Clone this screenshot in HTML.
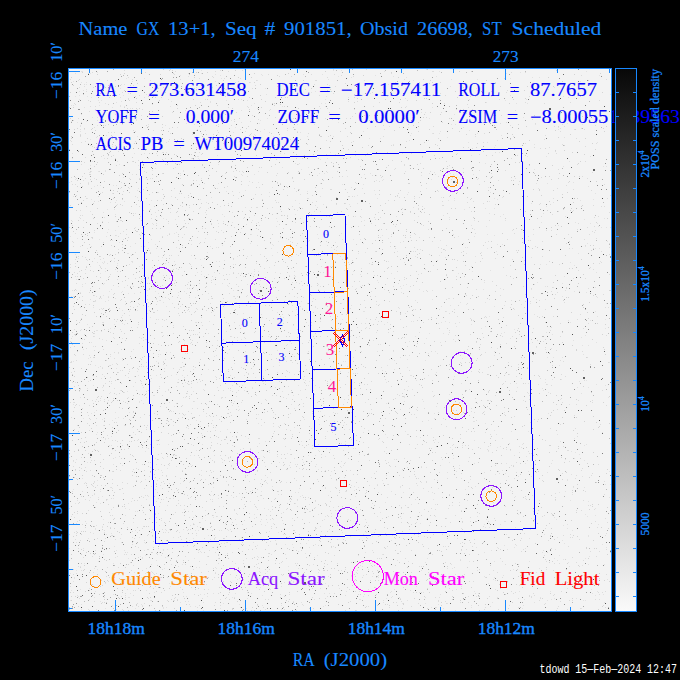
<!DOCTYPE html><html><head><meta charset="utf-8"><style>html,body{margin:0;padding:0;background:#000;}svg{display:block}text{white-space:pre}</style></head><body>
<svg width="680" height="680" viewBox="0 0 680 680" shape-rendering="crispEdges">
<rect x="0" y="0" width="680" height="680" fill="#000"/>
<rect x="69" y="69" width="542" height="542" fill="#f3f3f3"/>
<path fill="#d4d4d4" d="M163 69h1v1h-1M349 69h1v1h-1M427 69h1v1h-1M453 69h1v1h-1M169 70h1v1h-1M172 70h1v1h-1M235 70h1v1h-1M556 70h1v1h-1M325 71h1v1h-1M459 71h1v1h-1M471 71h1v1h-1M82 72h1v1h-1M196 72h1v1h-1M207 72h1v1h-1M391 72h1v1h-1M88 73h1v1h-1M124 73h1v1h-1M173 73h1v1h-1M254 73h1v1h-1M288 73h1v1h-1M506 73h1v1h-1M600 73h1v1h-1M97 74h1v1h-1M120 74h1v1h-1M160 74h1v1h-1M189 74h1v1h-1M311 74h1v1h-1M574 74h1v1h-1M277 75h1v1h-1M363 75h1v1h-1M71 77h1v1h-1M194 77h1v1h-1M238 77h1v1h-1M251 77h1v1h-1M398 77h1v1h-1M548 77h1v1h-1M79 79h1v1h-1M423 79h1v1h-1M223 80h1v1h-1M303 80h1v1h-1M430 80h1v1h-1M486 80h1v1h-1M588 80h1v1h-1M215 81h1v1h-1M562 81h1v1h-1M71 82h1v1h-1M254 82h1v1h-1M419 82h1v1h-1M432 82h1v1h-1M137 83h1v1h-1M295 83h1v1h-1M429 83h1v1h-1M111 84h1v1h-1M202 84h1v1h-1M230 84h1v1h-1M260 84h1v1h-1M299 84h1v1h-1M73 85h1v1h-1M100 85h1v1h-1M108 85h1v1h-1M120 85h1v1h-1M130 85h1v1h-1M216 85h1v1h-1M115 86h1v1h-1M210 86h1v1h-1M500 86h1v1h-1M527 86h1v1h-1M553 86h1v1h-1M105 87h1v1h-1M157 87h1v1h-1M330 87h1v1h-1M108 88h1v1h-1M224 88h1v1h-1M311 88h1v1h-1M405 88h1v1h-1M98 89h1v1h-1M196 89h1v1h-1M203 89h1v1h-1M305 89h1v1h-1M330 89h1v1h-1M469 89h1v1h-1M98 90h1v1h-1M124 90h1v1h-1M206 90h1v1h-1M327 90h1v1h-1M524 90h1v1h-1M533 90h1v1h-1M179 91h1v1h-1M188 91h1v1h-1M331 91h1v1h-1M455 91h1v1h-1M491 91h1v1h-1M70 92h1v1h-1M165 92h1v1h-1M602 92h1v1h-1M100 93h1v1h-1M130 93h1v1h-1M461 93h1v1h-1M83 94h1v1h-1M220 94h1v1h-1M309 94h1v1h-1M354 94h1v1h-1M377 94h1v1h-1M260 95h1v1h-1M148 96h1v1h-1M208 96h1v1h-1M470 96h1v1h-1M580 96h1v1h-1M155 97h1v1h-1M161 97h1v1h-1M275 97h1v1h-1M457 97h1v1h-1M136 98h1v1h-1M357 98h1v1h-1M424 98h1v1h-1M426 98h1v1h-1M525 98h1v1h-1M193 99h1v1h-1M207 99h1v1h-1M261 99h1v1h-1M385 99h1v1h-1M513 99h1v1h-1M129 100h1v1h-1M159 100h1v1h-1M416 100h1v1h-1M90 101h1v1h-1M265 101h1v1h-1M354 102h1v1h-1M485 102h1v1h-1M272 103h1v1h-1M274 103h1v1h-1M432 103h1v1h-1M509 103h1v1h-1M108 104h1v1h-1M152 104h1v1h-1M280 104h1v1h-1M195 105h1v1h-1M217 105h1v1h-1M274 105h1v1h-1M73 107h1v1h-1M124 107h1v1h-1M261 107h1v1h-1M401 107h1v1h-1M127 108h1v1h-1M136 108h1v1h-1M139 108h1v1h-1M177 108h1v1h-1M232 108h1v1h-1M298 108h1v1h-1M249 109h1v1h-1M354 109h1v1h-1M463 109h1v1h-1M590 110h1v1h-1M152 111h1v1h-1M291 111h1v1h-1M329 112h1v1h-1M430 112h1v1h-1M213 113h1v1h-1M285 113h1v1h-1M355 113h1v1h-1M103 114h1v1h-1M225 114h1v1h-1M424 114h1v1h-1M440 114h1v1h-1M369 115h1v1h-1M374 115h1v1h-1M474 115h1v1h-1M495 115h1v1h-1M534 115h1v1h-1M162 116h1v1h-1M582 116h1v1h-1M423 117h1v1h-1M70 118h1v1h-1M130 118h1v1h-1M193 118h1v1h-1M239 118h1v1h-1M350 118h1v1h-1M404 118h1v1h-1M449 118h1v1h-1M196 119h1v1h-1M234 119h1v1h-1M332 119h1v1h-1M231 120h1v1h-1M286 120h1v1h-1M373 120h1v1h-1M420 120h1v1h-1M489 120h1v1h-1M198 121h1v1h-1M154 122h1v1h-1M376 122h1v1h-1M418 122h1v1h-1M100 124h1v1h-1M108 124h1v1h-1M162 124h1v1h-1M518 124h1v1h-1M103 125h1v1h-1M146 125h1v1h-1M201 125h1v1h-1M216 125h1v1h-1M413 125h1v1h-1M494 125h1v1h-1M148 126h1v1h-1M218 126h1v1h-1M248 126h1v1h-1M328 126h1v1h-1M375 126h1v1h-1M526 126h1v1h-1M558 126h1v1h-1M606 126h1v1h-1M172 127h1v1h-1M293 127h1v1h-1M77 128h1v1h-1M84 128h1v1h-1M92 128h1v1h-1M229 128h1v1h-1M246 128h1v1h-1M287 128h1v1h-1M345 128h1v1h-1M452 128h1v1h-1M603 128h1v1h-1M74 129h1v1h-1M91 129h1v1h-1M295 129h1v1h-1M429 129h1v1h-1M496 129h1v1h-1M575 129h1v1h-1M95 130h1v1h-1M161 130h1v1h-1M394 130h1v1h-1M555 130h1v1h-1M69 131h1v1h-1M168 131h1v1h-1M340 131h1v1h-1M459 131h1v1h-1M604 131h1v1h-1M297 132h1v1h-1M350 132h1v1h-1M271 133h1v1h-1M206 134h1v1h-1M250 134h1v1h-1M319 134h1v1h-1M466 134h1v1h-1M475 134h1v1h-1M512 134h1v1h-1M570 134h1v1h-1M80 135h1v1h-1M111 135h1v1h-1M330 135h1v1h-1M71 136h1v1h-1M112 136h1v1h-1M320 136h1v1h-1M321 136h1v1h-1M296 137h1v1h-1M558 137h1v1h-1M71 138h1v1h-1M87 138h1v1h-1M112 138h1v1h-1M181 138h1v1h-1M215 138h1v1h-1M274 138h1v1h-1M585 138h1v1h-1M152 139h1v1h-1M160 139h1v1h-1M206 139h1v1h-1M300 139h1v1h-1M510 139h1v1h-1M125 140h1v1h-1M204 140h1v1h-1M428 140h1v1h-1M529 140h1v1h-1M330 141h1v1h-1M579 141h1v1h-1M123 142h1v1h-1M129 142h1v1h-1M176 142h1v1h-1M226 142h1v1h-1M424 142h1v1h-1M99 143h1v1h-1M134 143h1v1h-1M148 143h1v1h-1M208 143h1v1h-1M298 143h1v1h-1M298 143h1v1h-1M477 143h1v1h-1M592 143h1v1h-1M112 144h1v1h-1M119 144h1v1h-1M198 144h1v1h-1M277 144h1v1h-1M435 144h1v1h-1M90 145h1v1h-1M181 145h1v1h-1M267 145h1v1h-1M274 145h1v1h-1M342 145h1v1h-1M400 145h1v1h-1M564 145h1v1h-1M126 146h1v1h-1M282 146h1v1h-1M94 147h1v1h-1M277 147h1v1h-1M362 147h1v1h-1M405 147h1v1h-1M463 147h1v1h-1M476 147h1v1h-1M270 148h1v1h-1M545 148h1v1h-1M69 149h1v1h-1M595 149h1v1h-1M145 150h1v1h-1M555 150h1v1h-1M564 150h1v1h-1M355 151h1v1h-1M483 151h1v1h-1M109 152h1v1h-1M387 152h1v1h-1M572 152h1v1h-1M149 153h1v1h-1M202 153h1v1h-1M367 153h1v1h-1M548 153h1v1h-1M141 154h1v1h-1M163 154h1v1h-1M174 154h1v1h-1M191 154h1v1h-1M296 154h1v1h-1M313 154h1v1h-1M456 154h1v1h-1M584 154h1v1h-1M103 155h1v1h-1M108 155h1v1h-1M176 155h1v1h-1M256 155h1v1h-1M304 155h1v1h-1M486 155h1v1h-1M492 155h1v1h-1M525 155h1v1h-1M111 156h1v1h-1M195 156h1v1h-1M304 156h1v1h-1M308 156h1v1h-1M422 156h1v1h-1M132 157h1v1h-1M350 157h1v1h-1M107 158h1v1h-1M148 158h1v1h-1M148 158h1v1h-1M192 158h1v1h-1M270 158h1v1h-1M296 158h1v1h-1M162 159h1v1h-1M193 159h1v1h-1M408 159h1v1h-1M163 160h1v1h-1M133 161h1v1h-1M401 161h1v1h-1M580 161h1v1h-1M97 162h1v1h-1M108 162h1v1h-1M135 162h1v1h-1M218 162h1v1h-1M325 162h1v1h-1M331 162h1v1h-1M479 162h1v1h-1M515 162h1v1h-1M519 162h1v1h-1M175 163h1v1h-1M578 163h1v1h-1M96 164h1v1h-1M167 164h1v1h-1M179 164h1v1h-1M202 164h1v1h-1M275 164h1v1h-1M297 164h1v1h-1M338 164h1v1h-1M417 164h1v1h-1M491 164h1v1h-1M116 165h1v1h-1M123 165h1v1h-1M143 165h1v1h-1M202 165h1v1h-1M235 165h1v1h-1M388 165h1v1h-1M552 165h1v1h-1M94 166h1v1h-1M271 166h1v1h-1M447 166h1v1h-1M247 167h1v1h-1M259 167h1v1h-1M338 167h1v1h-1M386 167h1v1h-1M173 168h1v1h-1M317 168h1v1h-1M423 168h1v1h-1M447 168h1v1h-1M139 169h1v1h-1M105 170h1v1h-1M236 170h1v1h-1M346 170h1v1h-1M90 171h1v1h-1M216 171h1v1h-1M298 171h1v1h-1M337 171h1v1h-1M267 172h1v1h-1M288 172h1v1h-1M421 172h1v1h-1M463 172h1v1h-1M489 172h1v1h-1M84 173h1v1h-1M122 173h1v1h-1M163 173h1v1h-1M287 173h1v1h-1M298 173h1v1h-1M404 173h1v1h-1M534 173h1v1h-1M559 173h1v1h-1M89 174h1v1h-1M90 174h1v1h-1M103 174h1v1h-1M136 174h1v1h-1M152 174h1v1h-1M309 174h1v1h-1M119 175h1v1h-1M198 175h1v1h-1M209 175h1v1h-1M380 175h1v1h-1M460 175h1v1h-1M339 176h1v1h-1M382 176h1v1h-1M492 176h1v1h-1M549 176h1v1h-1M574 176h1v1h-1M579 176h1v1h-1M235 177h1v1h-1M292 177h1v1h-1M511 177h1v1h-1M558 178h1v1h-1M90 179h1v1h-1M96 179h1v1h-1M130 179h1v1h-1M139 179h1v1h-1M147 179h1v1h-1M304 179h1v1h-1M442 179h1v1h-1M448 179h1v1h-1M551 179h1v1h-1M77 180h1v1h-1M193 180h1v1h-1M323 180h1v1h-1M511 180h1v1h-1M513 180h1v1h-1M104 181h1v1h-1M241 181h1v1h-1M293 181h1v1h-1M374 181h1v1h-1M484 181h1v1h-1M569 181h1v1h-1M596 181h1v1h-1M221 182h1v1h-1M277 182h1v1h-1M80 183h1v1h-1M408 183h1v1h-1M409 183h1v1h-1M426 183h1v1h-1M182 184h1v1h-1M241 184h1v1h-1M262 184h1v1h-1M280 184h1v1h-1M124 185h1v1h-1M421 185h1v1h-1M597 185h1v1h-1M77 186h1v1h-1M82 186h1v1h-1M121 187h1v1h-1M128 187h1v1h-1M224 187h1v1h-1M256 187h1v1h-1M315 187h1v1h-1M91 188h1v1h-1M355 188h1v1h-1M143 189h1v1h-1M162 189h1v1h-1M283 189h1v1h-1M298 189h1v1h-1M345 189h1v1h-1M533 189h1v1h-1M539 189h1v1h-1M113 190h1v1h-1M171 190h1v1h-1M180 190h1v1h-1M379 190h1v1h-1M400 190h1v1h-1M437 190h1v1h-1M488 190h1v1h-1M539 190h1v1h-1M553 190h1v1h-1M77 191h1v1h-1M117 191h1v1h-1M420 191h1v1h-1M69 192h1v1h-1M69 192h1v1h-1M129 192h1v1h-1M140 192h1v1h-1M457 192h1v1h-1M567 192h1v1h-1M100 193h1v1h-1M113 193h1v1h-1M181 193h1v1h-1M307 193h1v1h-1M364 193h1v1h-1M509 193h1v1h-1M122 194h1v1h-1M163 194h1v1h-1M379 194h1v1h-1M390 194h1v1h-1M562 194h1v1h-1M188 195h1v1h-1M233 195h1v1h-1M287 195h1v1h-1M397 195h1v1h-1M541 195h1v1h-1M85 196h1v1h-1M395 196h1v1h-1M414 196h1v1h-1M503 196h1v1h-1M527 196h1v1h-1M175 197h1v1h-1M404 197h1v1h-1M443 197h1v1h-1M467 197h1v1h-1M146 198h1v1h-1M163 198h1v1h-1M253 198h1v1h-1M471 198h1v1h-1M577 198h1v1h-1M122 199h1v1h-1M470 199h1v1h-1M83 200h1v1h-1M138 200h1v1h-1M157 200h1v1h-1M394 200h1v1h-1M523 200h1v1h-1M140 201h1v1h-1M487 201h1v1h-1M549 201h1v1h-1M81 202h1v1h-1M212 202h1v1h-1M573 202h1v1h-1M93 203h1v1h-1M201 203h1v1h-1M208 203h1v1h-1M336 203h1v1h-1M344 203h1v1h-1M385 203h1v1h-1M120 204h1v1h-1M136 204h1v1h-1M171 204h1v1h-1M193 204h1v1h-1M217 204h1v1h-1M116 205h1v1h-1M186 205h1v1h-1M224 205h1v1h-1M380 205h1v1h-1M418 205h1v1h-1M582 205h1v1h-1M86 206h1v1h-1M131 206h1v1h-1M154 206h1v1h-1M231 206h1v1h-1M326 206h1v1h-1M581 206h1v1h-1M299 207h1v1h-1M97 208h1v1h-1M288 208h1v1h-1M346 208h1v1h-1M451 208h1v1h-1M455 208h1v1h-1M571 208h1v1h-1M294 209h1v1h-1M347 209h1v1h-1M404 209h1v1h-1M76 210h1v1h-1M149 210h1v1h-1M158 210h1v1h-1M185 210h1v1h-1M206 210h1v1h-1M547 210h1v1h-1M570 210h1v1h-1M177 211h1v1h-1M281 211h1v1h-1M410 211h1v1h-1M525 211h1v1h-1M572 211h1v1h-1M129 212h1v1h-1M176 212h1v1h-1M337 212h1v1h-1M421 212h1v1h-1M424 212h1v1h-1M447 213h1v1h-1M92 214h1v1h-1M151 214h1v1h-1M272 214h1v1h-1M330 214h1v1h-1M375 214h1v1h-1M429 214h1v1h-1M494 214h1v1h-1M133 215h1v1h-1M281 215h1v1h-1M284 215h1v1h-1M115 216h1v1h-1M178 216h1v1h-1M329 216h1v1h-1M353 216h1v1h-1M360 216h1v1h-1M244 217h1v1h-1M249 217h1v1h-1M265 217h1v1h-1M473 217h1v1h-1M93 218h1v1h-1M120 218h1v1h-1M139 218h1v1h-1M189 218h1v1h-1M505 218h1v1h-1M537 218h1v1h-1M607 218h1v1h-1M78 220h1v1h-1M141 220h1v1h-1M217 220h1v1h-1M261 220h1v1h-1M116 221h1v1h-1M122 221h1v1h-1M168 221h1v1h-1M428 221h1v1h-1M478 221h1v1h-1M303 222h1v1h-1M596 222h1v1h-1M185 223h1v1h-1M223 223h1v1h-1M383 223h1v1h-1M400 223h1v1h-1M176 224h1v1h-1M211 224h1v1h-1M393 224h1v1h-1M396 224h1v1h-1M421 224h1v1h-1M156 225h1v1h-1M375 225h1v1h-1M555 225h1v1h-1M100 226h1v1h-1M184 226h1v1h-1M345 226h1v1h-1M561 226h1v1h-1M83 227h1v1h-1M142 227h1v1h-1M186 227h1v1h-1M351 227h1v1h-1M551 227h1v1h-1M134 228h1v1h-1M152 228h1v1h-1M156 228h1v1h-1M160 228h1v1h-1M256 228h1v1h-1M446 228h1v1h-1M472 228h1v1h-1M516 228h1v1h-1M126 229h1v1h-1M258 229h1v1h-1M381 229h1v1h-1M406 229h1v1h-1M513 229h1v1h-1M135 230h1v1h-1M73 231h1v1h-1M136 231h1v1h-1M137 231h1v1h-1M406 231h1v1h-1M218 232h1v1h-1M87 233h1v1h-1M414 233h1v1h-1M502 233h1v1h-1M81 234h1v1h-1M169 234h1v1h-1M178 234h1v1h-1M207 234h1v1h-1M272 234h1v1h-1M359 234h1v1h-1M87 235h1v1h-1M300 235h1v1h-1M339 235h1v1h-1M378 235h1v1h-1M403 235h1v1h-1M405 235h1v1h-1M178 236h1v1h-1M92 237h1v1h-1M128 237h1v1h-1M162 237h1v1h-1M197 237h1v1h-1M378 237h1v1h-1M405 237h1v1h-1M410 237h1v1h-1M454 237h1v1h-1M571 237h1v1h-1M248 238h1v1h-1M270 238h1v1h-1M364 238h1v1h-1M288 239h1v1h-1M468 239h1v1h-1M110 240h1v1h-1M127 240h1v1h-1M178 240h1v1h-1M189 240h1v1h-1M191 240h1v1h-1M264 240h1v1h-1M375 240h1v1h-1M411 240h1v1h-1M416 240h1v1h-1M159 241h1v1h-1M224 241h1v1h-1M491 241h1v1h-1M569 241h1v1h-1M84 242h1v1h-1M103 242h1v1h-1M200 242h1v1h-1M204 242h1v1h-1M320 242h1v1h-1M382 242h1v1h-1M522 242h1v1h-1M372 243h1v1h-1M463 243h1v1h-1M566 243h1v1h-1M89 244h1v1h-1M356 244h1v1h-1M182 245h1v1h-1M320 245h1v1h-1M483 245h1v1h-1M590 245h1v1h-1M593 245h1v1h-1M101 246h1v1h-1M230 246h1v1h-1M337 246h1v1h-1M122 247h1v1h-1M405 247h1v1h-1M537 247h1v1h-1M212 248h1v1h-1M367 248h1v1h-1M532 248h1v1h-1M243 249h1v1h-1M382 249h1v1h-1M417 249h1v1h-1M443 249h1v1h-1M543 249h1v1h-1M96 250h1v1h-1M122 250h1v1h-1M312 250h1v1h-1M422 250h1v1h-1M518 250h1v1h-1M591 250h1v1h-1M358 251h1v1h-1M376 251h1v1h-1M463 251h1v1h-1M394 252h1v1h-1M517 252h1v1h-1M150 253h1v1h-1M230 253h1v1h-1M318 253h1v1h-1M343 253h1v1h-1M419 253h1v1h-1M480 253h1v1h-1M132 254h1v1h-1M324 254h1v1h-1M417 254h1v1h-1M239 255h1v1h-1M406 255h1v1h-1M481 255h1v1h-1M565 255h1v1h-1M99 256h1v1h-1M264 256h1v1h-1M397 256h1v1h-1M417 257h1v1h-1M522 257h1v1h-1M114 258h1v1h-1M166 258h1v1h-1M169 258h1v1h-1M195 258h1v1h-1M204 258h1v1h-1M233 258h1v1h-1M246 258h1v1h-1M356 258h1v1h-1M86 259h1v1h-1M342 259h1v1h-1M345 259h1v1h-1M452 259h1v1h-1M454 259h1v1h-1M581 259h1v1h-1M152 260h1v1h-1M384 260h1v1h-1M92 261h1v1h-1M335 261h1v1h-1M386 261h1v1h-1M463 261h1v1h-1M465 261h1v1h-1M480 261h1v1h-1M168 262h1v1h-1M275 262h1v1h-1M285 262h1v1h-1M353 262h1v1h-1M372 262h1v1h-1M189 263h1v1h-1M296 263h1v1h-1M593 263h1v1h-1M175 264h1v1h-1M349 264h1v1h-1M372 264h1v1h-1M424 264h1v1h-1M524 264h1v1h-1M534 264h1v1h-1M174 265h1v1h-1M411 265h1v1h-1M465 265h1v1h-1M75 266h1v1h-1M260 266h1v1h-1M287 266h1v1h-1M305 266h1v1h-1M391 266h1v1h-1M86 267h1v1h-1M245 267h1v1h-1M388 267h1v1h-1M456 267h1v1h-1M101 268h1v1h-1M142 268h1v1h-1M223 268h1v1h-1M387 268h1v1h-1M569 268h1v1h-1M572 268h1v1h-1M589 268h1v1h-1M173 269h1v1h-1M173 269h1v1h-1M437 269h1v1h-1M469 269h1v1h-1M81 270h1v1h-1M90 270h1v1h-1M170 270h1v1h-1M453 270h1v1h-1M120 271h1v1h-1M184 271h1v1h-1M217 271h1v1h-1M254 271h1v1h-1M373 271h1v1h-1M384 271h1v1h-1M416 271h1v1h-1M267 272h1v1h-1M287 272h1v1h-1M233 273h1v1h-1M367 273h1v1h-1M133 274h1v1h-1M226 274h1v1h-1M245 274h1v1h-1M306 274h1v1h-1M583 274h1v1h-1M166 275h1v1h-1M182 275h1v1h-1M195 275h1v1h-1M377 275h1v1h-1M410 275h1v1h-1M446 275h1v1h-1M555 275h1v1h-1M96 276h1v1h-1M109 276h1v1h-1M204 276h1v1h-1M253 276h1v1h-1M289 276h1v1h-1M361 276h1v1h-1M464 276h1v1h-1M510 276h1v1h-1M100 277h1v1h-1M139 277h1v1h-1M148 277h1v1h-1M207 277h1v1h-1M265 277h1v1h-1M294 277h1v1h-1M83 278h1v1h-1M387 278h1v1h-1M406 278h1v1h-1M163 279h1v1h-1M224 279h1v1h-1M227 279h1v1h-1M456 279h1v1h-1M472 279h1v1h-1M125 280h1v1h-1M241 280h1v1h-1M278 281h1v1h-1M354 281h1v1h-1M416 281h1v1h-1M440 281h1v1h-1M422 282h1v1h-1M553 282h1v1h-1M140 283h1v1h-1M147 283h1v1h-1M149 283h1v1h-1M229 283h1v1h-1M317 283h1v1h-1M578 283h1v1h-1M132 284h1v1h-1M172 284h1v1h-1M187 284h1v1h-1M190 284h1v1h-1M385 284h1v1h-1M185 285h1v1h-1M307 285h1v1h-1M317 285h1v1h-1M413 285h1v1h-1M496 285h1v1h-1M130 286h1v1h-1M160 286h1v1h-1M206 286h1v1h-1M205 287h1v1h-1M452 287h1v1h-1M467 287h1v1h-1M99 288h1v1h-1M569 288h1v1h-1M75 289h1v1h-1M292 289h1v1h-1M355 289h1v1h-1M74 290h1v1h-1M237 290h1v1h-1M259 290h1v1h-1M609 290h1v1h-1M610 290h1v1h-1M268 291h1v1h-1M324 291h1v1h-1M495 291h1v1h-1M140 292h1v1h-1M80 293h1v1h-1M114 293h1v1h-1M289 293h1v1h-1M403 293h1v1h-1M77 294h1v1h-1M310 294h1v1h-1M525 294h1v1h-1M93 295h1v1h-1M189 295h1v1h-1M472 295h1v1h-1M593 295h1v1h-1M100 296h1v1h-1M172 296h1v1h-1M211 296h1v1h-1M347 296h1v1h-1M370 296h1v1h-1M478 296h1v1h-1M72 297h1v1h-1M79 297h1v1h-1M100 297h1v1h-1M177 297h1v1h-1M332 297h1v1h-1M533 297h1v1h-1M566 297h1v1h-1M568 297h1v1h-1M99 298h1v1h-1M156 298h1v1h-1M212 298h1v1h-1M453 298h1v1h-1M470 298h1v1h-1M487 298h1v1h-1M554 298h1v1h-1M121 299h1v1h-1M82 300h1v1h-1M334 300h1v1h-1M519 300h1v1h-1M563 300h1v1h-1M93 301h1v1h-1M505 301h1v1h-1M525 301h1v1h-1M326 302h1v1h-1M589 302h1v1h-1M193 303h1v1h-1M193 303h1v1h-1M222 303h1v1h-1M307 303h1v1h-1M340 303h1v1h-1M607 303h1v1h-1M182 304h1v1h-1M360 304h1v1h-1M511 304h1v1h-1M583 304h1v1h-1M93 305h1v1h-1M143 305h1v1h-1M191 305h1v1h-1M246 305h1v1h-1M269 305h1v1h-1M378 305h1v1h-1M458 305h1v1h-1M223 306h1v1h-1M539 306h1v1h-1M174 307h1v1h-1M188 307h1v1h-1M365 307h1v1h-1M409 307h1v1h-1M524 307h1v1h-1M583 307h1v1h-1M103 308h1v1h-1M109 308h1v1h-1M513 308h1v1h-1M74 309h1v1h-1M130 309h1v1h-1M188 309h1v1h-1M235 309h1v1h-1M302 309h1v1h-1M468 309h1v1h-1M110 310h1v1h-1M169 311h1v1h-1M195 311h1v1h-1M334 311h1v1h-1M407 311h1v1h-1M452 311h1v1h-1M94 312h1v1h-1M105 312h1v1h-1M153 312h1v1h-1M154 312h1v1h-1M185 312h1v1h-1M259 312h1v1h-1M454 312h1v1h-1M571 312h1v1h-1M587 312h1v1h-1M101 313h1v1h-1M101 313h1v1h-1M124 313h1v1h-1M230 313h1v1h-1M298 313h1v1h-1M400 313h1v1h-1M82 314h1v1h-1M191 314h1v1h-1M342 314h1v1h-1M400 314h1v1h-1M85 315h1v1h-1M214 315h1v1h-1M295 315h1v1h-1M518 315h1v1h-1M96 316h1v1h-1M106 316h1v1h-1M337 316h1v1h-1M100 317h1v1h-1M121 317h1v1h-1M224 317h1v1h-1M376 317h1v1h-1M431 317h1v1h-1M539 317h1v1h-1M273 318h1v1h-1M336 318h1v1h-1M436 318h1v1h-1M588 318h1v1h-1M114 319h1v1h-1M117 319h1v1h-1M162 319h1v1h-1M370 319h1v1h-1M370 319h1v1h-1M498 319h1v1h-1M76 320h1v1h-1M80 320h1v1h-1M191 320h1v1h-1M269 320h1v1h-1M417 320h1v1h-1M471 320h1v1h-1M473 320h1v1h-1M381 321h1v1h-1M79 322h1v1h-1M138 322h1v1h-1M287 322h1v1h-1M127 323h1v1h-1M155 323h1v1h-1M271 323h1v1h-1M340 323h1v1h-1M520 323h1v1h-1M597 323h1v1h-1M102 324h1v1h-1M213 324h1v1h-1M293 324h1v1h-1M373 324h1v1h-1M377 324h1v1h-1M605 324h1v1h-1M173 325h1v1h-1M247 325h1v1h-1M527 325h1v1h-1M92 326h1v1h-1M146 326h1v1h-1M529 326h1v1h-1M89 327h1v1h-1M173 327h1v1h-1M403 327h1v1h-1M608 327h1v1h-1M240 328h1v1h-1M390 328h1v1h-1M439 328h1v1h-1M447 328h1v1h-1M518 328h1v1h-1M104 329h1v1h-1M101 330h1v1h-1M189 330h1v1h-1M193 330h1v1h-1M284 330h1v1h-1M300 330h1v1h-1M311 330h1v1h-1M361 330h1v1h-1M377 330h1v1h-1M517 330h1v1h-1M94 331h1v1h-1M490 331h1v1h-1M92 332h1v1h-1M161 332h1v1h-1M288 332h1v1h-1M515 332h1v1h-1M532 332h1v1h-1M562 332h1v1h-1M76 333h1v1h-1M93 333h1v1h-1M113 333h1v1h-1M124 333h1v1h-1M290 333h1v1h-1M298 333h1v1h-1M315 333h1v1h-1M69 334h1v1h-1M75 334h1v1h-1M193 334h1v1h-1M602 334h1v1h-1M75 335h1v1h-1M310 335h1v1h-1M500 335h1v1h-1M162 336h1v1h-1M199 336h1v1h-1M271 336h1v1h-1M286 336h1v1h-1M289 336h1v1h-1M313 336h1v1h-1M327 336h1v1h-1M143 337h1v1h-1M234 337h1v1h-1M270 337h1v1h-1M404 337h1v1h-1M99 338h1v1h-1M154 338h1v1h-1M398 338h1v1h-1M401 338h1v1h-1M84 339h1v1h-1M190 339h1v1h-1M337 339h1v1h-1M458 339h1v1h-1M531 339h1v1h-1M545 339h1v1h-1M592 339h1v1h-1M179 341h1v1h-1M290 341h1v1h-1M434 341h1v1h-1M445 341h1v1h-1M476 341h1v1h-1M89 342h1v1h-1M197 342h1v1h-1M308 342h1v1h-1M385 342h1v1h-1M405 342h1v1h-1M562 342h1v1h-1M78 343h1v1h-1M153 343h1v1h-1M417 343h1v1h-1M72 344h1v1h-1M192 344h1v1h-1M168 345h1v1h-1M212 345h1v1h-1M245 345h1v1h-1M389 345h1v1h-1M441 345h1v1h-1M572 345h1v1h-1M74 346h1v1h-1M142 346h1v1h-1M324 346h1v1h-1M331 346h1v1h-1M416 346h1v1h-1M468 346h1v1h-1M70 347h1v1h-1M360 347h1v1h-1M491 347h1v1h-1M603 347h1v1h-1M216 348h1v1h-1M259 348h1v1h-1M260 348h1v1h-1M328 348h1v1h-1M479 349h1v1h-1M576 349h1v1h-1M604 349h1v1h-1M150 350h1v1h-1M238 350h1v1h-1M355 350h1v1h-1M576 350h1v1h-1M77 351h1v1h-1M334 351h1v1h-1M339 351h1v1h-1M377 351h1v1h-1M166 352h1v1h-1M192 352h1v1h-1M263 352h1v1h-1M153 353h1v1h-1M307 353h1v1h-1M311 353h1v1h-1M419 353h1v1h-1M499 353h1v1h-1M74 354h1v1h-1M481 354h1v1h-1M605 354h1v1h-1M345 355h1v1h-1M460 355h1v1h-1M480 355h1v1h-1M130 356h1v1h-1M144 356h1v1h-1M149 356h1v1h-1M246 356h1v1h-1M285 356h1v1h-1M452 356h1v1h-1M94 357h1v1h-1M521 357h1v1h-1M524 357h1v1h-1M586 357h1v1h-1M189 358h1v1h-1M276 358h1v1h-1M329 358h1v1h-1M141 359h1v1h-1M200 359h1v1h-1M209 359h1v1h-1M271 359h1v1h-1M443 359h1v1h-1M290 360h1v1h-1M291 360h1v1h-1M336 360h1v1h-1M376 360h1v1h-1M91 361h1v1h-1M315 361h1v1h-1M353 361h1v1h-1M532 361h1v1h-1M199 362h1v1h-1M465 362h1v1h-1M469 362h1v1h-1M158 363h1v1h-1M247 363h1v1h-1M297 363h1v1h-1M396 363h1v1h-1M88 364h1v1h-1M90 364h1v1h-1M117 364h1v1h-1M141 364h1v1h-1M148 364h1v1h-1M163 364h1v1h-1M204 364h1v1h-1M324 364h1v1h-1M341 364h1v1h-1M361 364h1v1h-1M449 364h1v1h-1M305 365h1v1h-1M440 365h1v1h-1M139 366h1v1h-1M148 366h1v1h-1M183 366h1v1h-1M193 366h1v1h-1M490 366h1v1h-1M511 366h1v1h-1M69 367h1v1h-1M181 367h1v1h-1M231 367h1v1h-1M365 367h1v1h-1M365 367h1v1h-1M488 367h1v1h-1M518 367h1v1h-1M81 368h1v1h-1M132 368h1v1h-1M147 368h1v1h-1M243 368h1v1h-1M251 368h1v1h-1M334 368h1v1h-1M521 368h1v1h-1M527 368h1v1h-1M208 369h1v1h-1M449 369h1v1h-1M479 369h1v1h-1M153 370h1v1h-1M183 370h1v1h-1M314 370h1v1h-1M583 370h1v1h-1M74 371h1v1h-1M190 371h1v1h-1M228 371h1v1h-1M299 371h1v1h-1M117 372h1v1h-1M246 372h1v1h-1M479 372h1v1h-1M128 373h1v1h-1M253 373h1v1h-1M368 373h1v1h-1M378 373h1v1h-1M400 373h1v1h-1M72 374h1v1h-1M160 374h1v1h-1M201 374h1v1h-1M294 374h1v1h-1M435 374h1v1h-1M487 374h1v1h-1M508 374h1v1h-1M92 375h1v1h-1M125 375h1v1h-1M150 375h1v1h-1M504 375h1v1h-1M534 375h1v1h-1M74 376h1v1h-1M96 376h1v1h-1M167 376h1v1h-1M347 376h1v1h-1M413 376h1v1h-1M539 376h1v1h-1M87 377h1v1h-1M165 377h1v1h-1M467 377h1v1h-1M498 377h1v1h-1M364 378h1v1h-1M424 378h1v1h-1M521 378h1v1h-1M584 378h1v1h-1M199 379h1v1h-1M303 379h1v1h-1M453 379h1v1h-1M560 379h1v1h-1M561 379h1v1h-1M90 380h1v1h-1M115 380h1v1h-1M140 380h1v1h-1M202 380h1v1h-1M325 380h1v1h-1M339 380h1v1h-1M478 380h1v1h-1M109 381h1v1h-1M191 381h1v1h-1M262 381h1v1h-1M388 381h1v1h-1M406 381h1v1h-1M164 382h1v1h-1M178 382h1v1h-1M234 382h1v1h-1M244 382h1v1h-1M255 382h1v1h-1M304 382h1v1h-1M182 383h1v1h-1M523 383h1v1h-1M237 384h1v1h-1M265 384h1v1h-1M312 384h1v1h-1M345 384h1v1h-1M78 385h1v1h-1M103 385h1v1h-1M421 385h1v1h-1M183 386h1v1h-1M239 386h1v1h-1M583 386h1v1h-1M340 387h1v1h-1M422 387h1v1h-1M230 388h1v1h-1M360 388h1v1h-1M305 389h1v1h-1M366 389h1v1h-1M370 389h1v1h-1M103 390h1v1h-1M121 390h1v1h-1M218 390h1v1h-1M266 390h1v1h-1M291 390h1v1h-1M407 390h1v1h-1M466 390h1v1h-1M489 390h1v1h-1M509 390h1v1h-1M127 391h1v1h-1M146 391h1v1h-1M187 391h1v1h-1M123 392h1v1h-1M291 392h1v1h-1M591 392h1v1h-1M114 393h1v1h-1M119 393h1v1h-1M186 393h1v1h-1M402 393h1v1h-1M539 393h1v1h-1M191 394h1v1h-1M288 394h1v1h-1M462 394h1v1h-1M133 395h1v1h-1M144 395h1v1h-1M214 395h1v1h-1M414 395h1v1h-1M556 395h1v1h-1M98 396h1v1h-1M186 396h1v1h-1M251 396h1v1h-1M402 396h1v1h-1M403 396h1v1h-1M433 396h1v1h-1M609 396h1v1h-1M97 397h1v1h-1M306 397h1v1h-1M512 397h1v1h-1M127 398h1v1h-1M189 398h1v1h-1M197 398h1v1h-1M292 399h1v1h-1M348 399h1v1h-1M368 399h1v1h-1M393 399h1v1h-1M576 399h1v1h-1M117 400h1v1h-1M242 400h1v1h-1M481 400h1v1h-1M487 400h1v1h-1M95 401h1v1h-1M98 401h1v1h-1M104 401h1v1h-1M209 401h1v1h-1M234 401h1v1h-1M319 401h1v1h-1M525 401h1v1h-1M590 401h1v1h-1M111 402h1v1h-1M231 402h1v1h-1M347 402h1v1h-1M553 402h1v1h-1M603 402h1v1h-1M93 403h1v1h-1M201 403h1v1h-1M437 403h1v1h-1M76 404h1v1h-1M206 404h1v1h-1M370 404h1v1h-1M556 404h1v1h-1M483 405h1v1h-1M496 405h1v1h-1M586 405h1v1h-1M181 406h1v1h-1M484 406h1v1h-1M487 406h1v1h-1M74 407h1v1h-1M119 407h1v1h-1M166 407h1v1h-1M329 407h1v1h-1M417 407h1v1h-1M444 407h1v1h-1M504 407h1v1h-1M122 408h1v1h-1M320 408h1v1h-1M333 408h1v1h-1M489 408h1v1h-1M228 409h1v1h-1M236 409h1v1h-1M103 410h1v1h-1M170 410h1v1h-1M272 410h1v1h-1M347 410h1v1h-1M352 410h1v1h-1M456 410h1v1h-1M553 410h1v1h-1M564 410h1v1h-1M73 411h1v1h-1M133 411h1v1h-1M267 411h1v1h-1M312 411h1v1h-1M318 411h1v1h-1M363 411h1v1h-1M395 411h1v1h-1M87 412h1v1h-1M115 412h1v1h-1M135 412h1v1h-1M273 412h1v1h-1M381 412h1v1h-1M396 412h1v1h-1M463 412h1v1h-1M483 412h1v1h-1M551 412h1v1h-1M179 413h1v1h-1M228 413h1v1h-1M335 413h1v1h-1M371 413h1v1h-1M397 413h1v1h-1M457 413h1v1h-1M144 414h1v1h-1M157 414h1v1h-1M183 414h1v1h-1M288 414h1v1h-1M484 414h1v1h-1M209 415h1v1h-1M216 415h1v1h-1M505 415h1v1h-1M550 415h1v1h-1M213 416h1v1h-1M221 416h1v1h-1M229 416h1v1h-1M367 416h1v1h-1M593 416h1v1h-1M182 417h1v1h-1M193 417h1v1h-1M273 417h1v1h-1M288 417h1v1h-1M303 417h1v1h-1M511 417h1v1h-1M562 417h1v1h-1M576 417h1v1h-1M89 418h1v1h-1M104 418h1v1h-1M123 418h1v1h-1M256 418h1v1h-1M405 418h1v1h-1M455 418h1v1h-1M129 419h1v1h-1M171 419h1v1h-1M188 419h1v1h-1M445 419h1v1h-1M534 419h1v1h-1M152 420h1v1h-1M167 420h1v1h-1M300 420h1v1h-1M326 420h1v1h-1M353 420h1v1h-1M168 421h1v1h-1M173 421h1v1h-1M221 421h1v1h-1M337 421h1v1h-1M359 421h1v1h-1M584 421h1v1h-1M114 422h1v1h-1M230 422h1v1h-1M264 422h1v1h-1M596 422h1v1h-1M166 423h1v1h-1M211 423h1v1h-1M609 423h1v1h-1M130 424h1v1h-1M169 424h1v1h-1M491 424h1v1h-1M89 425h1v1h-1M104 425h1v1h-1M125 425h1v1h-1M144 425h1v1h-1M208 425h1v1h-1M329 425h1v1h-1M524 425h1v1h-1M309 426h1v1h-1M361 426h1v1h-1M522 426h1v1h-1M599 426h1v1h-1M79 427h1v1h-1M112 427h1v1h-1M213 427h1v1h-1M279 427h1v1h-1M455 427h1v1h-1M462 427h1v1h-1M598 427h1v1h-1M91 428h1v1h-1M487 428h1v1h-1M137 429h1v1h-1M593 429h1v1h-1M118 430h1v1h-1M416 430h1v1h-1M556 430h1v1h-1M573 430h1v1h-1M78 431h1v1h-1M210 431h1v1h-1M274 431h1v1h-1M471 431h1v1h-1M81 432h1v1h-1M141 432h1v1h-1M161 432h1v1h-1M230 432h1v1h-1M237 432h1v1h-1M299 432h1v1h-1M168 433h1v1h-1M309 433h1v1h-1M577 433h1v1h-1M335 434h1v1h-1M460 434h1v1h-1M130 435h1v1h-1M241 435h1v1h-1M393 435h1v1h-1M427 435h1v1h-1M443 435h1v1h-1M226 436h1v1h-1M292 436h1v1h-1M491 436h1v1h-1M85 437h1v1h-1M210 437h1v1h-1M218 437h1v1h-1M236 437h1v1h-1M81 438h1v1h-1M291 438h1v1h-1M379 438h1v1h-1M452 438h1v1h-1M490 438h1v1h-1M184 439h1v1h-1M224 439h1v1h-1M533 439h1v1h-1M542 439h1v1h-1M72 440h1v1h-1M122 440h1v1h-1M134 440h1v1h-1M157 440h1v1h-1M356 440h1v1h-1M433 440h1v1h-1M495 440h1v1h-1M86 441h1v1h-1M131 441h1v1h-1M172 441h1v1h-1M359 441h1v1h-1M424 441h1v1h-1M80 442h1v1h-1M84 442h1v1h-1M96 442h1v1h-1M104 442h1v1h-1M144 442h1v1h-1M233 442h1v1h-1M383 442h1v1h-1M426 442h1v1h-1M484 442h1v1h-1M120 443h1v1h-1M187 443h1v1h-1M227 443h1v1h-1M610 443h1v1h-1M150 444h1v1h-1M220 444h1v1h-1M299 444h1v1h-1M345 444h1v1h-1M422 444h1v1h-1M127 445h1v1h-1M211 445h1v1h-1M306 445h1v1h-1M549 445h1v1h-1M550 445h1v1h-1M82 446h1v1h-1M138 446h1v1h-1M558 446h1v1h-1M142 447h1v1h-1M146 447h1v1h-1M304 447h1v1h-1M368 447h1v1h-1M455 447h1v1h-1M478 447h1v1h-1M506 447h1v1h-1M526 447h1v1h-1M415 448h1v1h-1M429 448h1v1h-1M503 448h1v1h-1M537 448h1v1h-1M558 448h1v1h-1M78 449h1v1h-1M94 449h1v1h-1M250 449h1v1h-1M510 449h1v1h-1M85 450h1v1h-1M115 450h1v1h-1M391 450h1v1h-1M496 450h1v1h-1M74 451h1v1h-1M92 451h1v1h-1M98 451h1v1h-1M232 451h1v1h-1M556 451h1v1h-1M258 452h1v1h-1M310 452h1v1h-1M311 452h1v1h-1M432 452h1v1h-1M549 452h1v1h-1M593 452h1v1h-1M111 453h1v1h-1M237 453h1v1h-1M368 453h1v1h-1M429 453h1v1h-1M130 454h1v1h-1M167 454h1v1h-1M173 454h1v1h-1M174 454h1v1h-1M284 454h1v1h-1M291 454h1v1h-1M132 455h1v1h-1M173 455h1v1h-1M198 455h1v1h-1M225 455h1v1h-1M364 455h1v1h-1M501 455h1v1h-1M533 455h1v1h-1M167 456h1v1h-1M204 457h1v1h-1M230 457h1v1h-1M321 457h1v1h-1M419 457h1v1h-1M561 457h1v1h-1M121 458h1v1h-1M186 458h1v1h-1M258 458h1v1h-1M259 458h1v1h-1M285 458h1v1h-1M334 458h1v1h-1M580 458h1v1h-1M103 459h1v1h-1M157 459h1v1h-1M351 459h1v1h-1M224 460h1v1h-1M432 460h1v1h-1M180 461h1v1h-1M229 461h1v1h-1M311 461h1v1h-1M523 461h1v1h-1M100 462h1v1h-1M136 462h1v1h-1M283 462h1v1h-1M290 462h1v1h-1M406 462h1v1h-1M478 462h1v1h-1M564 462h1v1h-1M120 463h1v1h-1M169 463h1v1h-1M344 463h1v1h-1M379 463h1v1h-1M386 463h1v1h-1M496 463h1v1h-1M501 463h1v1h-1M520 463h1v1h-1M587 463h1v1h-1M168 464h1v1h-1M183 464h1v1h-1M254 464h1v1h-1M284 464h1v1h-1M304 464h1v1h-1M164 465h1v1h-1M283 465h1v1h-1M389 465h1v1h-1M495 465h1v1h-1M100 466h1v1h-1M148 466h1v1h-1M188 466h1v1h-1M191 466h1v1h-1M296 466h1v1h-1M395 466h1v1h-1M491 466h1v1h-1M513 466h1v1h-1M549 466h1v1h-1M79 467h1v1h-1M290 467h1v1h-1M334 467h1v1h-1M509 467h1v1h-1M303 468h1v1h-1M75 469h1v1h-1M116 469h1v1h-1M138 469h1v1h-1M233 469h1v1h-1M235 469h1v1h-1M286 469h1v1h-1M302 469h1v1h-1M306 469h1v1h-1M558 469h1v1h-1M607 469h1v1h-1M210 470h1v1h-1M257 470h1v1h-1M328 470h1v1h-1M334 470h1v1h-1M490 470h1v1h-1M533 470h1v1h-1M559 470h1v1h-1M113 471h1v1h-1M182 471h1v1h-1M206 471h1v1h-1M296 471h1v1h-1M321 471h1v1h-1M538 471h1v1h-1M150 472h1v1h-1M430 472h1v1h-1M566 472h1v1h-1M185 473h1v1h-1M606 473h1v1h-1M154 474h1v1h-1M199 474h1v1h-1M255 474h1v1h-1M357 474h1v1h-1M414 474h1v1h-1M520 474h1v1h-1M82 475h1v1h-1M92 475h1v1h-1M100 475h1v1h-1M101 475h1v1h-1M132 475h1v1h-1M209 475h1v1h-1M220 475h1v1h-1M542 475h1v1h-1M69 476h1v1h-1M136 476h1v1h-1M175 476h1v1h-1M303 476h1v1h-1M470 476h1v1h-1M103 477h1v1h-1M155 477h1v1h-1M403 477h1v1h-1M456 477h1v1h-1M589 477h1v1h-1M217 478h1v1h-1M294 478h1v1h-1M416 478h1v1h-1M484 478h1v1h-1M539 478h1v1h-1M77 479h1v1h-1M201 479h1v1h-1M254 479h1v1h-1M562 479h1v1h-1M200 480h1v1h-1M265 480h1v1h-1M350 480h1v1h-1M506 480h1v1h-1M141 481h1v1h-1M183 481h1v1h-1M264 481h1v1h-1M281 481h1v1h-1M367 481h1v1h-1M420 481h1v1h-1M543 481h1v1h-1M280 482h1v1h-1M356 482h1v1h-1M468 482h1v1h-1M596 482h1v1h-1M86 483h1v1h-1M93 483h1v1h-1M213 483h1v1h-1M500 483h1v1h-1M91 484h1v1h-1M156 484h1v1h-1M211 484h1v1h-1M228 484h1v1h-1M509 484h1v1h-1M577 484h1v1h-1M105 485h1v1h-1M117 485h1v1h-1M402 485h1v1h-1M133 486h1v1h-1M156 486h1v1h-1M322 486h1v1h-1M468 486h1v1h-1M95 487h1v1h-1M168 487h1v1h-1M335 487h1v1h-1M431 487h1v1h-1M471 487h1v1h-1M122 488h1v1h-1M176 488h1v1h-1M310 488h1v1h-1M336 488h1v1h-1M374 488h1v1h-1M119 489h1v1h-1M171 489h1v1h-1M245 489h1v1h-1M272 489h1v1h-1M356 489h1v1h-1M482 489h1v1h-1M112 490h1v1h-1M228 490h1v1h-1M339 490h1v1h-1M346 490h1v1h-1M366 490h1v1h-1M521 490h1v1h-1M572 490h1v1h-1M583 490h1v1h-1M168 491h1v1h-1M261 491h1v1h-1M277 491h1v1h-1M114 492h1v1h-1M246 492h1v1h-1M339 492h1v1h-1M251 493h1v1h-1M512 493h1v1h-1M184 494h1v1h-1M214 494h1v1h-1M381 494h1v1h-1M395 494h1v1h-1M261 495h1v1h-1M337 495h1v1h-1M449 495h1v1h-1M551 495h1v1h-1M166 497h1v1h-1M303 497h1v1h-1M305 497h1v1h-1M341 497h1v1h-1M442 497h1v1h-1M523 497h1v1h-1M188 498h1v1h-1M275 498h1v1h-1M98 499h1v1h-1M106 499h1v1h-1M161 499h1v1h-1M195 499h1v1h-1M241 499h1v1h-1M291 499h1v1h-1M350 499h1v1h-1M555 499h1v1h-1M134 500h1v1h-1M258 500h1v1h-1M206 501h1v1h-1M271 501h1v1h-1M290 501h1v1h-1M79 502h1v1h-1M452 502h1v1h-1M287 503h1v1h-1M294 503h1v1h-1M325 503h1v1h-1M418 503h1v1h-1M124 504h1v1h-1M149 504h1v1h-1M190 504h1v1h-1M318 504h1v1h-1M326 504h1v1h-1M437 504h1v1h-1M477 504h1v1h-1M592 504h1v1h-1M598 504h1v1h-1M176 505h1v1h-1M326 505h1v1h-1M374 505h1v1h-1M449 505h1v1h-1M459 505h1v1h-1M494 505h1v1h-1M122 506h1v1h-1M124 506h1v1h-1M255 506h1v1h-1M329 506h1v1h-1M338 506h1v1h-1M391 506h1v1h-1M592 506h1v1h-1M279 507h1v1h-1M302 507h1v1h-1M401 507h1v1h-1M408 507h1v1h-1M541 507h1v1h-1M607 507h1v1h-1M287 508h1v1h-1M314 508h1v1h-1M465 508h1v1h-1M111 509h1v1h-1M307 509h1v1h-1M312 509h1v1h-1M589 509h1v1h-1M165 510h1v1h-1M291 510h1v1h-1M330 510h1v1h-1M517 510h1v1h-1M77 511h1v1h-1M100 511h1v1h-1M428 511h1v1h-1M461 511h1v1h-1M74 512h1v1h-1M109 512h1v1h-1M143 512h1v1h-1M215 512h1v1h-1M304 512h1v1h-1M305 512h1v1h-1M477 512h1v1h-1M534 512h1v1h-1M576 512h1v1h-1M82 513h1v1h-1M355 513h1v1h-1M374 513h1v1h-1M72 514h1v1h-1M145 514h1v1h-1M155 514h1v1h-1M552 514h1v1h-1M184 515h1v1h-1M195 515h1v1h-1M212 515h1v1h-1M270 515h1v1h-1M421 515h1v1h-1M430 515h1v1h-1M434 515h1v1h-1M417 516h1v1h-1M523 516h1v1h-1M156 517h1v1h-1M249 517h1v1h-1M297 517h1v1h-1M410 517h1v1h-1M114 518h1v1h-1M133 518h1v1h-1M149 518h1v1h-1M272 518h1v1h-1M445 518h1v1h-1M113 519h1v1h-1M220 519h1v1h-1M231 519h1v1h-1M79 520h1v1h-1M294 520h1v1h-1M495 520h1v1h-1M571 520h1v1h-1M169 521h1v1h-1M462 521h1v1h-1M475 521h1v1h-1M476 521h1v1h-1M520 521h1v1h-1M533 521h1v1h-1M156 522h1v1h-1M164 522h1v1h-1M199 522h1v1h-1M430 522h1v1h-1M415 523h1v1h-1M489 523h1v1h-1M549 523h1v1h-1M591 523h1v1h-1M103 524h1v1h-1M193 524h1v1h-1M274 524h1v1h-1M292 525h1v1h-1M365 525h1v1h-1M429 525h1v1h-1M546 525h1v1h-1M94 526h1v1h-1M107 526h1v1h-1M144 526h1v1h-1M146 526h1v1h-1M148 526h1v1h-1M211 526h1v1h-1M364 526h1v1h-1M441 526h1v1h-1M445 526h1v1h-1M85 527h1v1h-1M137 527h1v1h-1M210 527h1v1h-1M276 527h1v1h-1M315 527h1v1h-1M351 527h1v1h-1M601 527h1v1h-1M110 528h1v1h-1M114 528h1v1h-1M284 528h1v1h-1M387 528h1v1h-1M551 528h1v1h-1M608 528h1v1h-1M102 529h1v1h-1M152 529h1v1h-1M162 529h1v1h-1M243 529h1v1h-1M375 529h1v1h-1M462 529h1v1h-1M139 530h1v1h-1M170 530h1v1h-1M177 530h1v1h-1M212 530h1v1h-1M293 530h1v1h-1M294 530h1v1h-1M341 530h1v1h-1M522 530h1v1h-1M81 531h1v1h-1M83 531h1v1h-1M85 531h1v1h-1M117 531h1v1h-1M176 531h1v1h-1M231 531h1v1h-1M308 531h1v1h-1M365 531h1v1h-1M402 531h1v1h-1M77 532h1v1h-1M119 532h1v1h-1M266 532h1v1h-1M418 532h1v1h-1M192 533h1v1h-1M551 533h1v1h-1M598 533h1v1h-1M69 534h1v1h-1M81 534h1v1h-1M299 534h1v1h-1M414 534h1v1h-1M433 534h1v1h-1M537 534h1v1h-1M76 535h1v1h-1M152 535h1v1h-1M214 535h1v1h-1M449 535h1v1h-1M550 535h1v1h-1M573 535h1v1h-1M73 536h1v1h-1M114 536h1v1h-1M180 536h1v1h-1M226 536h1v1h-1M550 536h1v1h-1M577 536h1v1h-1M366 537h1v1h-1M394 537h1v1h-1M399 537h1v1h-1M427 537h1v1h-1M430 537h1v1h-1M494 537h1v1h-1M509 537h1v1h-1M186 538h1v1h-1M223 538h1v1h-1M301 538h1v1h-1M403 538h1v1h-1M447 538h1v1h-1M404 539h1v1h-1M554 539h1v1h-1M166 540h1v1h-1M228 540h1v1h-1M264 540h1v1h-1M319 540h1v1h-1M362 540h1v1h-1M469 540h1v1h-1M512 540h1v1h-1M520 540h1v1h-1M593 540h1v1h-1M153 541h1v1h-1M168 541h1v1h-1M376 541h1v1h-1M132 542h1v1h-1M266 542h1v1h-1M418 542h1v1h-1M470 542h1v1h-1M483 542h1v1h-1M161 543h1v1h-1M464 543h1v1h-1M474 543h1v1h-1M535 543h1v1h-1M159 544h1v1h-1M241 544h1v1h-1M276 544h1v1h-1M194 545h1v1h-1M313 545h1v1h-1M364 545h1v1h-1M396 545h1v1h-1M406 545h1v1h-1M135 546h1v1h-1M255 546h1v1h-1M331 546h1v1h-1M364 546h1v1h-1M423 546h1v1h-1M448 546h1v1h-1M102 547h1v1h-1M213 547h1v1h-1M335 547h1v1h-1M384 547h1v1h-1M586 547h1v1h-1M287 548h1v1h-1M385 548h1v1h-1M551 548h1v1h-1M586 548h1v1h-1M594 548h1v1h-1M596 548h1v1h-1M81 549h1v1h-1M106 549h1v1h-1M197 549h1v1h-1M217 549h1v1h-1M252 549h1v1h-1M265 549h1v1h-1M289 549h1v1h-1M446 549h1v1h-1M461 549h1v1h-1M83 550h1v1h-1M296 550h1v1h-1M301 550h1v1h-1M395 550h1v1h-1M439 550h1v1h-1M114 551h1v1h-1M400 551h1v1h-1M441 551h1v1h-1M86 552h1v1h-1M151 552h1v1h-1M151 552h1v1h-1M204 552h1v1h-1M325 552h1v1h-1M547 552h1v1h-1M610 552h1v1h-1M156 553h1v1h-1M162 553h1v1h-1M269 553h1v1h-1M328 553h1v1h-1M397 553h1v1h-1M398 553h1v1h-1M464 553h1v1h-1M71 554h1v1h-1M81 554h1v1h-1M94 554h1v1h-1M147 554h1v1h-1M415 554h1v1h-1M478 554h1v1h-1M607 554h1v1h-1M218 555h1v1h-1M99 556h1v1h-1M168 556h1v1h-1M208 556h1v1h-1M268 556h1v1h-1M254 557h1v1h-1M261 557h1v1h-1M306 557h1v1h-1M219 558h1v1h-1M228 558h1v1h-1M252 558h1v1h-1M286 558h1v1h-1M381 558h1v1h-1M588 558h1v1h-1M104 559h1v1h-1M257 559h1v1h-1M565 559h1v1h-1M69 560h1v1h-1M106 560h1v1h-1M170 560h1v1h-1M176 560h1v1h-1M183 560h1v1h-1M268 560h1v1h-1M325 560h1v1h-1M397 560h1v1h-1M321 561h1v1h-1M331 561h1v1h-1M473 561h1v1h-1M552 561h1v1h-1M183 562h1v1h-1M351 562h1v1h-1M399 562h1v1h-1M549 562h1v1h-1M81 563h1v1h-1M120 563h1v1h-1M275 563h1v1h-1M324 563h1v1h-1M412 563h1v1h-1M450 563h1v1h-1M567 563h1v1h-1M128 564h1v1h-1M164 564h1v1h-1M206 564h1v1h-1M518 564h1v1h-1M84 565h1v1h-1M157 565h1v1h-1M223 565h1v1h-1M374 565h1v1h-1M395 565h1v1h-1M490 565h1v1h-1M578 565h1v1h-1M190 566h1v1h-1M254 566h1v1h-1M268 566h1v1h-1M324 566h1v1h-1M423 566h1v1h-1M447 566h1v1h-1M80 567h1v1h-1M125 567h1v1h-1M345 567h1v1h-1M407 567h1v1h-1M467 567h1v1h-1M546 567h1v1h-1M221 568h1v1h-1M259 568h1v1h-1M331 568h1v1h-1M334 568h1v1h-1M73 569h1v1h-1M84 569h1v1h-1M265 569h1v1h-1M306 569h1v1h-1M318 569h1v1h-1M517 569h1v1h-1M566 569h1v1h-1M83 570h1v1h-1M311 570h1v1h-1M323 570h1v1h-1M324 570h1v1h-1M327 570h1v1h-1M338 570h1v1h-1M377 570h1v1h-1M510 570h1v1h-1M105 571h1v1h-1M378 571h1v1h-1M89 572h1v1h-1M304 572h1v1h-1M397 572h1v1h-1M403 572h1v1h-1M437 572h1v1h-1M118 573h1v1h-1M119 573h1v1h-1M191 573h1v1h-1M303 573h1v1h-1M599 573h1v1h-1M97 574h1v1h-1M187 574h1v1h-1M218 574h1v1h-1M283 574h1v1h-1M330 574h1v1h-1M354 574h1v1h-1M441 574h1v1h-1M185 575h1v1h-1M236 575h1v1h-1M260 575h1v1h-1M430 575h1v1h-1M462 575h1v1h-1M520 575h1v1h-1M248 576h1v1h-1M355 576h1v1h-1M377 576h1v1h-1M397 576h1v1h-1M518 576h1v1h-1M114 577h1v1h-1M161 577h1v1h-1M192 577h1v1h-1M201 577h1v1h-1M208 577h1v1h-1M218 577h1v1h-1M486 577h1v1h-1M554 577h1v1h-1M119 578h1v1h-1M138 578h1v1h-1M174 578h1v1h-1M585 578h1v1h-1M243 579h1v1h-1M427 579h1v1h-1M101 580h1v1h-1M107 580h1v1h-1M356 580h1v1h-1M375 580h1v1h-1M426 580h1v1h-1M528 580h1v1h-1M604 580h1v1h-1M199 581h1v1h-1M223 581h1v1h-1M248 581h1v1h-1M441 581h1v1h-1M540 581h1v1h-1M609 581h1v1h-1M86 582h1v1h-1M105 582h1v1h-1M130 582h1v1h-1M204 582h1v1h-1M231 582h1v1h-1M259 582h1v1h-1M567 582h1v1h-1M90 583h1v1h-1M223 583h1v1h-1M281 583h1v1h-1M385 583h1v1h-1M92 584h1v1h-1M499 584h1v1h-1M516 584h1v1h-1M102 585h1v1h-1M263 585h1v1h-1M332 585h1v1h-1M338 585h1v1h-1M352 585h1v1h-1M100 586h1v1h-1M309 586h1v1h-1M357 586h1v1h-1M219 587h1v1h-1M221 587h1v1h-1M245 587h1v1h-1M256 587h1v1h-1M347 587h1v1h-1M374 587h1v1h-1M471 587h1v1h-1M522 587h1v1h-1M117 588h1v1h-1M138 588h1v1h-1M153 588h1v1h-1M169 588h1v1h-1M198 588h1v1h-1M229 588h1v1h-1M269 588h1v1h-1M500 588h1v1h-1M182 589h1v1h-1M195 589h1v1h-1M204 589h1v1h-1M242 589h1v1h-1M164 590h1v1h-1M229 590h1v1h-1M362 590h1v1h-1M497 590h1v1h-1M85 591h1v1h-1M156 591h1v1h-1M264 591h1v1h-1M297 591h1v1h-1M445 591h1v1h-1M70 592h1v1h-1M122 592h1v1h-1M220 592h1v1h-1M229 592h1v1h-1M289 592h1v1h-1M416 592h1v1h-1M421 592h1v1h-1M429 592h1v1h-1M503 592h1v1h-1M149 593h1v1h-1M207 593h1v1h-1M463 593h1v1h-1M550 593h1v1h-1M99 594h1v1h-1M360 594h1v1h-1M505 594h1v1h-1M172 595h1v1h-1M198 595h1v1h-1M71 596h1v1h-1M75 596h1v1h-1M424 596h1v1h-1M452 596h1v1h-1M479 596h1v1h-1M118 597h1v1h-1M147 597h1v1h-1M150 597h1v1h-1M280 597h1v1h-1M184 598h1v1h-1M225 598h1v1h-1M234 598h1v1h-1M319 598h1v1h-1M414 598h1v1h-1M487 598h1v1h-1M497 598h1v1h-1M542 598h1v1h-1M554 598h1v1h-1M572 598h1v1h-1M104 599h1v1h-1M171 599h1v1h-1M229 599h1v1h-1M289 599h1v1h-1M400 599h1v1h-1M452 599h1v1h-1M71 600h1v1h-1M177 600h1v1h-1M286 600h1v1h-1M460 600h1v1h-1M157 601h1v1h-1M168 601h1v1h-1M237 601h1v1h-1M438 601h1v1h-1M104 602h1v1h-1M106 602h1v1h-1M293 602h1v1h-1M348 602h1v1h-1M393 602h1v1h-1M441 602h1v1h-1M468 602h1v1h-1M512 602h1v1h-1M101 603h1v1h-1M281 603h1v1h-1M403 603h1v1h-1M136 604h1v1h-1M186 604h1v1h-1M257 604h1v1h-1M338 604h1v1h-1M385 604h1v1h-1M403 604h1v1h-1M485 604h1v1h-1M136 605h1v1h-1M377 605h1v1h-1M389 605h1v1h-1M397 605h1v1h-1M441 605h1v1h-1M478 605h1v1h-1M78 606h1v1h-1M162 606h1v1h-1M297 606h1v1h-1M602 606h1v1h-1M72 607h1v1h-1M252 607h1v1h-1M365 607h1v1h-1M435 607h1v1h-1M436 607h1v1h-1M545 607h1v1h-1M113 608h1v1h-1M174 608h1v1h-1M232 608h1v1h-1M309 608h1v1h-1M402 608h1v1h-1M508 608h1v1h-1M232 609h1v1h-1M435 609h1v1h-1M598 609h1v1h-1M123 610h1v1h-1M128 610h1v1h-1M155 610h1v1h-1M254 610h1v1h-1M355 610h1v1h-1M398 610h1v1h-1M479 610h1v1h-1M556 610h1v1h-1"/>
<path fill="#dcdcdc" d="M170 69h1v1h-1M333 69h1v1h-1M366 69h1v1h-1M124 70h1v1h-1M220 70h1v1h-1M242 70h1v1h-1M82 71h1v1h-1M175 71h1v1h-1M215 71h1v1h-1M228 71h1v1h-1M432 71h1v1h-1M433 71h1v1h-1M89 72h1v1h-1M92 72h1v1h-1M97 72h1v1h-1M145 72h1v1h-1M511 72h1v1h-1M525 72h1v1h-1M75 73h1v1h-1M90 73h1v1h-1M188 73h1v1h-1M380 73h1v1h-1M391 73h1v1h-1M174 74h1v1h-1M268 74h1v1h-1M311 74h1v1h-1M334 74h1v1h-1M180 75h1v1h-1M341 75h1v1h-1M581 75h1v1h-1M212 76h1v1h-1M279 76h1v1h-1M291 76h1v1h-1M353 76h1v1h-1M128 77h1v1h-1M213 77h1v1h-1M327 77h1v1h-1M199 78h1v1h-1M224 78h1v1h-1M240 78h1v1h-1M504 78h1v1h-1M70 79h1v1h-1M99 79h1v1h-1M132 79h1v1h-1M180 79h1v1h-1M404 79h1v1h-1M606 79h1v1h-1M78 80h1v1h-1M107 80h1v1h-1M115 80h1v1h-1M150 80h1v1h-1M256 80h1v1h-1M315 80h1v1h-1M316 80h1v1h-1M238 81h1v1h-1M154 82h1v1h-1M235 82h1v1h-1M249 82h1v1h-1M402 82h1v1h-1M440 82h1v1h-1M495 82h1v1h-1M218 83h1v1h-1M345 83h1v1h-1M542 83h1v1h-1M84 84h1v1h-1M100 84h1v1h-1M187 84h1v1h-1M314 84h1v1h-1M327 84h1v1h-1M425 84h1v1h-1M133 85h1v1h-1M255 85h1v1h-1M84 86h1v1h-1M98 86h1v1h-1M335 86h1v1h-1M567 86h1v1h-1M79 87h1v1h-1M93 87h1v1h-1M163 87h1v1h-1M463 87h1v1h-1M517 87h1v1h-1M157 88h1v1h-1M158 88h1v1h-1M194 88h1v1h-1M252 88h1v1h-1M284 89h1v1h-1M463 89h1v1h-1M548 89h1v1h-1M477 90h1v1h-1M507 90h1v1h-1M86 91h1v1h-1M224 91h1v1h-1M290 91h1v1h-1M357 91h1v1h-1M413 91h1v1h-1M122 92h1v1h-1M193 92h1v1h-1M372 92h1v1h-1M429 92h1v1h-1M506 92h1v1h-1M333 93h1v1h-1M411 93h1v1h-1M440 93h1v1h-1M119 94h1v1h-1M358 94h1v1h-1M433 94h1v1h-1M583 94h1v1h-1M139 95h1v1h-1M319 95h1v1h-1M367 95h1v1h-1M415 95h1v1h-1M445 95h1v1h-1M135 96h1v1h-1M153 96h1v1h-1M225 96h1v1h-1M387 96h1v1h-1M475 96h1v1h-1M529 96h1v1h-1M109 97h1v1h-1M120 97h1v1h-1M144 97h1v1h-1M249 97h1v1h-1M285 97h1v1h-1M287 97h1v1h-1M354 97h1v1h-1M568 97h1v1h-1M128 98h1v1h-1M128 99h1v1h-1M168 99h1v1h-1M205 99h1v1h-1M238 99h1v1h-1M428 99h1v1h-1M499 99h1v1h-1M88 100h1v1h-1M407 100h1v1h-1M599 100h1v1h-1M348 101h1v1h-1M357 101h1v1h-1M99 102h1v1h-1M136 102h1v1h-1M200 102h1v1h-1M379 102h1v1h-1M399 102h1v1h-1M525 102h1v1h-1M570 102h1v1h-1M74 103h1v1h-1M444 103h1v1h-1M544 103h1v1h-1M75 104h1v1h-1M467 104h1v1h-1M177 105h1v1h-1M90 106h1v1h-1M95 106h1v1h-1M247 106h1v1h-1M284 106h1v1h-1M319 106h1v1h-1M373 106h1v1h-1M69 107h1v1h-1M228 107h1v1h-1M248 107h1v1h-1M405 107h1v1h-1M468 107h1v1h-1M132 108h1v1h-1M327 108h1v1h-1M339 108h1v1h-1M95 109h1v1h-1M142 109h1v1h-1M270 109h1v1h-1M456 109h1v1h-1M472 109h1v1h-1M379 110h1v1h-1M483 110h1v1h-1M515 110h1v1h-1M89 111h1v1h-1M187 111h1v1h-1M205 111h1v1h-1M210 111h1v1h-1M445 111h1v1h-1M543 111h1v1h-1M172 112h1v1h-1M223 112h1v1h-1M236 112h1v1h-1M421 112h1v1h-1M441 112h1v1h-1M486 112h1v1h-1M223 113h1v1h-1M258 113h1v1h-1M402 113h1v1h-1M466 113h1v1h-1M493 113h1v1h-1M581 113h1v1h-1M115 114h1v1h-1M213 114h1v1h-1M570 114h1v1h-1M252 115h1v1h-1M364 115h1v1h-1M493 115h1v1h-1M501 115h1v1h-1M352 116h1v1h-1M136 117h1v1h-1M275 117h1v1h-1M426 117h1v1h-1M78 118h1v1h-1M124 118h1v1h-1M346 118h1v1h-1M258 119h1v1h-1M279 119h1v1h-1M302 119h1v1h-1M366 119h1v1h-1M532 119h1v1h-1M73 120h1v1h-1M97 120h1v1h-1M192 120h1v1h-1M296 120h1v1h-1M369 120h1v1h-1M376 120h1v1h-1M401 120h1v1h-1M234 121h1v1h-1M250 121h1v1h-1M306 121h1v1h-1M391 121h1v1h-1M402 121h1v1h-1M129 122h1v1h-1M442 122h1v1h-1M506 122h1v1h-1M500 123h1v1h-1M535 123h1v1h-1M603 123h1v1h-1M205 124h1v1h-1M408 124h1v1h-1M562 124h1v1h-1M231 125h1v1h-1M383 125h1v1h-1M510 125h1v1h-1M595 125h1v1h-1M433 126h1v1h-1M554 126h1v1h-1M564 126h1v1h-1M94 127h1v1h-1M162 127h1v1h-1M399 127h1v1h-1M169 128h1v1h-1M367 128h1v1h-1M560 128h1v1h-1M581 128h1v1h-1M80 129h1v1h-1M240 129h1v1h-1M384 129h1v1h-1M574 129h1v1h-1M584 129h1v1h-1M133 130h1v1h-1M153 130h1v1h-1M196 130h1v1h-1M205 130h1v1h-1M217 130h1v1h-1M135 131h1v1h-1M418 131h1v1h-1M478 131h1v1h-1M560 131h1v1h-1M108 132h1v1h-1M111 132h1v1h-1M114 132h1v1h-1M218 132h1v1h-1M269 132h1v1h-1M85 133h1v1h-1M170 133h1v1h-1M308 133h1v1h-1M433 133h1v1h-1M484 133h1v1h-1M80 134h1v1h-1M192 134h1v1h-1M213 134h1v1h-1M249 135h1v1h-1M545 135h1v1h-1M80 136h1v1h-1M97 136h1v1h-1M213 136h1v1h-1M226 136h1v1h-1M328 136h1v1h-1M347 136h1v1h-1M383 136h1v1h-1M475 136h1v1h-1M231 137h1v1h-1M438 138h1v1h-1M576 138h1v1h-1M90 139h1v1h-1M169 139h1v1h-1M290 139h1v1h-1M544 139h1v1h-1M70 140h1v1h-1M177 140h1v1h-1M326 140h1v1h-1M71 141h1v1h-1M85 141h1v1h-1M135 141h1v1h-1M250 141h1v1h-1M353 141h1v1h-1M406 141h1v1h-1M81 142h1v1h-1M127 142h1v1h-1M351 142h1v1h-1M483 142h1v1h-1M223 143h1v1h-1M231 143h1v1h-1M525 143h1v1h-1M596 143h1v1h-1M72 144h1v1h-1M193 144h1v1h-1M206 144h1v1h-1M255 144h1v1h-1M307 144h1v1h-1M393 144h1v1h-1M562 144h1v1h-1M115 145h1v1h-1M368 145h1v1h-1M391 145h1v1h-1M393 145h1v1h-1M437 145h1v1h-1M92 146h1v1h-1M106 146h1v1h-1M585 146h1v1h-1M96 147h1v1h-1M162 147h1v1h-1M180 147h1v1h-1M214 147h1v1h-1M468 147h1v1h-1M534 147h1v1h-1M549 147h1v1h-1M216 148h1v1h-1M472 148h1v1h-1M540 148h1v1h-1M127 149h1v1h-1M348 149h1v1h-1M104 150h1v1h-1M145 150h1v1h-1M340 150h1v1h-1M118 151h1v1h-1M281 151h1v1h-1M555 151h1v1h-1M163 152h1v1h-1M194 152h1v1h-1M199 152h1v1h-1M199 152h1v1h-1M495 152h1v1h-1M411 153h1v1h-1M556 153h1v1h-1M168 154h1v1h-1M201 154h1v1h-1M326 154h1v1h-1M356 154h1v1h-1M479 154h1v1h-1M113 155h1v1h-1M157 155h1v1h-1M240 155h1v1h-1M355 155h1v1h-1M365 155h1v1h-1M434 155h1v1h-1M517 155h1v1h-1M101 156h1v1h-1M85 157h1v1h-1M115 158h1v1h-1M302 158h1v1h-1M318 158h1v1h-1M439 158h1v1h-1M511 158h1v1h-1M276 159h1v1h-1M358 159h1v1h-1M361 159h1v1h-1M379 159h1v1h-1M138 160h1v1h-1M172 160h1v1h-1M392 160h1v1h-1M132 161h1v1h-1M446 161h1v1h-1M585 161h1v1h-1M84 162h1v1h-1M149 162h1v1h-1M333 163h1v1h-1M420 163h1v1h-1M81 164h1v1h-1M165 164h1v1h-1M404 164h1v1h-1M577 164h1v1h-1M404 165h1v1h-1M409 165h1v1h-1M449 165h1v1h-1M529 165h1v1h-1M261 167h1v1h-1M395 168h1v1h-1M463 168h1v1h-1M558 169h1v1h-1M208 170h1v1h-1M479 170h1v1h-1M505 170h1v1h-1M99 171h1v1h-1M233 171h1v1h-1M239 171h1v1h-1M242 171h1v1h-1M326 171h1v1h-1M430 171h1v1h-1M146 172h1v1h-1M243 172h1v1h-1M592 172h1v1h-1M162 173h1v1h-1M225 173h1v1h-1M277 173h1v1h-1M491 173h1v1h-1M222 175h1v1h-1M276 175h1v1h-1M372 175h1v1h-1M82 176h1v1h-1M234 176h1v1h-1M247 176h1v1h-1M342 176h1v1h-1M438 176h1v1h-1M582 176h1v1h-1M71 177h1v1h-1M361 177h1v1h-1M381 177h1v1h-1M452 177h1v1h-1M541 177h1v1h-1M76 178h1v1h-1M85 178h1v1h-1M139 178h1v1h-1M152 178h1v1h-1M180 178h1v1h-1M292 178h1v1h-1M478 178h1v1h-1M490 178h1v1h-1M587 178h1v1h-1M451 179h1v1h-1M83 180h1v1h-1M498 180h1v1h-1M71 181h1v1h-1M379 181h1v1h-1M519 181h1v1h-1M252 182h1v1h-1M355 182h1v1h-1M568 182h1v1h-1M88 183h1v1h-1M204 183h1v1h-1M280 183h1v1h-1M356 183h1v1h-1M72 184h1v1h-1M75 184h1v1h-1M479 184h1v1h-1M518 184h1v1h-1M604 184h1v1h-1M97 185h1v1h-1M566 185h1v1h-1M227 186h1v1h-1M286 186h1v1h-1M146 187h1v1h-1M259 187h1v1h-1M287 187h1v1h-1M174 188h1v1h-1M294 188h1v1h-1M322 188h1v1h-1M557 188h1v1h-1M299 189h1v1h-1M330 189h1v1h-1M331 189h1v1h-1M331 189h1v1h-1M573 189h1v1h-1M591 190h1v1h-1M123 191h1v1h-1M232 191h1v1h-1M296 191h1v1h-1M102 192h1v1h-1M152 192h1v1h-1M157 192h1v1h-1M347 192h1v1h-1M179 193h1v1h-1M190 193h1v1h-1M398 193h1v1h-1M149 194h1v1h-1M255 194h1v1h-1M261 194h1v1h-1M76 195h1v1h-1M312 195h1v1h-1M610 195h1v1h-1M98 196h1v1h-1M135 196h1v1h-1M348 196h1v1h-1M349 196h1v1h-1M352 196h1v1h-1M449 196h1v1h-1M188 197h1v1h-1M336 197h1v1h-1M399 197h1v1h-1M419 197h1v1h-1M86 198h1v1h-1M113 198h1v1h-1M307 198h1v1h-1M553 198h1v1h-1M607 198h1v1h-1M177 199h1v1h-1M262 199h1v1h-1M161 200h1v1h-1M275 200h1v1h-1M331 200h1v1h-1M388 200h1v1h-1M94 201h1v1h-1M316 201h1v1h-1M442 201h1v1h-1M473 201h1v1h-1M115 202h1v1h-1M276 202h1v1h-1M278 202h1v1h-1M312 202h1v1h-1M467 202h1v1h-1M345 203h1v1h-1M483 203h1v1h-1M540 203h1v1h-1M117 204h1v1h-1M149 204h1v1h-1M163 204h1v1h-1M186 204h1v1h-1M336 204h1v1h-1M495 204h1v1h-1M539 204h1v1h-1M550 204h1v1h-1M70 205h1v1h-1M122 205h1v1h-1M180 205h1v1h-1M189 205h1v1h-1M442 205h1v1h-1M443 205h1v1h-1M593 205h1v1h-1M139 206h1v1h-1M182 206h1v1h-1M292 206h1v1h-1M350 206h1v1h-1M422 206h1v1h-1M601 206h1v1h-1M604 206h1v1h-1M200 207h1v1h-1M251 207h1v1h-1M256 207h1v1h-1M257 207h1v1h-1M272 207h1v1h-1M317 207h1v1h-1M469 207h1v1h-1M199 208h1v1h-1M302 208h1v1h-1M418 208h1v1h-1M424 208h1v1h-1M150 209h1v1h-1M280 209h1v1h-1M289 209h1v1h-1M418 209h1v1h-1M563 209h1v1h-1M80 210h1v1h-1M143 210h1v1h-1M530 210h1v1h-1M193 211h1v1h-1M242 211h1v1h-1M341 211h1v1h-1M471 211h1v1h-1M558 211h1v1h-1M170 212h1v1h-1M378 212h1v1h-1M402 212h1v1h-1M410 212h1v1h-1M609 212h1v1h-1M133 213h1v1h-1M206 214h1v1h-1M552 214h1v1h-1M80 215h1v1h-1M82 215h1v1h-1M254 215h1v1h-1M287 215h1v1h-1M348 215h1v1h-1M156 216h1v1h-1M287 216h1v1h-1M541 216h1v1h-1M598 216h1v1h-1M374 217h1v1h-1M380 217h1v1h-1M594 217h1v1h-1M80 218h1v1h-1M151 218h1v1h-1M331 218h1v1h-1M375 219h1v1h-1M71 220h1v1h-1M120 220h1v1h-1M121 220h1v1h-1M184 220h1v1h-1M414 220h1v1h-1M489 220h1v1h-1M361 221h1v1h-1M228 222h1v1h-1M251 222h1v1h-1M258 222h1v1h-1M295 222h1v1h-1M97 223h1v1h-1M156 223h1v1h-1M188 223h1v1h-1M211 223h1v1h-1M371 223h1v1h-1M578 223h1v1h-1M279 224h1v1h-1M285 224h1v1h-1M72 225h1v1h-1M227 225h1v1h-1M259 225h1v1h-1M364 225h1v1h-1M423 225h1v1h-1M329 226h1v1h-1M358 226h1v1h-1M395 226h1v1h-1M594 226h1v1h-1M69 227h1v1h-1M234 227h1v1h-1M319 227h1v1h-1M587 227h1v1h-1M610 227h1v1h-1M202 228h1v1h-1M205 228h1v1h-1M283 228h1v1h-1M250 229h1v1h-1M379 229h1v1h-1M386 229h1v1h-1M428 229h1v1h-1M533 229h1v1h-1M577 229h1v1h-1M94 230h1v1h-1M251 230h1v1h-1M546 230h1v1h-1M551 230h1v1h-1M595 230h1v1h-1M123 231h1v1h-1M198 231h1v1h-1M216 231h1v1h-1M592 231h1v1h-1M141 232h1v1h-1M223 232h1v1h-1M240 232h1v1h-1M523 232h1v1h-1M594 232h1v1h-1M75 233h1v1h-1M120 233h1v1h-1M302 233h1v1h-1M341 233h1v1h-1M475 233h1v1h-1M514 233h1v1h-1M126 234h1v1h-1M184 234h1v1h-1M250 234h1v1h-1M327 234h1v1h-1M415 234h1v1h-1M556 234h1v1h-1M568 234h1v1h-1M589 234h1v1h-1M115 235h1v1h-1M150 235h1v1h-1M257 235h1v1h-1M410 235h1v1h-1M118 236h1v1h-1M162 236h1v1h-1M231 236h1v1h-1M280 236h1v1h-1M391 236h1v1h-1M91 237h1v1h-1M182 237h1v1h-1M263 237h1v1h-1M290 237h1v1h-1M419 237h1v1h-1M429 237h1v1h-1M92 238h1v1h-1M282 238h1v1h-1M286 238h1v1h-1M596 238h1v1h-1M88 239h1v1h-1M123 239h1v1h-1M215 239h1v1h-1M507 239h1v1h-1M584 239h1v1h-1M309 240h1v1h-1M528 240h1v1h-1M530 240h1v1h-1M72 241h1v1h-1M326 241h1v1h-1M403 241h1v1h-1M432 241h1v1h-1M488 241h1v1h-1M542 241h1v1h-1M73 242h1v1h-1M292 242h1v1h-1M390 242h1v1h-1M485 242h1v1h-1M135 243h1v1h-1M199 243h1v1h-1M221 243h1v1h-1M270 243h1v1h-1M297 243h1v1h-1M609 243h1v1h-1M122 244h1v1h-1M290 244h1v1h-1M345 244h1v1h-1M111 245h1v1h-1M296 245h1v1h-1M306 245h1v1h-1M327 245h1v1h-1M446 245h1v1h-1M585 245h1v1h-1M73 246h1v1h-1M144 246h1v1h-1M390 246h1v1h-1M526 246h1v1h-1M535 246h1v1h-1M182 247h1v1h-1M218 247h1v1h-1M300 247h1v1h-1M301 247h1v1h-1M414 247h1v1h-1M438 247h1v1h-1M609 247h1v1h-1M148 248h1v1h-1M179 248h1v1h-1M395 248h1v1h-1M441 248h1v1h-1M569 248h1v1h-1M593 248h1v1h-1M118 249h1v1h-1M334 249h1v1h-1M444 249h1v1h-1M149 250h1v1h-1M445 250h1v1h-1M516 250h1v1h-1M375 251h1v1h-1M415 251h1v1h-1M601 251h1v1h-1M135 252h1v1h-1M150 252h1v1h-1M346 252h1v1h-1M441 252h1v1h-1M461 252h1v1h-1M110 254h1v1h-1M115 254h1v1h-1M133 254h1v1h-1M164 254h1v1h-1M337 254h1v1h-1M429 254h1v1h-1M497 254h1v1h-1M609 254h1v1h-1M109 255h1v1h-1M131 255h1v1h-1M169 255h1v1h-1M171 255h1v1h-1M178 255h1v1h-1M298 255h1v1h-1M314 255h1v1h-1M76 256h1v1h-1M78 256h1v1h-1M82 256h1v1h-1M100 256h1v1h-1M291 256h1v1h-1M340 256h1v1h-1M475 256h1v1h-1M542 256h1v1h-1M85 257h1v1h-1M103 258h1v1h-1M266 258h1v1h-1M482 258h1v1h-1M495 258h1v1h-1M75 259h1v1h-1M100 259h1v1h-1M233 259h1v1h-1M400 259h1v1h-1M512 259h1v1h-1M158 260h1v1h-1M352 260h1v1h-1M437 260h1v1h-1M457 260h1v1h-1M524 260h1v1h-1M132 261h1v1h-1M266 261h1v1h-1M283 261h1v1h-1M549 261h1v1h-1M346 262h1v1h-1M348 262h1v1h-1M601 262h1v1h-1M369 263h1v1h-1M599 263h1v1h-1M70 264h1v1h-1M129 264h1v1h-1M190 264h1v1h-1M209 264h1v1h-1M235 264h1v1h-1M378 264h1v1h-1M559 264h1v1h-1M99 265h1v1h-1M274 265h1v1h-1M345 265h1v1h-1M433 265h1v1h-1M510 265h1v1h-1M86 266h1v1h-1M219 266h1v1h-1M332 266h1v1h-1M335 266h1v1h-1M70 267h1v1h-1M100 267h1v1h-1M152 267h1v1h-1M181 267h1v1h-1M328 267h1v1h-1M503 267h1v1h-1M590 267h1v1h-1M176 268h1v1h-1M264 268h1v1h-1M291 268h1v1h-1M347 268h1v1h-1M85 269h1v1h-1M115 269h1v1h-1M178 269h1v1h-1M593 269h1v1h-1M578 270h1v1h-1M79 271h1v1h-1M93 271h1v1h-1M117 271h1v1h-1M294 271h1v1h-1M397 271h1v1h-1M430 271h1v1h-1M74 272h1v1h-1M159 272h1v1h-1M233 272h1v1h-1M320 272h1v1h-1M323 272h1v1h-1M77 273h1v1h-1M85 273h1v1h-1M152 273h1v1h-1M219 273h1v1h-1M238 273h1v1h-1M241 273h1v1h-1M301 273h1v1h-1M421 273h1v1h-1M110 274h1v1h-1M187 274h1v1h-1M352 274h1v1h-1M446 274h1v1h-1M609 274h1v1h-1M143 275h1v1h-1M223 275h1v1h-1M240 275h1v1h-1M294 275h1v1h-1M506 275h1v1h-1M75 276h1v1h-1M77 276h1v1h-1M152 276h1v1h-1M153 276h1v1h-1M212 276h1v1h-1M243 276h1v1h-1M456 276h1v1h-1M108 277h1v1h-1M148 277h1v1h-1M215 277h1v1h-1M236 277h1v1h-1M316 277h1v1h-1M404 277h1v1h-1M128 278h1v1h-1M135 278h1v1h-1M148 278h1v1h-1M169 278h1v1h-1M205 278h1v1h-1M274 278h1v1h-1M394 278h1v1h-1M513 278h1v1h-1M541 278h1v1h-1M585 278h1v1h-1M117 279h1v1h-1M404 279h1v1h-1M445 279h1v1h-1M526 279h1v1h-1M106 280h1v1h-1M172 280h1v1h-1M211 280h1v1h-1M484 280h1v1h-1M122 281h1v1h-1M359 281h1v1h-1M492 281h1v1h-1M145 282h1v1h-1M206 282h1v1h-1M211 282h1v1h-1M296 282h1v1h-1M338 282h1v1h-1M76 283h1v1h-1M102 283h1v1h-1M174 283h1v1h-1M199 283h1v1h-1M299 283h1v1h-1M398 283h1v1h-1M215 284h1v1h-1M236 284h1v1h-1M259 284h1v1h-1M328 284h1v1h-1M113 285h1v1h-1M127 285h1v1h-1M162 285h1v1h-1M362 285h1v1h-1M238 286h1v1h-1M311 286h1v1h-1M323 286h1v1h-1M393 286h1v1h-1M410 286h1v1h-1M523 286h1v1h-1M547 286h1v1h-1M193 287h1v1h-1M361 287h1v1h-1M552 287h1v1h-1M566 287h1v1h-1M149 288h1v1h-1M189 288h1v1h-1M375 288h1v1h-1M531 288h1v1h-1M566 288h1v1h-1M588 288h1v1h-1M149 289h1v1h-1M347 289h1v1h-1M476 289h1v1h-1M503 289h1v1h-1M278 290h1v1h-1M331 290h1v1h-1M426 290h1v1h-1M565 290h1v1h-1M163 291h1v1h-1M170 291h1v1h-1M269 291h1v1h-1M427 291h1v1h-1M551 291h1v1h-1M579 291h1v1h-1M89 292h1v1h-1M389 292h1v1h-1M557 292h1v1h-1M229 293h1v1h-1M113 294h1v1h-1M168 294h1v1h-1M202 294h1v1h-1M465 294h1v1h-1M555 294h1v1h-1M603 294h1v1h-1M466 295h1v1h-1M500 295h1v1h-1M71 296h1v1h-1M74 296h1v1h-1M82 296h1v1h-1M234 296h1v1h-1M246 296h1v1h-1M294 296h1v1h-1M336 296h1v1h-1M375 296h1v1h-1M407 296h1v1h-1M596 296h1v1h-1M108 297h1v1h-1M162 297h1v1h-1M165 297h1v1h-1M276 297h1v1h-1M329 297h1v1h-1M180 298h1v1h-1M223 298h1v1h-1M235 298h1v1h-1M313 298h1v1h-1M453 298h1v1h-1M77 299h1v1h-1M90 299h1v1h-1M147 299h1v1h-1M169 299h1v1h-1M208 299h1v1h-1M251 299h1v1h-1M315 299h1v1h-1M446 299h1v1h-1M545 299h1v1h-1M95 300h1v1h-1M120 300h1v1h-1M160 300h1v1h-1M364 300h1v1h-1M384 300h1v1h-1M539 300h1v1h-1M94 301h1v1h-1M132 301h1v1h-1M157 301h1v1h-1M227 301h1v1h-1M227 301h1v1h-1M255 301h1v1h-1M312 301h1v1h-1M376 301h1v1h-1M389 301h1v1h-1M530 301h1v1h-1M130 302h1v1h-1M236 302h1v1h-1M417 302h1v1h-1M564 302h1v1h-1M178 303h1v1h-1M210 303h1v1h-1M299 303h1v1h-1M467 303h1v1h-1M85 304h1v1h-1M89 304h1v1h-1M125 304h1v1h-1M139 304h1v1h-1M150 304h1v1h-1M156 304h1v1h-1M265 305h1v1h-1M332 305h1v1h-1M73 306h1v1h-1M130 306h1v1h-1M137 306h1v1h-1M148 306h1v1h-1M250 306h1v1h-1M300 306h1v1h-1M80 307h1v1h-1M133 307h1v1h-1M186 307h1v1h-1M189 307h1v1h-1M239 307h1v1h-1M296 307h1v1h-1M309 307h1v1h-1M398 307h1v1h-1M510 307h1v1h-1M605 307h1v1h-1M608 307h1v1h-1M178 308h1v1h-1M196 308h1v1h-1M302 308h1v1h-1M350 308h1v1h-1M99 309h1v1h-1M413 309h1v1h-1M415 309h1v1h-1M454 309h1v1h-1M545 309h1v1h-1M149 310h1v1h-1M157 310h1v1h-1M206 310h1v1h-1M213 311h1v1h-1M292 311h1v1h-1M396 311h1v1h-1M445 311h1v1h-1M194 312h1v1h-1M211 312h1v1h-1M313 312h1v1h-1M178 313h1v1h-1M235 313h1v1h-1M259 313h1v1h-1M449 313h1v1h-1M282 314h1v1h-1M288 314h1v1h-1M346 314h1v1h-1M580 314h1v1h-1M179 315h1v1h-1M280 316h1v1h-1M330 316h1v1h-1M387 316h1v1h-1M457 316h1v1h-1M485 316h1v1h-1M537 316h1v1h-1M542 316h1v1h-1M553 316h1v1h-1M201 317h1v1h-1M320 317h1v1h-1M380 317h1v1h-1M419 317h1v1h-1M484 317h1v1h-1M486 317h1v1h-1M503 317h1v1h-1M81 318h1v1h-1M243 318h1v1h-1M247 318h1v1h-1M266 318h1v1h-1M470 318h1v1h-1M156 319h1v1h-1M166 319h1v1h-1M375 319h1v1h-1M400 319h1v1h-1M428 319h1v1h-1M471 319h1v1h-1M577 319h1v1h-1M125 320h1v1h-1M164 320h1v1h-1M331 320h1v1h-1M221 321h1v1h-1M320 321h1v1h-1M378 321h1v1h-1M103 322h1v1h-1M172 322h1v1h-1M201 322h1v1h-1M234 322h1v1h-1M251 322h1v1h-1M306 322h1v1h-1M311 322h1v1h-1M423 322h1v1h-1M545 322h1v1h-1M283 323h1v1h-1M341 323h1v1h-1M365 323h1v1h-1M455 323h1v1h-1M560 323h1v1h-1M588 323h1v1h-1M138 324h1v1h-1M390 324h1v1h-1M202 325h1v1h-1M308 325h1v1h-1M506 325h1v1h-1M183 326h1v1h-1M229 326h1v1h-1M243 326h1v1h-1M406 326h1v1h-1M131 327h1v1h-1M137 327h1v1h-1M357 327h1v1h-1M551 327h1v1h-1M260 328h1v1h-1M365 328h1v1h-1M369 328h1v1h-1M583 328h1v1h-1M74 329h1v1h-1M120 329h1v1h-1M206 329h1v1h-1M297 329h1v1h-1M336 329h1v1h-1M588 329h1v1h-1M80 330h1v1h-1M191 330h1v1h-1M449 330h1v1h-1M550 330h1v1h-1M121 331h1v1h-1M255 331h1v1h-1M393 331h1v1h-1M72 332h1v1h-1M110 332h1v1h-1M162 332h1v1h-1M199 332h1v1h-1M244 332h1v1h-1M254 332h1v1h-1M388 332h1v1h-1M449 332h1v1h-1M94 333h1v1h-1M173 333h1v1h-1M208 333h1v1h-1M244 333h1v1h-1M482 333h1v1h-1M74 334h1v1h-1M84 334h1v1h-1M195 334h1v1h-1M470 334h1v1h-1M519 334h1v1h-1M190 335h1v1h-1M455 335h1v1h-1M606 335h1v1h-1M93 336h1v1h-1M203 336h1v1h-1M230 336h1v1h-1M320 336h1v1h-1M502 336h1v1h-1M512 336h1v1h-1M560 336h1v1h-1M237 337h1v1h-1M237 337h1v1h-1M297 337h1v1h-1M356 337h1v1h-1M402 337h1v1h-1M483 337h1v1h-1M71 338h1v1h-1M245 338h1v1h-1M479 338h1v1h-1M223 339h1v1h-1M369 339h1v1h-1M125 340h1v1h-1M143 340h1v1h-1M184 340h1v1h-1M192 340h1v1h-1M222 340h1v1h-1M297 340h1v1h-1M459 340h1v1h-1M537 340h1v1h-1M70 341h1v1h-1M226 341h1v1h-1M266 341h1v1h-1M455 341h1v1h-1M178 342h1v1h-1M191 342h1v1h-1M206 342h1v1h-1M264 342h1v1h-1M476 342h1v1h-1M532 342h1v1h-1M82 343h1v1h-1M139 343h1v1h-1M257 343h1v1h-1M302 343h1v1h-1M316 343h1v1h-1M424 343h1v1h-1M506 343h1v1h-1M529 343h1v1h-1M117 344h1v1h-1M158 344h1v1h-1M184 344h1v1h-1M232 344h1v1h-1M378 344h1v1h-1M480 344h1v1h-1M500 344h1v1h-1M161 345h1v1h-1M217 345h1v1h-1M369 345h1v1h-1M82 346h1v1h-1M95 346h1v1h-1M313 346h1v1h-1M359 346h1v1h-1M407 346h1v1h-1M514 346h1v1h-1M536 346h1v1h-1M343 347h1v1h-1M545 347h1v1h-1M86 348h1v1h-1M124 348h1v1h-1M103 349h1v1h-1M121 349h1v1h-1M221 349h1v1h-1M467 349h1v1h-1M94 350h1v1h-1M159 350h1v1h-1M215 350h1v1h-1M328 350h1v1h-1M393 350h1v1h-1M556 350h1v1h-1M99 351h1v1h-1M131 351h1v1h-1M289 351h1v1h-1M308 351h1v1h-1M431 351h1v1h-1M460 351h1v1h-1M582 351h1v1h-1M114 352h1v1h-1M118 352h1v1h-1M204 352h1v1h-1M253 352h1v1h-1M485 352h1v1h-1M187 353h1v1h-1M264 353h1v1h-1M308 353h1v1h-1M83 354h1v1h-1M110 354h1v1h-1M292 354h1v1h-1M75 355h1v1h-1M89 355h1v1h-1M405 355h1v1h-1M409 355h1v1h-1M90 357h1v1h-1M93 357h1v1h-1M142 357h1v1h-1M171 357h1v1h-1M182 357h1v1h-1M587 357h1v1h-1M114 358h1v1h-1M122 358h1v1h-1M477 358h1v1h-1M165 359h1v1h-1M258 359h1v1h-1M284 359h1v1h-1M309 359h1v1h-1M76 360h1v1h-1M106 360h1v1h-1M254 360h1v1h-1M394 360h1v1h-1M476 360h1v1h-1M560 360h1v1h-1M71 361h1v1h-1M163 361h1v1h-1M563 361h1v1h-1M70 362h1v1h-1M71 362h1v1h-1M146 362h1v1h-1M163 362h1v1h-1M253 362h1v1h-1M333 362h1v1h-1M460 362h1v1h-1M508 362h1v1h-1M608 362h1v1h-1M116 363h1v1h-1M461 363h1v1h-1M127 364h1v1h-1M163 364h1v1h-1M518 364h1v1h-1M523 364h1v1h-1M590 364h1v1h-1M110 365h1v1h-1M552 365h1v1h-1M100 366h1v1h-1M146 366h1v1h-1M184 366h1v1h-1M253 366h1v1h-1M363 366h1v1h-1M180 367h1v1h-1M195 367h1v1h-1M195 367h1v1h-1M381 367h1v1h-1M102 368h1v1h-1M137 368h1v1h-1M173 368h1v1h-1M129 369h1v1h-1M138 369h1v1h-1M179 369h1v1h-1M228 369h1v1h-1M259 369h1v1h-1M431 369h1v1h-1M120 370h1v1h-1M122 370h1v1h-1M148 370h1v1h-1M286 370h1v1h-1M409 370h1v1h-1M516 370h1v1h-1M129 371h1v1h-1M164 371h1v1h-1M164 371h1v1h-1M287 371h1v1h-1M471 371h1v1h-1M478 371h1v1h-1M71 372h1v1h-1M118 372h1v1h-1M289 372h1v1h-1M459 372h1v1h-1M482 372h1v1h-1M248 373h1v1h-1M355 373h1v1h-1M505 373h1v1h-1M102 374h1v1h-1M248 374h1v1h-1M338 374h1v1h-1M488 374h1v1h-1M561 374h1v1h-1M187 375h1v1h-1M496 375h1v1h-1M538 375h1v1h-1M285 376h1v1h-1M516 376h1v1h-1M565 376h1v1h-1M161 377h1v1h-1M184 377h1v1h-1M216 377h1v1h-1M226 377h1v1h-1M234 377h1v1h-1M151 378h1v1h-1M219 378h1v1h-1M312 378h1v1h-1M540 378h1v1h-1M216 379h1v1h-1M247 379h1v1h-1M385 379h1v1h-1M182 380h1v1h-1M313 380h1v1h-1M432 380h1v1h-1M584 380h1v1h-1M111 381h1v1h-1M200 381h1v1h-1M279 381h1v1h-1M327 381h1v1h-1M371 381h1v1h-1M505 381h1v1h-1M135 382h1v1h-1M177 382h1v1h-1M354 382h1v1h-1M105 383h1v1h-1M121 383h1v1h-1M141 383h1v1h-1M145 383h1v1h-1M187 383h1v1h-1M191 383h1v1h-1M327 383h1v1h-1M359 383h1v1h-1M503 383h1v1h-1M525 383h1v1h-1M188 384h1v1h-1M236 384h1v1h-1M364 384h1v1h-1M367 384h1v1h-1M419 384h1v1h-1M502 384h1v1h-1M546 384h1v1h-1M220 385h1v1h-1M306 385h1v1h-1M551 385h1v1h-1M74 386h1v1h-1M159 386h1v1h-1M288 386h1v1h-1M391 386h1v1h-1M245 387h1v1h-1M270 387h1v1h-1M80 388h1v1h-1M114 388h1v1h-1M159 388h1v1h-1M228 388h1v1h-1M354 388h1v1h-1M70 389h1v1h-1M168 389h1v1h-1M336 389h1v1h-1M404 389h1v1h-1M136 390h1v1h-1M148 390h1v1h-1M204 390h1v1h-1M223 390h1v1h-1M238 390h1v1h-1M313 390h1v1h-1M602 390h1v1h-1M232 391h1v1h-1M246 391h1v1h-1M488 391h1v1h-1M516 391h1v1h-1M236 392h1v1h-1M488 392h1v1h-1M527 392h1v1h-1M248 393h1v1h-1M550 393h1v1h-1M139 394h1v1h-1M298 394h1v1h-1M314 394h1v1h-1M360 394h1v1h-1M397 394h1v1h-1M162 395h1v1h-1M272 395h1v1h-1M276 395h1v1h-1M329 395h1v1h-1M348 395h1v1h-1M399 395h1v1h-1M434 395h1v1h-1M495 395h1v1h-1M529 395h1v1h-1M101 396h1v1h-1M189 396h1v1h-1M222 397h1v1h-1M225 397h1v1h-1M283 397h1v1h-1M100 398h1v1h-1M113 398h1v1h-1M133 398h1v1h-1M323 398h1v1h-1M376 398h1v1h-1M395 398h1v1h-1M475 398h1v1h-1M561 398h1v1h-1M96 399h1v1h-1M265 399h1v1h-1M513 399h1v1h-1M529 399h1v1h-1M92 400h1v1h-1M266 400h1v1h-1M488 400h1v1h-1M578 400h1v1h-1M592 400h1v1h-1M95 401h1v1h-1M112 401h1v1h-1M129 401h1v1h-1M193 401h1v1h-1M318 401h1v1h-1M70 402h1v1h-1M74 402h1v1h-1M107 402h1v1h-1M125 402h1v1h-1M169 402h1v1h-1M317 402h1v1h-1M459 402h1v1h-1M562 402h1v1h-1M592 402h1v1h-1M176 403h1v1h-1M233 403h1v1h-1M261 403h1v1h-1M303 403h1v1h-1M217 404h1v1h-1M343 404h1v1h-1M576 404h1v1h-1M75 405h1v1h-1M89 405h1v1h-1M182 405h1v1h-1M298 405h1v1h-1M606 405h1v1h-1M160 406h1v1h-1M303 406h1v1h-1M389 407h1v1h-1M82 408h1v1h-1M192 408h1v1h-1M197 408h1v1h-1M424 408h1v1h-1M371 409h1v1h-1M400 409h1v1h-1M527 409h1v1h-1M557 409h1v1h-1M96 410h1v1h-1M238 410h1v1h-1M417 410h1v1h-1M453 410h1v1h-1M169 411h1v1h-1M188 411h1v1h-1M203 411h1v1h-1M471 411h1v1h-1M484 411h1v1h-1M133 412h1v1h-1M230 412h1v1h-1M264 412h1v1h-1M438 412h1v1h-1M474 412h1v1h-1M182 413h1v1h-1M191 413h1v1h-1M206 413h1v1h-1M227 413h1v1h-1M312 413h1v1h-1M369 413h1v1h-1M389 413h1v1h-1M482 413h1v1h-1M256 414h1v1h-1M411 414h1v1h-1M414 414h1v1h-1M88 415h1v1h-1M149 415h1v1h-1M199 415h1v1h-1M231 415h1v1h-1M324 415h1v1h-1M469 415h1v1h-1M574 415h1v1h-1M133 416h1v1h-1M302 416h1v1h-1M355 416h1v1h-1M514 416h1v1h-1M71 417h1v1h-1M140 417h1v1h-1M319 417h1v1h-1M416 417h1v1h-1M96 418h1v1h-1M160 418h1v1h-1M178 418h1v1h-1M385 418h1v1h-1M90 419h1v1h-1M219 419h1v1h-1M261 419h1v1h-1M538 419h1v1h-1M104 420h1v1h-1M166 420h1v1h-1M476 420h1v1h-1M200 421h1v1h-1M334 421h1v1h-1M422 421h1v1h-1M537 421h1v1h-1M116 422h1v1h-1M344 422h1v1h-1M530 422h1v1h-1M87 423h1v1h-1M273 423h1v1h-1M109 424h1v1h-1M190 424h1v1h-1M441 424h1v1h-1M560 424h1v1h-1M600 424h1v1h-1M77 425h1v1h-1M147 425h1v1h-1M343 425h1v1h-1M188 426h1v1h-1M200 426h1v1h-1M446 426h1v1h-1M146 427h1v1h-1M158 427h1v1h-1M186 427h1v1h-1M195 428h1v1h-1M364 428h1v1h-1M455 428h1v1h-1M550 428h1v1h-1M575 428h1v1h-1M74 429h1v1h-1M146 429h1v1h-1M202 429h1v1h-1M203 429h1v1h-1M286 429h1v1h-1M468 429h1v1h-1M89 430h1v1h-1M112 430h1v1h-1M177 430h1v1h-1M215 430h1v1h-1M290 430h1v1h-1M353 430h1v1h-1M103 431h1v1h-1M154 431h1v1h-1M466 431h1v1h-1M474 431h1v1h-1M133 432h1v1h-1M332 432h1v1h-1M485 432h1v1h-1M73 433h1v1h-1M201 433h1v1h-1M292 434h1v1h-1M407 434h1v1h-1M490 434h1v1h-1M107 435h1v1h-1M171 435h1v1h-1M202 435h1v1h-1M356 435h1v1h-1M216 436h1v1h-1M245 436h1v1h-1M325 436h1v1h-1M416 436h1v1h-1M577 436h1v1h-1M433 437h1v1h-1M108 438h1v1h-1M258 438h1v1h-1M259 438h1v1h-1M271 438h1v1h-1M283 438h1v1h-1M325 438h1v1h-1M460 438h1v1h-1M502 438h1v1h-1M138 439h1v1h-1M225 439h1v1h-1M284 439h1v1h-1M309 439h1v1h-1M112 440h1v1h-1M115 440h1v1h-1M156 440h1v1h-1M221 440h1v1h-1M545 440h1v1h-1M117 441h1v1h-1M129 441h1v1h-1M382 441h1v1h-1M199 442h1v1h-1M211 442h1v1h-1M363 442h1v1h-1M438 442h1v1h-1M187 443h1v1h-1M217 443h1v1h-1M462 443h1v1h-1M509 443h1v1h-1M523 443h1v1h-1M157 444h1v1h-1M308 444h1v1h-1M409 444h1v1h-1M417 444h1v1h-1M453 444h1v1h-1M94 445h1v1h-1M193 445h1v1h-1M302 445h1v1h-1M312 445h1v1h-1M465 445h1v1h-1M468 445h1v1h-1M490 445h1v1h-1M117 446h1v1h-1M128 446h1v1h-1M151 446h1v1h-1M257 446h1v1h-1M285 446h1v1h-1M488 446h1v1h-1M519 446h1v1h-1M563 446h1v1h-1M153 447h1v1h-1M210 447h1v1h-1M386 447h1v1h-1M462 447h1v1h-1M128 448h1v1h-1M243 448h1v1h-1M312 448h1v1h-1M431 448h1v1h-1M480 448h1v1h-1M94 449h1v1h-1M112 449h1v1h-1M124 449h1v1h-1M200 449h1v1h-1M240 449h1v1h-1M472 449h1v1h-1M487 449h1v1h-1M97 450h1v1h-1M262 450h1v1h-1M269 450h1v1h-1M343 450h1v1h-1M488 450h1v1h-1M567 450h1v1h-1M568 450h1v1h-1M213 451h1v1h-1M319 451h1v1h-1M384 451h1v1h-1M528 451h1v1h-1M435 452h1v1h-1M492 452h1v1h-1M519 452h1v1h-1M88 453h1v1h-1M161 453h1v1h-1M386 453h1v1h-1M529 453h1v1h-1M531 453h1v1h-1M100 454h1v1h-1M158 454h1v1h-1M277 454h1v1h-1M281 454h1v1h-1M290 454h1v1h-1M321 454h1v1h-1M214 455h1v1h-1M220 455h1v1h-1M333 455h1v1h-1M119 456h1v1h-1M133 456h1v1h-1M237 456h1v1h-1M277 456h1v1h-1M69 457h1v1h-1M81 457h1v1h-1M199 457h1v1h-1M228 457h1v1h-1M254 457h1v1h-1M264 457h1v1h-1M441 457h1v1h-1M469 457h1v1h-1M113 458h1v1h-1M221 458h1v1h-1M257 458h1v1h-1M281 458h1v1h-1M294 458h1v1h-1M348 458h1v1h-1M404 458h1v1h-1M302 459h1v1h-1M396 459h1v1h-1M73 460h1v1h-1M91 460h1v1h-1M94 460h1v1h-1M171 460h1v1h-1M212 460h1v1h-1M369 460h1v1h-1M385 460h1v1h-1M410 460h1v1h-1M527 460h1v1h-1M214 461h1v1h-1M468 461h1v1h-1M569 461h1v1h-1M75 462h1v1h-1M90 462h1v1h-1M148 462h1v1h-1M150 462h1v1h-1M214 462h1v1h-1M264 462h1v1h-1M388 462h1v1h-1M449 462h1v1h-1M516 462h1v1h-1M236 463h1v1h-1M271 463h1v1h-1M113 464h1v1h-1M142 464h1v1h-1M156 464h1v1h-1M161 464h1v1h-1M297 464h1v1h-1M598 464h1v1h-1M231 465h1v1h-1M440 465h1v1h-1M511 465h1v1h-1M513 465h1v1h-1M73 466h1v1h-1M315 466h1v1h-1M340 466h1v1h-1M390 466h1v1h-1M85 467h1v1h-1M290 467h1v1h-1M321 467h1v1h-1M421 467h1v1h-1M81 468h1v1h-1M103 468h1v1h-1M136 468h1v1h-1M454 468h1v1h-1M459 468h1v1h-1M582 468h1v1h-1M133 469h1v1h-1M235 469h1v1h-1M360 469h1v1h-1M402 469h1v1h-1M79 470h1v1h-1M90 470h1v1h-1M120 470h1v1h-1M144 470h1v1h-1M155 470h1v1h-1M346 470h1v1h-1M350 470h1v1h-1M581 470h1v1h-1M86 471h1v1h-1M109 471h1v1h-1M112 471h1v1h-1M132 471h1v1h-1M213 471h1v1h-1M376 471h1v1h-1M414 471h1v1h-1M498 471h1v1h-1M211 472h1v1h-1M270 472h1v1h-1M388 472h1v1h-1M439 472h1v1h-1M516 472h1v1h-1M536 472h1v1h-1M374 473h1v1h-1M461 473h1v1h-1M499 473h1v1h-1M562 473h1v1h-1M592 473h1v1h-1M353 474h1v1h-1M162 475h1v1h-1M166 475h1v1h-1M245 475h1v1h-1M247 475h1v1h-1M265 475h1v1h-1M399 475h1v1h-1M576 475h1v1h-1M591 475h1v1h-1M149 476h1v1h-1M415 476h1v1h-1M508 476h1v1h-1M531 476h1v1h-1M74 477h1v1h-1M245 477h1v1h-1M339 477h1v1h-1M159 478h1v1h-1M216 478h1v1h-1M331 478h1v1h-1M418 478h1v1h-1M447 478h1v1h-1M514 478h1v1h-1M575 478h1v1h-1M112 479h1v1h-1M261 479h1v1h-1M271 479h1v1h-1M317 479h1v1h-1M434 479h1v1h-1M69 480h1v1h-1M136 480h1v1h-1M271 480h1v1h-1M336 480h1v1h-1M437 480h1v1h-1M542 480h1v1h-1M94 481h1v1h-1M163 481h1v1h-1M249 481h1v1h-1M318 481h1v1h-1M426 481h1v1h-1M604 481h1v1h-1M122 482h1v1h-1M161 482h1v1h-1M426 482h1v1h-1M84 483h1v1h-1M112 483h1v1h-1M127 483h1v1h-1M164 483h1v1h-1M169 483h1v1h-1M260 483h1v1h-1M383 483h1v1h-1M416 483h1v1h-1M388 484h1v1h-1M610 484h1v1h-1M86 485h1v1h-1M92 485h1v1h-1M97 485h1v1h-1M101 485h1v1h-1M228 485h1v1h-1M369 485h1v1h-1M377 485h1v1h-1M417 485h1v1h-1M93 486h1v1h-1M151 486h1v1h-1M233 486h1v1h-1M344 486h1v1h-1M573 486h1v1h-1M111 487h1v1h-1M186 487h1v1h-1M492 487h1v1h-1M144 488h1v1h-1M162 488h1v1h-1M194 488h1v1h-1M325 488h1v1h-1M409 488h1v1h-1M423 488h1v1h-1M472 488h1v1h-1M482 488h1v1h-1M120 489h1v1h-1M155 489h1v1h-1M178 489h1v1h-1M257 489h1v1h-1M108 490h1v1h-1M177 490h1v1h-1M72 491h1v1h-1M82 491h1v1h-1M250 491h1v1h-1M278 491h1v1h-1M512 491h1v1h-1M585 491h1v1h-1M157 492h1v1h-1M366 492h1v1h-1M378 492h1v1h-1M413 492h1v1h-1M572 492h1v1h-1M123 493h1v1h-1M239 493h1v1h-1M434 493h1v1h-1M555 493h1v1h-1M94 494h1v1h-1M281 494h1v1h-1M449 494h1v1h-1M466 494h1v1h-1M544 494h1v1h-1M604 494h1v1h-1M92 495h1v1h-1M145 495h1v1h-1M147 495h1v1h-1M187 495h1v1h-1M213 495h1v1h-1M218 495h1v1h-1M227 495h1v1h-1M260 495h1v1h-1M532 495h1v1h-1M81 496h1v1h-1M141 496h1v1h-1M154 496h1v1h-1M173 496h1v1h-1M236 496h1v1h-1M257 496h1v1h-1M525 496h1v1h-1M143 497h1v1h-1M233 497h1v1h-1M387 497h1v1h-1M555 497h1v1h-1M111 498h1v1h-1M132 498h1v1h-1M158 498h1v1h-1M169 498h1v1h-1M170 498h1v1h-1M263 498h1v1h-1M85 499h1v1h-1M210 499h1v1h-1M274 499h1v1h-1M297 499h1v1h-1M305 499h1v1h-1M415 499h1v1h-1M526 499h1v1h-1M89 500h1v1h-1M137 500h1v1h-1M178 500h1v1h-1M315 500h1v1h-1M467 500h1v1h-1M583 500h1v1h-1M156 501h1v1h-1M212 501h1v1h-1M330 501h1v1h-1M160 502h1v1h-1M493 502h1v1h-1M78 503h1v1h-1M178 503h1v1h-1M426 503h1v1h-1M108 504h1v1h-1M244 504h1v1h-1M254 504h1v1h-1M141 505h1v1h-1M180 505h1v1h-1M184 505h1v1h-1M279 505h1v1h-1M399 505h1v1h-1M405 505h1v1h-1M588 505h1v1h-1M590 505h1v1h-1M219 506h1v1h-1M272 506h1v1h-1M297 506h1v1h-1M342 506h1v1h-1M95 507h1v1h-1M113 507h1v1h-1M202 507h1v1h-1M256 507h1v1h-1M356 507h1v1h-1M243 508h1v1h-1M431 508h1v1h-1M448 508h1v1h-1M111 509h1v1h-1M149 509h1v1h-1M184 509h1v1h-1M234 509h1v1h-1M257 509h1v1h-1M272 509h1v1h-1M286 509h1v1h-1M304 509h1v1h-1M347 509h1v1h-1M354 509h1v1h-1M360 509h1v1h-1M424 509h1v1h-1M435 509h1v1h-1M594 509h1v1h-1M88 510h1v1h-1M234 510h1v1h-1M538 510h1v1h-1M576 510h1v1h-1M581 510h1v1h-1M188 511h1v1h-1M309 511h1v1h-1M357 511h1v1h-1M175 512h1v1h-1M182 512h1v1h-1M283 512h1v1h-1M419 512h1v1h-1M77 513h1v1h-1M155 513h1v1h-1M236 513h1v1h-1M249 513h1v1h-1M337 513h1v1h-1M479 513h1v1h-1M520 513h1v1h-1M551 513h1v1h-1M173 514h1v1h-1M110 515h1v1h-1M112 515h1v1h-1M205 515h1v1h-1M260 515h1v1h-1M266 515h1v1h-1M266 515h1v1h-1M327 515h1v1h-1M455 515h1v1h-1M544 515h1v1h-1M216 516h1v1h-1M328 516h1v1h-1M400 516h1v1h-1M542 516h1v1h-1M74 517h1v1h-1M189 517h1v1h-1M256 517h1v1h-1M470 517h1v1h-1M161 518h1v1h-1M446 518h1v1h-1M494 518h1v1h-1M605 518h1v1h-1M235 519h1v1h-1M266 519h1v1h-1M270 519h1v1h-1M302 519h1v1h-1M348 519h1v1h-1M534 519h1v1h-1M244 520h1v1h-1M282 520h1v1h-1M322 520h1v1h-1M347 520h1v1h-1M350 520h1v1h-1M77 521h1v1h-1M85 521h1v1h-1M488 521h1v1h-1M595 521h1v1h-1M108 522h1v1h-1M210 522h1v1h-1M226 522h1v1h-1M232 522h1v1h-1M309 522h1v1h-1M366 522h1v1h-1M401 522h1v1h-1M450 522h1v1h-1M462 522h1v1h-1M607 522h1v1h-1M76 523h1v1h-1M123 523h1v1h-1M165 523h1v1h-1M408 523h1v1h-1M420 523h1v1h-1M82 524h1v1h-1M242 524h1v1h-1M411 524h1v1h-1M176 525h1v1h-1M341 525h1v1h-1M368 525h1v1h-1M143 526h1v1h-1M252 526h1v1h-1M271 526h1v1h-1M483 526h1v1h-1M110 527h1v1h-1M127 527h1v1h-1M384 527h1v1h-1M597 527h1v1h-1M142 528h1v1h-1M246 528h1v1h-1M271 528h1v1h-1M303 528h1v1h-1M316 528h1v1h-1M545 528h1v1h-1M162 529h1v1h-1M169 529h1v1h-1M188 529h1v1h-1M190 529h1v1h-1M104 530h1v1h-1M356 530h1v1h-1M76 531h1v1h-1M321 531h1v1h-1M327 531h1v1h-1M74 532h1v1h-1M90 532h1v1h-1M137 532h1v1h-1M151 532h1v1h-1M163 532h1v1h-1M168 532h1v1h-1M245 532h1v1h-1M295 532h1v1h-1M374 532h1v1h-1M464 532h1v1h-1M76 533h1v1h-1M196 533h1v1h-1M385 533h1v1h-1M524 533h1v1h-1M606 533h1v1h-1M148 534h1v1h-1M285 534h1v1h-1M382 534h1v1h-1M418 534h1v1h-1M442 534h1v1h-1M570 534h1v1h-1M112 535h1v1h-1M147 535h1v1h-1M320 535h1v1h-1M386 535h1v1h-1M563 535h1v1h-1M295 536h1v1h-1M327 536h1v1h-1M341 536h1v1h-1M378 536h1v1h-1M418 536h1v1h-1M132 537h1v1h-1M570 537h1v1h-1M572 537h1v1h-1M97 538h1v1h-1M105 538h1v1h-1M134 538h1v1h-1M204 538h1v1h-1M214 538h1v1h-1M224 538h1v1h-1M274 538h1v1h-1M367 538h1v1h-1M395 538h1v1h-1M521 538h1v1h-1M75 539h1v1h-1M115 539h1v1h-1M181 539h1v1h-1M239 539h1v1h-1M337 539h1v1h-1M343 539h1v1h-1M359 539h1v1h-1M474 539h1v1h-1M579 539h1v1h-1M80 540h1v1h-1M144 540h1v1h-1M275 540h1v1h-1M345 540h1v1h-1M548 540h1v1h-1M104 541h1v1h-1M187 541h1v1h-1M270 541h1v1h-1M320 541h1v1h-1M162 542h1v1h-1M227 542h1v1h-1M242 542h1v1h-1M330 542h1v1h-1M343 542h1v1h-1M462 542h1v1h-1M276 543h1v1h-1M300 543h1v1h-1M372 543h1v1h-1M394 543h1v1h-1M460 543h1v1h-1M132 544h1v1h-1M230 544h1v1h-1M422 544h1v1h-1M515 544h1v1h-1M187 545h1v1h-1M205 545h1v1h-1M249 545h1v1h-1M268 545h1v1h-1M318 545h1v1h-1M193 546h1v1h-1M387 546h1v1h-1M443 546h1v1h-1M472 546h1v1h-1M568 546h1v1h-1M138 547h1v1h-1M153 547h1v1h-1M202 547h1v1h-1M331 547h1v1h-1M78 548h1v1h-1M238 548h1v1h-1M256 548h1v1h-1M428 548h1v1h-1M498 548h1v1h-1M147 549h1v1h-1M148 549h1v1h-1M248 549h1v1h-1M466 549h1v1h-1M500 549h1v1h-1M523 549h1v1h-1M606 549h1v1h-1M101 550h1v1h-1M209 550h1v1h-1M293 550h1v1h-1M411 550h1v1h-1M461 550h1v1h-1M543 550h1v1h-1M242 551h1v1h-1M274 551h1v1h-1M298 551h1v1h-1M521 551h1v1h-1M590 551h1v1h-1M599 551h1v1h-1M125 552h1v1h-1M127 552h1v1h-1M152 552h1v1h-1M172 552h1v1h-1M198 552h1v1h-1M215 552h1v1h-1M373 552h1v1h-1M90 553h1v1h-1M227 553h1v1h-1M268 553h1v1h-1M310 553h1v1h-1M124 554h1v1h-1M126 554h1v1h-1M131 554h1v1h-1M157 554h1v1h-1M169 554h1v1h-1M218 554h1v1h-1M358 554h1v1h-1M383 554h1v1h-1M432 554h1v1h-1M469 554h1v1h-1M178 555h1v1h-1M225 555h1v1h-1M334 555h1v1h-1M544 555h1v1h-1M92 556h1v1h-1M167 556h1v1h-1M185 556h1v1h-1M596 556h1v1h-1M83 557h1v1h-1M138 557h1v1h-1M165 557h1v1h-1M572 557h1v1h-1M246 558h1v1h-1M377 558h1v1h-1M379 558h1v1h-1M405 558h1v1h-1M500 558h1v1h-1M314 559h1v1h-1M545 559h1v1h-1M188 560h1v1h-1M221 560h1v1h-1M275 560h1v1h-1M460 560h1v1h-1M583 560h1v1h-1M199 561h1v1h-1M232 561h1v1h-1M282 561h1v1h-1M502 561h1v1h-1M546 561h1v1h-1M130 562h1v1h-1M281 562h1v1h-1M445 562h1v1h-1M576 562h1v1h-1M218 563h1v1h-1M243 563h1v1h-1M258 563h1v1h-1M279 563h1v1h-1M295 563h1v1h-1M297 563h1v1h-1M337 563h1v1h-1M377 563h1v1h-1M515 563h1v1h-1M554 563h1v1h-1M559 563h1v1h-1M185 564h1v1h-1M256 564h1v1h-1M327 564h1v1h-1M505 564h1v1h-1M133 565h1v1h-1M296 565h1v1h-1M309 565h1v1h-1M371 565h1v1h-1M78 566h1v1h-1M372 566h1v1h-1M419 566h1v1h-1M421 566h1v1h-1M579 566h1v1h-1M107 567h1v1h-1M118 567h1v1h-1M238 567h1v1h-1M244 567h1v1h-1M244 567h1v1h-1M257 567h1v1h-1M454 567h1v1h-1M146 568h1v1h-1M213 568h1v1h-1M162 569h1v1h-1M193 569h1v1h-1M269 569h1v1h-1M479 569h1v1h-1M131 570h1v1h-1M142 570h1v1h-1M240 570h1v1h-1M319 570h1v1h-1M493 570h1v1h-1M553 570h1v1h-1M208 571h1v1h-1M372 571h1v1h-1M393 571h1v1h-1M152 572h1v1h-1M201 572h1v1h-1M411 572h1v1h-1M428 572h1v1h-1M497 572h1v1h-1M76 573h1v1h-1M156 573h1v1h-1M215 573h1v1h-1M265 573h1v1h-1M357 573h1v1h-1M373 573h1v1h-1M73 574h1v1h-1M154 574h1v1h-1M230 574h1v1h-1M249 574h1v1h-1M281 574h1v1h-1M366 574h1v1h-1M464 574h1v1h-1M489 574h1v1h-1M606 574h1v1h-1M194 575h1v1h-1M351 575h1v1h-1M378 575h1v1h-1M106 576h1v1h-1M136 576h1v1h-1M200 576h1v1h-1M298 576h1v1h-1M314 576h1v1h-1M352 576h1v1h-1M442 576h1v1h-1M109 577h1v1h-1M189 577h1v1h-1M214 577h1v1h-1M362 577h1v1h-1M376 577h1v1h-1M388 577h1v1h-1M485 577h1v1h-1M502 577h1v1h-1M270 578h1v1h-1M396 578h1v1h-1M588 578h1v1h-1M599 578h1v1h-1M212 579h1v1h-1M347 579h1v1h-1M355 579h1v1h-1M291 580h1v1h-1M354 580h1v1h-1M370 580h1v1h-1M378 580h1v1h-1M108 581h1v1h-1M179 581h1v1h-1M230 581h1v1h-1M313 581h1v1h-1M419 581h1v1h-1M435 581h1v1h-1M469 581h1v1h-1M473 581h1v1h-1M558 581h1v1h-1M145 582h1v1h-1M200 582h1v1h-1M317 582h1v1h-1M592 582h1v1h-1M90 583h1v1h-1M196 583h1v1h-1M541 583h1v1h-1M562 583h1v1h-1M91 584h1v1h-1M200 584h1v1h-1M244 584h1v1h-1M312 584h1v1h-1M565 584h1v1h-1M596 584h1v1h-1M328 585h1v1h-1M448 585h1v1h-1M70 586h1v1h-1M94 586h1v1h-1M155 586h1v1h-1M328 586h1v1h-1M124 587h1v1h-1M160 587h1v1h-1M180 587h1v1h-1M191 587h1v1h-1M403 587h1v1h-1M445 587h1v1h-1M312 588h1v1h-1M427 588h1v1h-1M449 588h1v1h-1M461 588h1v1h-1M461 588h1v1h-1M259 589h1v1h-1M349 589h1v1h-1M394 589h1v1h-1M89 590h1v1h-1M133 590h1v1h-1M135 590h1v1h-1M410 590h1v1h-1M452 590h1v1h-1M355 591h1v1h-1M511 591h1v1h-1M561 591h1v1h-1M605 591h1v1h-1M73 592h1v1h-1M161 592h1v1h-1M413 592h1v1h-1M515 592h1v1h-1M598 592h1v1h-1M602 592h1v1h-1M102 593h1v1h-1M125 593h1v1h-1M218 593h1v1h-1M334 593h1v1h-1M475 593h1v1h-1M513 593h1v1h-1M533 593h1v1h-1M194 594h1v1h-1M228 594h1v1h-1M280 594h1v1h-1M289 594h1v1h-1M358 594h1v1h-1M376 594h1v1h-1M554 594h1v1h-1M599 594h1v1h-1M125 595h1v1h-1M133 595h1v1h-1M345 595h1v1h-1M368 595h1v1h-1M529 595h1v1h-1M534 595h1v1h-1M553 595h1v1h-1M553 595h1v1h-1M595 595h1v1h-1M121 596h1v1h-1M183 596h1v1h-1M284 596h1v1h-1M327 596h1v1h-1M468 596h1v1h-1M478 596h1v1h-1M489 596h1v1h-1M529 596h1v1h-1M531 596h1v1h-1M125 597h1v1h-1M175 597h1v1h-1M226 597h1v1h-1M312 597h1v1h-1M399 597h1v1h-1M435 597h1v1h-1M439 597h1v1h-1M531 597h1v1h-1M79 598h1v1h-1M148 598h1v1h-1M174 598h1v1h-1M202 598h1v1h-1M325 598h1v1h-1M518 598h1v1h-1M540 598h1v1h-1M89 599h1v1h-1M125 599h1v1h-1M177 599h1v1h-1M220 599h1v1h-1M265 599h1v1h-1M268 599h1v1h-1M465 599h1v1h-1M595 599h1v1h-1M599 599h1v1h-1M151 600h1v1h-1M167 600h1v1h-1M383 600h1v1h-1M438 600h1v1h-1M539 600h1v1h-1M569 600h1v1h-1M572 600h1v1h-1M94 601h1v1h-1M185 601h1v1h-1M288 601h1v1h-1M350 601h1v1h-1M375 601h1v1h-1M401 601h1v1h-1M438 601h1v1h-1M445 601h1v1h-1M560 601h1v1h-1M102 602h1v1h-1M215 602h1v1h-1M396 602h1v1h-1M460 602h1v1h-1M137 603h1v1h-1M144 603h1v1h-1M418 603h1v1h-1M446 603h1v1h-1M545 603h1v1h-1M189 604h1v1h-1M302 604h1v1h-1M387 604h1v1h-1M544 604h1v1h-1M199 605h1v1h-1M214 605h1v1h-1M220 605h1v1h-1M509 605h1v1h-1M603 605h1v1h-1M138 606h1v1h-1M142 606h1v1h-1M258 606h1v1h-1M366 606h1v1h-1M368 606h1v1h-1M411 606h1v1h-1M490 606h1v1h-1M558 606h1v1h-1M197 607h1v1h-1M240 607h1v1h-1M263 607h1v1h-1M389 607h1v1h-1M485 607h1v1h-1M518 607h1v1h-1M605 607h1v1h-1M313 608h1v1h-1M427 608h1v1h-1M557 608h1v1h-1M580 608h1v1h-1M81 609h1v1h-1M88 609h1v1h-1M116 609h1v1h-1M122 609h1v1h-1M284 609h1v1h-1M484 609h1v1h-1M498 609h1v1h-1M567 609h1v1h-1M89 610h1v1h-1M247 610h1v1h-1M251 610h1v1h-1M345 610h1v1h-1M356 610h1v1h-1"/>
<path fill="#e2e2e2" d="M244 69h1v1h-1M299 69h1v1h-1M426 69h1v1h-1M201 70h1v1h-1M333 70h1v1h-1M341 70h1v1h-1M81 71h1v1h-1M82 71h1v1h-1M384 71h1v1h-1M439 71h1v1h-1M586 71h1v1h-1M97 72h1v1h-1M520 72h1v1h-1M90 73h1v1h-1M201 73h1v1h-1M506 73h1v1h-1M215 74h1v1h-1M261 74h1v1h-1M303 74h1v1h-1M322 74h1v1h-1M180 75h1v1h-1M220 75h1v1h-1M262 75h1v1h-1M375 75h1v1h-1M599 75h1v1h-1M188 76h1v1h-1M338 76h1v1h-1M393 76h1v1h-1M436 76h1v1h-1M351 77h1v1h-1M406 77h1v1h-1M532 77h1v1h-1M539 77h1v1h-1M126 78h1v1h-1M144 78h1v1h-1M221 78h1v1h-1M510 78h1v1h-1M328 79h1v1h-1M451 79h1v1h-1M477 79h1v1h-1M257 80h1v1h-1M364 80h1v1h-1M413 80h1v1h-1M73 81h1v1h-1M132 81h1v1h-1M215 81h1v1h-1M580 81h1v1h-1M81 82h1v1h-1M86 82h1v1h-1M218 82h1v1h-1M250 82h1v1h-1M359 82h1v1h-1M395 82h1v1h-1M86 84h1v1h-1M121 84h1v1h-1M124 84h1v1h-1M200 84h1v1h-1M388 84h1v1h-1M159 85h1v1h-1M329 85h1v1h-1M277 86h1v1h-1M398 86h1v1h-1M450 86h1v1h-1M569 86h1v1h-1M103 87h1v1h-1M196 87h1v1h-1M212 87h1v1h-1M287 87h1v1h-1M554 87h1v1h-1M120 88h1v1h-1M265 88h1v1h-1M420 88h1v1h-1M476 88h1v1h-1M86 89h1v1h-1M225 89h1v1h-1M226 89h1v1h-1M83 90h1v1h-1M98 90h1v1h-1M196 90h1v1h-1M79 91h1v1h-1M108 91h1v1h-1M115 91h1v1h-1M315 91h1v1h-1M391 91h1v1h-1M464 91h1v1h-1M311 92h1v1h-1M128 93h1v1h-1M149 93h1v1h-1M282 93h1v1h-1M370 93h1v1h-1M420 93h1v1h-1M146 94h1v1h-1M266 94h1v1h-1M279 94h1v1h-1M290 94h1v1h-1M360 94h1v1h-1M610 94h1v1h-1M79 95h1v1h-1M123 95h1v1h-1M496 95h1v1h-1M510 95h1v1h-1M577 95h1v1h-1M75 96h1v1h-1M87 96h1v1h-1M326 96h1v1h-1M491 96h1v1h-1M563 96h1v1h-1M91 97h1v1h-1M348 97h1v1h-1M405 98h1v1h-1M79 99h1v1h-1M241 99h1v1h-1M325 99h1v1h-1M469 99h1v1h-1M526 99h1v1h-1M98 100h1v1h-1M101 100h1v1h-1M226 100h1v1h-1M247 100h1v1h-1M505 100h1v1h-1M121 101h1v1h-1M158 101h1v1h-1M171 101h1v1h-1M210 101h1v1h-1M116 102h1v1h-1M210 102h1v1h-1M486 102h1v1h-1M105 103h1v1h-1M254 103h1v1h-1M321 103h1v1h-1M325 103h1v1h-1M516 103h1v1h-1M527 103h1v1h-1M152 104h1v1h-1M71 105h1v1h-1M73 105h1v1h-1M99 105h1v1h-1M120 105h1v1h-1M251 105h1v1h-1M120 106h1v1h-1M124 106h1v1h-1M170 106h1v1h-1M208 106h1v1h-1M282 106h1v1h-1M325 106h1v1h-1M406 106h1v1h-1M84 107h1v1h-1M112 107h1v1h-1M432 107h1v1h-1M130 108h1v1h-1M257 108h1v1h-1M320 108h1v1h-1M137 109h1v1h-1M354 109h1v1h-1M460 109h1v1h-1M158 110h1v1h-1M185 110h1v1h-1M241 110h1v1h-1M269 110h1v1h-1M293 110h1v1h-1M409 110h1v1h-1M469 110h1v1h-1M479 110h1v1h-1M130 111h1v1h-1M308 112h1v1h-1M421 112h1v1h-1M425 112h1v1h-1M104 113h1v1h-1M543 113h1v1h-1M81 114h1v1h-1M290 114h1v1h-1M454 114h1v1h-1M141 115h1v1h-1M300 115h1v1h-1M70 116h1v1h-1M92 117h1v1h-1M97 117h1v1h-1M412 117h1v1h-1M523 117h1v1h-1M201 118h1v1h-1M267 118h1v1h-1M293 118h1v1h-1M325 118h1v1h-1M429 118h1v1h-1M100 119h1v1h-1M103 119h1v1h-1M136 119h1v1h-1M151 119h1v1h-1M196 119h1v1h-1M296 119h1v1h-1M377 119h1v1h-1M136 120h1v1h-1M231 120h1v1h-1M260 120h1v1h-1M479 120h1v1h-1M565 120h1v1h-1M570 120h1v1h-1M71 121h1v1h-1M86 121h1v1h-1M112 121h1v1h-1M116 121h1v1h-1M209 121h1v1h-1M496 121h1v1h-1M77 122h1v1h-1M81 122h1v1h-1M241 122h1v1h-1M338 122h1v1h-1M186 123h1v1h-1M259 123h1v1h-1M567 123h1v1h-1M122 124h1v1h-1M148 124h1v1h-1M194 124h1v1h-1M218 124h1v1h-1M297 124h1v1h-1M314 124h1v1h-1M451 124h1v1h-1M455 124h1v1h-1M535 124h1v1h-1M582 124h1v1h-1M80 125h1v1h-1M97 125h1v1h-1M105 125h1v1h-1M165 125h1v1h-1M80 126h1v1h-1M389 126h1v1h-1M177 127h1v1h-1M235 127h1v1h-1M408 127h1v1h-1M463 127h1v1h-1M558 127h1v1h-1M84 129h1v1h-1M197 129h1v1h-1M264 129h1v1h-1M558 129h1v1h-1M256 130h1v1h-1M287 130h1v1h-1M469 130h1v1h-1M69 131h1v1h-1M80 131h1v1h-1M245 131h1v1h-1M260 131h1v1h-1M297 131h1v1h-1M363 131h1v1h-1M440 131h1v1h-1M133 132h1v1h-1M192 132h1v1h-1M233 132h1v1h-1M300 132h1v1h-1M201 133h1v1h-1M251 133h1v1h-1M411 133h1v1h-1M432 133h1v1h-1M439 133h1v1h-1M477 133h1v1h-1M217 134h1v1h-1M254 134h1v1h-1M106 135h1v1h-1M255 135h1v1h-1M410 135h1v1h-1M501 135h1v1h-1M137 136h1v1h-1M147 136h1v1h-1M245 136h1v1h-1M273 136h1v1h-1M307 136h1v1h-1M333 136h1v1h-1M513 136h1v1h-1M96 137h1v1h-1M279 137h1v1h-1M447 137h1v1h-1M564 137h1v1h-1M215 138h1v1h-1M369 138h1v1h-1M380 138h1v1h-1M90 139h1v1h-1M117 139h1v1h-1M126 139h1v1h-1M268 139h1v1h-1M250 140h1v1h-1M409 140h1v1h-1M497 140h1v1h-1M168 141h1v1h-1M212 141h1v1h-1M218 141h1v1h-1M239 141h1v1h-1M287 141h1v1h-1M136 142h1v1h-1M166 142h1v1h-1M468 142h1v1h-1M487 142h1v1h-1M597 142h1v1h-1M88 143h1v1h-1M195 143h1v1h-1M292 143h1v1h-1M393 144h1v1h-1M534 144h1v1h-1M105 145h1v1h-1M279 145h1v1h-1M495 145h1v1h-1M98 146h1v1h-1M112 146h1v1h-1M120 146h1v1h-1M130 146h1v1h-1M159 147h1v1h-1M196 147h1v1h-1M225 147h1v1h-1M273 147h1v1h-1M494 147h1v1h-1M198 148h1v1h-1M221 148h1v1h-1M214 149h1v1h-1M127 150h1v1h-1M317 150h1v1h-1M453 150h1v1h-1M162 152h1v1h-1M166 152h1v1h-1M330 152h1v1h-1M499 152h1v1h-1M72 153h1v1h-1M134 153h1v1h-1M144 153h1v1h-1M156 153h1v1h-1M280 153h1v1h-1M284 153h1v1h-1M402 153h1v1h-1M457 153h1v1h-1M335 154h1v1h-1M217 155h1v1h-1M343 155h1v1h-1M471 155h1v1h-1M197 156h1v1h-1M198 156h1v1h-1M527 156h1v1h-1M546 156h1v1h-1M590 156h1v1h-1M422 157h1v1h-1M72 158h1v1h-1M104 158h1v1h-1M165 158h1v1h-1M191 158h1v1h-1M198 158h1v1h-1M327 158h1v1h-1M199 159h1v1h-1M320 159h1v1h-1M92 161h1v1h-1M117 161h1v1h-1M152 161h1v1h-1M569 161h1v1h-1M295 163h1v1h-1M299 163h1v1h-1M485 163h1v1h-1M119 164h1v1h-1M156 164h1v1h-1M176 164h1v1h-1M218 164h1v1h-1M298 164h1v1h-1M90 165h1v1h-1M138 165h1v1h-1M333 165h1v1h-1M409 165h1v1h-1M360 166h1v1h-1M563 166h1v1h-1M603 166h1v1h-1M606 166h1v1h-1M144 167h1v1h-1M175 167h1v1h-1M194 167h1v1h-1M282 167h1v1h-1M308 167h1v1h-1M155 168h1v1h-1M446 168h1v1h-1M88 169h1v1h-1M90 169h1v1h-1M301 169h1v1h-1M394 169h1v1h-1M442 169h1v1h-1M534 169h1v1h-1M105 170h1v1h-1M152 170h1v1h-1M183 170h1v1h-1M91 171h1v1h-1M98 171h1v1h-1M105 171h1v1h-1M144 171h1v1h-1M183 171h1v1h-1M258 171h1v1h-1M405 171h1v1h-1M89 172h1v1h-1M90 172h1v1h-1M327 172h1v1h-1M434 172h1v1h-1M180 173h1v1h-1M319 173h1v1h-1M324 173h1v1h-1M370 173h1v1h-1M429 173h1v1h-1M450 173h1v1h-1M132 174h1v1h-1M241 174h1v1h-1M254 174h1v1h-1M364 174h1v1h-1M435 174h1v1h-1M453 174h1v1h-1M473 174h1v1h-1M180 175h1v1h-1M242 175h1v1h-1M317 175h1v1h-1M376 175h1v1h-1M421 175h1v1h-1M347 176h1v1h-1M75 177h1v1h-1M123 177h1v1h-1M332 177h1v1h-1M455 177h1v1h-1M94 178h1v1h-1M129 178h1v1h-1M150 178h1v1h-1M201 178h1v1h-1M515 178h1v1h-1M75 179h1v1h-1M383 179h1v1h-1M431 179h1v1h-1M477 179h1v1h-1M196 180h1v1h-1M376 180h1v1h-1M382 180h1v1h-1M156 181h1v1h-1M249 181h1v1h-1M275 181h1v1h-1M69 182h1v1h-1M88 182h1v1h-1M121 182h1v1h-1M258 182h1v1h-1M573 182h1v1h-1M218 183h1v1h-1M277 183h1v1h-1M320 183h1v1h-1M356 183h1v1h-1M536 183h1v1h-1M547 183h1v1h-1M88 184h1v1h-1M193 184h1v1h-1M199 184h1v1h-1M342 184h1v1h-1M363 184h1v1h-1M100 185h1v1h-1M113 185h1v1h-1M116 185h1v1h-1M190 185h1v1h-1M248 185h1v1h-1M94 186h1v1h-1M447 186h1v1h-1M588 186h1v1h-1M214 187h1v1h-1M272 187h1v1h-1M351 187h1v1h-1M488 187h1v1h-1M120 188h1v1h-1M129 188h1v1h-1M138 188h1v1h-1M217 188h1v1h-1M362 188h1v1h-1M426 188h1v1h-1M538 188h1v1h-1M110 189h1v1h-1M141 189h1v1h-1M137 190h1v1h-1M245 190h1v1h-1M374 190h1v1h-1M522 190h1v1h-1M226 191h1v1h-1M307 191h1v1h-1M438 191h1v1h-1M158 192h1v1h-1M239 192h1v1h-1M269 192h1v1h-1M316 192h1v1h-1M408 192h1v1h-1M490 192h1v1h-1M112 193h1v1h-1M493 193h1v1h-1M595 193h1v1h-1M300 194h1v1h-1M375 194h1v1h-1M407 194h1v1h-1M357 195h1v1h-1M73 196h1v1h-1M171 196h1v1h-1M269 196h1v1h-1M320 196h1v1h-1M354 196h1v1h-1M397 196h1v1h-1M137 197h1v1h-1M184 197h1v1h-1M211 197h1v1h-1M441 197h1v1h-1M502 197h1v1h-1M87 198h1v1h-1M238 198h1v1h-1M308 198h1v1h-1M377 198h1v1h-1M414 198h1v1h-1M454 198h1v1h-1M494 198h1v1h-1M91 199h1v1h-1M200 199h1v1h-1M497 199h1v1h-1M593 199h1v1h-1M116 200h1v1h-1M151 200h1v1h-1M295 200h1v1h-1M448 200h1v1h-1M454 200h1v1h-1M580 200h1v1h-1M98 201h1v1h-1M124 201h1v1h-1M489 201h1v1h-1M110 202h1v1h-1M206 202h1v1h-1M553 202h1v1h-1M182 203h1v1h-1M228 203h1v1h-1M299 203h1v1h-1M357 203h1v1h-1M369 203h1v1h-1M531 203h1v1h-1M117 204h1v1h-1M323 204h1v1h-1M349 204h1v1h-1M315 205h1v1h-1M220 206h1v1h-1M546 206h1v1h-1M189 207h1v1h-1M245 207h1v1h-1M280 207h1v1h-1M413 207h1v1h-1M170 208h1v1h-1M208 208h1v1h-1M267 208h1v1h-1M402 208h1v1h-1M485 208h1v1h-1M494 208h1v1h-1M564 208h1v1h-1M107 209h1v1h-1M114 209h1v1h-1M361 209h1v1h-1M464 209h1v1h-1M249 210h1v1h-1M297 210h1v1h-1M573 210h1v1h-1M90 211h1v1h-1M237 211h1v1h-1M314 211h1v1h-1M320 211h1v1h-1M103 212h1v1h-1M155 212h1v1h-1M205 212h1v1h-1M232 212h1v1h-1M135 213h1v1h-1M276 213h1v1h-1M489 213h1v1h-1M543 213h1v1h-1M115 214h1v1h-1M222 214h1v1h-1M295 214h1v1h-1M309 214h1v1h-1M311 214h1v1h-1M503 214h1v1h-1M282 215h1v1h-1M443 215h1v1h-1M140 216h1v1h-1M161 216h1v1h-1M224 216h1v1h-1M326 216h1v1h-1M355 216h1v1h-1M396 216h1v1h-1M418 216h1v1h-1M500 216h1v1h-1M565 216h1v1h-1M79 217h1v1h-1M104 217h1v1h-1M361 217h1v1h-1M449 217h1v1h-1M163 218h1v1h-1M188 218h1v1h-1M243 218h1v1h-1M276 218h1v1h-1M300 218h1v1h-1M569 218h1v1h-1M604 218h1v1h-1M166 219h1v1h-1M175 219h1v1h-1M211 219h1v1h-1M449 219h1v1h-1M584 219h1v1h-1M83 220h1v1h-1M157 220h1v1h-1M190 220h1v1h-1M252 220h1v1h-1M313 220h1v1h-1M364 220h1v1h-1M474 220h1v1h-1M505 220h1v1h-1M72 221h1v1h-1M102 221h1v1h-1M223 221h1v1h-1M277 221h1v1h-1M108 222h1v1h-1M232 222h1v1h-1M541 222h1v1h-1M575 222h1v1h-1M152 223h1v1h-1M168 223h1v1h-1M218 223h1v1h-1M256 223h1v1h-1M590 223h1v1h-1M597 223h1v1h-1M153 224h1v1h-1M246 224h1v1h-1M346 224h1v1h-1M471 225h1v1h-1M558 225h1v1h-1M118 226h1v1h-1M144 226h1v1h-1M218 226h1v1h-1M276 226h1v1h-1M310 226h1v1h-1M486 226h1v1h-1M598 226h1v1h-1M135 227h1v1h-1M182 227h1v1h-1M183 227h1v1h-1M601 227h1v1h-1M606 227h1v1h-1M71 228h1v1h-1M196 228h1v1h-1M241 228h1v1h-1M108 229h1v1h-1M474 229h1v1h-1M522 229h1v1h-1M115 230h1v1h-1M221 230h1v1h-1M512 230h1v1h-1M292 231h1v1h-1M327 231h1v1h-1M94 232h1v1h-1M107 232h1v1h-1M176 232h1v1h-1M169 233h1v1h-1M174 233h1v1h-1M341 233h1v1h-1M139 234h1v1h-1M244 234h1v1h-1M251 234h1v1h-1M317 234h1v1h-1M324 234h1v1h-1M326 234h1v1h-1M391 234h1v1h-1M453 234h1v1h-1M487 234h1v1h-1M533 234h1v1h-1M116 235h1v1h-1M140 235h1v1h-1M167 235h1v1h-1M382 235h1v1h-1M494 235h1v1h-1M70 236h1v1h-1M106 236h1v1h-1M458 236h1v1h-1M474 236h1v1h-1M528 236h1v1h-1M280 237h1v1h-1M380 237h1v1h-1M77 238h1v1h-1M205 238h1v1h-1M318 238h1v1h-1M388 238h1v1h-1M88 239h1v1h-1M99 239h1v1h-1M151 239h1v1h-1M342 239h1v1h-1M353 239h1v1h-1M360 239h1v1h-1M112 240h1v1h-1M440 240h1v1h-1M606 240h1v1h-1M278 241h1v1h-1M290 241h1v1h-1M308 241h1v1h-1M607 241h1v1h-1M119 242h1v1h-1M148 242h1v1h-1M335 242h1v1h-1M400 242h1v1h-1M250 243h1v1h-1M363 243h1v1h-1M587 243h1v1h-1M155 244h1v1h-1M191 244h1v1h-1M272 244h1v1h-1M497 244h1v1h-1M502 244h1v1h-1M222 245h1v1h-1M257 245h1v1h-1M273 245h1v1h-1M80 246h1v1h-1M91 246h1v1h-1M130 246h1v1h-1M141 246h1v1h-1M143 246h1v1h-1M210 246h1v1h-1M395 246h1v1h-1M585 246h1v1h-1M176 247h1v1h-1M216 247h1v1h-1M331 247h1v1h-1M336 247h1v1h-1M465 247h1v1h-1M467 247h1v1h-1M529 247h1v1h-1M87 248h1v1h-1M156 248h1v1h-1M266 248h1v1h-1M271 248h1v1h-1M487 248h1v1h-1M572 248h1v1h-1M595 248h1v1h-1M599 248h1v1h-1M168 249h1v1h-1M420 249h1v1h-1M336 250h1v1h-1M301 251h1v1h-1M397 251h1v1h-1M411 251h1v1h-1M413 251h1v1h-1M496 251h1v1h-1M97 252h1v1h-1M207 252h1v1h-1M277 252h1v1h-1M365 252h1v1h-1M481 252h1v1h-1M118 253h1v1h-1M127 253h1v1h-1M128 253h1v1h-1M145 253h1v1h-1M146 253h1v1h-1M358 253h1v1h-1M466 253h1v1h-1M578 253h1v1h-1M75 254h1v1h-1M260 254h1v1h-1M296 254h1v1h-1M191 255h1v1h-1M251 255h1v1h-1M272 255h1v1h-1M318 255h1v1h-1M439 255h1v1h-1M158 256h1v1h-1M237 256h1v1h-1M247 256h1v1h-1M320 256h1v1h-1M415 256h1v1h-1M475 256h1v1h-1M162 257h1v1h-1M289 257h1v1h-1M445 257h1v1h-1M502 257h1v1h-1M531 257h1v1h-1M78 258h1v1h-1M94 258h1v1h-1M94 258h1v1h-1M420 258h1v1h-1M200 259h1v1h-1M322 259h1v1h-1M346 259h1v1h-1M87 260h1v1h-1M111 260h1v1h-1M224 260h1v1h-1M104 261h1v1h-1M114 261h1v1h-1M131 261h1v1h-1M174 261h1v1h-1M216 261h1v1h-1M219 261h1v1h-1M388 261h1v1h-1M600 261h1v1h-1M610 261h1v1h-1M97 262h1v1h-1M97 262h1v1h-1M102 262h1v1h-1M104 262h1v1h-1M132 262h1v1h-1M404 262h1v1h-1M475 262h1v1h-1M570 262h1v1h-1M75 263h1v1h-1M103 263h1v1h-1M107 263h1v1h-1M117 263h1v1h-1M165 263h1v1h-1M256 263h1v1h-1M233 264h1v1h-1M317 264h1v1h-1M371 264h1v1h-1M540 264h1v1h-1M546 264h1v1h-1M117 265h1v1h-1M201 265h1v1h-1M410 265h1v1h-1M574 265h1v1h-1M90 266h1v1h-1M100 266h1v1h-1M139 266h1v1h-1M191 266h1v1h-1M321 266h1v1h-1M330 266h1v1h-1M471 266h1v1h-1M166 267h1v1h-1M269 267h1v1h-1M105 268h1v1h-1M230 268h1v1h-1M361 268h1v1h-1M254 269h1v1h-1M425 269h1v1h-1M99 270h1v1h-1M168 270h1v1h-1M344 270h1v1h-1M490 270h1v1h-1M105 271h1v1h-1M201 271h1v1h-1M254 271h1v1h-1M258 271h1v1h-1M353 271h1v1h-1M472 271h1v1h-1M197 272h1v1h-1M214 272h1v1h-1M275 272h1v1h-1M308 272h1v1h-1M313 272h1v1h-1M347 272h1v1h-1M596 272h1v1h-1M100 273h1v1h-1M248 273h1v1h-1M251 273h1v1h-1M280 273h1v1h-1M391 273h1v1h-1M458 273h1v1h-1M201 274h1v1h-1M208 274h1v1h-1M229 274h1v1h-1M254 274h1v1h-1M360 274h1v1h-1M418 274h1v1h-1M163 275h1v1h-1M289 275h1v1h-1M307 275h1v1h-1M374 275h1v1h-1M295 276h1v1h-1M564 276h1v1h-1M332 277h1v1h-1M373 277h1v1h-1M284 278h1v1h-1M540 278h1v1h-1M573 278h1v1h-1M76 279h1v1h-1M141 279h1v1h-1M213 279h1v1h-1M98 280h1v1h-1M175 280h1v1h-1M260 280h1v1h-1M377 280h1v1h-1M268 281h1v1h-1M301 281h1v1h-1M188 282h1v1h-1M292 282h1v1h-1M378 282h1v1h-1M484 282h1v1h-1M537 282h1v1h-1M85 283h1v1h-1M92 283h1v1h-1M104 283h1v1h-1M222 283h1v1h-1M368 283h1v1h-1M467 283h1v1h-1M562 283h1v1h-1M82 284h1v1h-1M103 284h1v1h-1M247 284h1v1h-1M318 284h1v1h-1M406 284h1v1h-1M534 284h1v1h-1M155 285h1v1h-1M175 285h1v1h-1M194 285h1v1h-1M227 285h1v1h-1M270 285h1v1h-1M302 285h1v1h-1M403 285h1v1h-1M82 286h1v1h-1M118 286h1v1h-1M133 286h1v1h-1M153 286h1v1h-1M228 286h1v1h-1M260 286h1v1h-1M320 286h1v1h-1M352 286h1v1h-1M360 286h1v1h-1M400 286h1v1h-1M545 286h1v1h-1M124 287h1v1h-1M139 287h1v1h-1M273 287h1v1h-1M553 287h1v1h-1M595 287h1v1h-1M90 288h1v1h-1M187 288h1v1h-1M356 288h1v1h-1M401 288h1v1h-1M500 288h1v1h-1M111 289h1v1h-1M255 289h1v1h-1M300 289h1v1h-1M318 289h1v1h-1M384 289h1v1h-1M419 289h1v1h-1M483 289h1v1h-1M531 289h1v1h-1M72 290h1v1h-1M76 290h1v1h-1M147 290h1v1h-1M197 290h1v1h-1M233 290h1v1h-1M432 290h1v1h-1M109 291h1v1h-1M122 291h1v1h-1M155 291h1v1h-1M184 291h1v1h-1M371 291h1v1h-1M423 291h1v1h-1M574 291h1v1h-1M590 291h1v1h-1M80 292h1v1h-1M121 292h1v1h-1M178 292h1v1h-1M401 292h1v1h-1M586 292h1v1h-1M128 293h1v1h-1M134 293h1v1h-1M158 293h1v1h-1M186 293h1v1h-1M208 293h1v1h-1M241 293h1v1h-1M94 295h1v1h-1M103 295h1v1h-1M147 295h1v1h-1M178 295h1v1h-1M247 295h1v1h-1M311 295h1v1h-1M73 296h1v1h-1M96 296h1v1h-1M108 296h1v1h-1M159 296h1v1h-1M233 296h1v1h-1M237 296h1v1h-1M259 296h1v1h-1M562 296h1v1h-1M189 297h1v1h-1M195 297h1v1h-1M297 297h1v1h-1M303 297h1v1h-1M324 297h1v1h-1M597 297h1v1h-1M73 298h1v1h-1M101 298h1v1h-1M115 298h1v1h-1M168 298h1v1h-1M211 298h1v1h-1M448 298h1v1h-1M449 298h1v1h-1M156 299h1v1h-1M208 299h1v1h-1M432 299h1v1h-1M489 299h1v1h-1M536 299h1v1h-1M108 300h1v1h-1M159 300h1v1h-1M415 300h1v1h-1M511 300h1v1h-1M95 301h1v1h-1M105 301h1v1h-1M125 301h1v1h-1M292 301h1v1h-1M294 301h1v1h-1M301 301h1v1h-1M148 302h1v1h-1M163 302h1v1h-1M235 302h1v1h-1M460 302h1v1h-1M485 302h1v1h-1M138 303h1v1h-1M151 303h1v1h-1M172 303h1v1h-1M243 303h1v1h-1M271 303h1v1h-1M341 303h1v1h-1M530 303h1v1h-1M606 303h1v1h-1M376 304h1v1h-1M379 304h1v1h-1M466 304h1v1h-1M521 304h1v1h-1M224 305h1v1h-1M239 305h1v1h-1M292 305h1v1h-1M351 305h1v1h-1M450 305h1v1h-1M504 305h1v1h-1M166 306h1v1h-1M180 306h1v1h-1M315 306h1v1h-1M327 306h1v1h-1M441 306h1v1h-1M494 306h1v1h-1M93 307h1v1h-1M217 307h1v1h-1M315 307h1v1h-1M101 308h1v1h-1M119 308h1v1h-1M202 308h1v1h-1M317 308h1v1h-1M399 308h1v1h-1M102 309h1v1h-1M197 309h1v1h-1M214 309h1v1h-1M296 309h1v1h-1M439 309h1v1h-1M514 309h1v1h-1M122 310h1v1h-1M137 310h1v1h-1M187 310h1v1h-1M272 310h1v1h-1M129 311h1v1h-1M189 311h1v1h-1M330 311h1v1h-1M363 311h1v1h-1M364 311h1v1h-1M446 311h1v1h-1M595 311h1v1h-1M277 312h1v1h-1M307 312h1v1h-1M147 313h1v1h-1M243 313h1v1h-1M382 313h1v1h-1M405 313h1v1h-1M237 314h1v1h-1M261 314h1v1h-1M298 314h1v1h-1M329 314h1v1h-1M341 314h1v1h-1M412 314h1v1h-1M534 314h1v1h-1M122 315h1v1h-1M129 315h1v1h-1M489 316h1v1h-1M597 316h1v1h-1M150 317h1v1h-1M262 317h1v1h-1M283 317h1v1h-1M142 318h1v1h-1M356 318h1v1h-1M366 318h1v1h-1M122 319h1v1h-1M130 319h1v1h-1M158 319h1v1h-1M320 319h1v1h-1M342 319h1v1h-1M605 319h1v1h-1M568 320h1v1h-1M590 320h1v1h-1M116 321h1v1h-1M209 321h1v1h-1M411 321h1v1h-1M413 321h1v1h-1M445 321h1v1h-1M102 322h1v1h-1M195 322h1v1h-1M196 322h1v1h-1M226 322h1v1h-1M387 322h1v1h-1M441 322h1v1h-1M449 322h1v1h-1M459 322h1v1h-1M570 322h1v1h-1M77 323h1v1h-1M122 323h1v1h-1M170 323h1v1h-1M228 323h1v1h-1M361 323h1v1h-1M438 323h1v1h-1M87 324h1v1h-1M114 324h1v1h-1M124 324h1v1h-1M241 324h1v1h-1M384 324h1v1h-1M471 324h1v1h-1M173 325h1v1h-1M239 325h1v1h-1M293 325h1v1h-1M311 325h1v1h-1M162 326h1v1h-1M456 326h1v1h-1M485 326h1v1h-1M366 327h1v1h-1M110 328h1v1h-1M114 328h1v1h-1M338 328h1v1h-1M481 328h1v1h-1M533 328h1v1h-1M605 328h1v1h-1M81 329h1v1h-1M108 329h1v1h-1M280 329h1v1h-1M317 329h1v1h-1M514 329h1v1h-1M96 330h1v1h-1M97 330h1v1h-1M101 331h1v1h-1M226 331h1v1h-1M344 332h1v1h-1M376 332h1v1h-1M419 332h1v1h-1M473 332h1v1h-1M504 332h1v1h-1M546 332h1v1h-1M429 333h1v1h-1M443 333h1v1h-1M501 333h1v1h-1M197 334h1v1h-1M269 334h1v1h-1M448 334h1v1h-1M552 334h1v1h-1M163 335h1v1h-1M167 335h1v1h-1M528 335h1v1h-1M585 335h1v1h-1M72 336h1v1h-1M86 336h1v1h-1M94 336h1v1h-1M231 336h1v1h-1M268 336h1v1h-1M350 336h1v1h-1M359 336h1v1h-1M415 336h1v1h-1M113 337h1v1h-1M139 337h1v1h-1M244 337h1v1h-1M581 337h1v1h-1M114 338h1v1h-1M122 338h1v1h-1M141 338h1v1h-1M314 338h1v1h-1M426 338h1v1h-1M510 338h1v1h-1M82 339h1v1h-1M102 339h1v1h-1M145 339h1v1h-1M146 339h1v1h-1M241 339h1v1h-1M453 339h1v1h-1M106 340h1v1h-1M217 340h1v1h-1M237 340h1v1h-1M270 340h1v1h-1M309 340h1v1h-1M345 340h1v1h-1M373 340h1v1h-1M573 340h1v1h-1M229 341h1v1h-1M289 341h1v1h-1M298 341h1v1h-1M409 341h1v1h-1M543 341h1v1h-1M91 342h1v1h-1M231 342h1v1h-1M440 342h1v1h-1M596 342h1v1h-1M190 343h1v1h-1M291 343h1v1h-1M368 343h1v1h-1M158 344h1v1h-1M287 344h1v1h-1M380 344h1v1h-1M286 345h1v1h-1M582 345h1v1h-1M588 345h1v1h-1M93 346h1v1h-1M536 347h1v1h-1M257 348h1v1h-1M346 348h1v1h-1M497 348h1v1h-1M551 348h1v1h-1M83 349h1v1h-1M133 349h1v1h-1M180 349h1v1h-1M188 349h1v1h-1M229 349h1v1h-1M545 349h1v1h-1M277 350h1v1h-1M245 351h1v1h-1M361 351h1v1h-1M377 351h1v1h-1M393 351h1v1h-1M435 351h1v1h-1M494 351h1v1h-1M170 352h1v1h-1M530 352h1v1h-1M118 353h1v1h-1M185 353h1v1h-1M227 353h1v1h-1M428 353h1v1h-1M437 353h1v1h-1M158 354h1v1h-1M160 354h1v1h-1M269 354h1v1h-1M271 354h1v1h-1M470 354h1v1h-1M583 354h1v1h-1M216 355h1v1h-1M494 355h1v1h-1M110 356h1v1h-1M158 356h1v1h-1M214 356h1v1h-1M294 356h1v1h-1M429 356h1v1h-1M233 357h1v1h-1M353 357h1v1h-1M365 357h1v1h-1M400 357h1v1h-1M547 357h1v1h-1M553 357h1v1h-1M562 357h1v1h-1M88 358h1v1h-1M140 358h1v1h-1M185 358h1v1h-1M224 358h1v1h-1M462 358h1v1h-1M282 359h1v1h-1M321 359h1v1h-1M389 359h1v1h-1M392 359h1v1h-1M407 359h1v1h-1M122 360h1v1h-1M279 360h1v1h-1M425 360h1v1h-1M73 361h1v1h-1M156 361h1v1h-1M286 361h1v1h-1M343 361h1v1h-1M345 361h1v1h-1M158 362h1v1h-1M182 362h1v1h-1M279 362h1v1h-1M292 362h1v1h-1M609 362h1v1h-1M185 363h1v1h-1M234 363h1v1h-1M112 364h1v1h-1M95 365h1v1h-1M109 365h1v1h-1M158 365h1v1h-1M166 365h1v1h-1M254 365h1v1h-1M279 365h1v1h-1M387 365h1v1h-1M559 365h1v1h-1M141 366h1v1h-1M143 366h1v1h-1M273 366h1v1h-1M347 366h1v1h-1M98 367h1v1h-1M102 367h1v1h-1M222 367h1v1h-1M241 367h1v1h-1M358 367h1v1h-1M407 367h1v1h-1M451 367h1v1h-1M527 367h1v1h-1M116 368h1v1h-1M164 368h1v1h-1M193 369h1v1h-1M208 369h1v1h-1M306 369h1v1h-1M394 369h1v1h-1M265 370h1v1h-1M382 370h1v1h-1M137 371h1v1h-1M178 371h1v1h-1M221 371h1v1h-1M303 371h1v1h-1M340 371h1v1h-1M385 371h1v1h-1M177 372h1v1h-1M259 372h1v1h-1M277 372h1v1h-1M348 372h1v1h-1M436 372h1v1h-1M353 373h1v1h-1M357 373h1v1h-1M384 373h1v1h-1M176 374h1v1h-1M294 374h1v1h-1M509 374h1v1h-1M138 375h1v1h-1M156 375h1v1h-1M171 375h1v1h-1M182 375h1v1h-1M230 375h1v1h-1M244 375h1v1h-1M410 375h1v1h-1M411 375h1v1h-1M428 375h1v1h-1M104 376h1v1h-1M134 376h1v1h-1M215 376h1v1h-1M263 376h1v1h-1M304 376h1v1h-1M454 376h1v1h-1M110 377h1v1h-1M128 377h1v1h-1M255 377h1v1h-1M101 378h1v1h-1M223 378h1v1h-1M415 378h1v1h-1M178 379h1v1h-1M264 379h1v1h-1M330 379h1v1h-1M545 379h1v1h-1M552 379h1v1h-1M561 379h1v1h-1M269 380h1v1h-1M305 380h1v1h-1M313 380h1v1h-1M337 380h1v1h-1M416 380h1v1h-1M586 380h1v1h-1M88 381h1v1h-1M141 381h1v1h-1M150 381h1v1h-1M263 381h1v1h-1M265 381h1v1h-1M309 381h1v1h-1M579 381h1v1h-1M72 382h1v1h-1M75 382h1v1h-1M185 382h1v1h-1M197 382h1v1h-1M386 382h1v1h-1M545 382h1v1h-1M111 383h1v1h-1M146 383h1v1h-1M225 383h1v1h-1M263 383h1v1h-1M305 383h1v1h-1M361 383h1v1h-1M361 383h1v1h-1M398 383h1v1h-1M461 383h1v1h-1M510 383h1v1h-1M516 383h1v1h-1M528 383h1v1h-1M189 384h1v1h-1M538 384h1v1h-1M547 384h1v1h-1M596 384h1v1h-1M93 385h1v1h-1M142 385h1v1h-1M205 385h1v1h-1M232 385h1v1h-1M242 385h1v1h-1M298 385h1v1h-1M308 385h1v1h-1M315 385h1v1h-1M453 385h1v1h-1M605 385h1v1h-1M103 386h1v1h-1M133 386h1v1h-1M176 386h1v1h-1M408 386h1v1h-1M102 387h1v1h-1M143 387h1v1h-1M191 387h1v1h-1M217 387h1v1h-1M252 387h1v1h-1M275 387h1v1h-1M319 387h1v1h-1M517 387h1v1h-1M577 387h1v1h-1M588 387h1v1h-1M87 388h1v1h-1M252 388h1v1h-1M355 388h1v1h-1M542 388h1v1h-1M80 389h1v1h-1M96 389h1v1h-1M203 389h1v1h-1M277 389h1v1h-1M412 389h1v1h-1M469 389h1v1h-1M120 390h1v1h-1M168 390h1v1h-1M230 390h1v1h-1M244 390h1v1h-1M300 390h1v1h-1M484 390h1v1h-1M543 390h1v1h-1M79 391h1v1h-1M127 391h1v1h-1M165 391h1v1h-1M193 391h1v1h-1M282 391h1v1h-1M331 391h1v1h-1M432 391h1v1h-1M110 392h1v1h-1M124 392h1v1h-1M548 392h1v1h-1M109 393h1v1h-1M146 393h1v1h-1M187 393h1v1h-1M528 393h1v1h-1M581 393h1v1h-1M116 394h1v1h-1M449 394h1v1h-1M153 395h1v1h-1M154 395h1v1h-1M256 395h1v1h-1M293 395h1v1h-1M236 396h1v1h-1M404 396h1v1h-1M80 397h1v1h-1M128 397h1v1h-1M146 397h1v1h-1M183 397h1v1h-1M185 397h1v1h-1M221 397h1v1h-1M221 397h1v1h-1M404 397h1v1h-1M608 397h1v1h-1M116 398h1v1h-1M221 398h1v1h-1M286 398h1v1h-1M462 398h1v1h-1M104 399h1v1h-1M301 399h1v1h-1M344 399h1v1h-1M422 399h1v1h-1M448 399h1v1h-1M560 399h1v1h-1M100 400h1v1h-1M108 400h1v1h-1M141 400h1v1h-1M490 400h1v1h-1M523 400h1v1h-1M123 401h1v1h-1M139 401h1v1h-1M194 401h1v1h-1M234 401h1v1h-1M404 401h1v1h-1M423 401h1v1h-1M73 402h1v1h-1M139 402h1v1h-1M241 402h1v1h-1M365 402h1v1h-1M388 402h1v1h-1M475 402h1v1h-1M127 403h1v1h-1M143 403h1v1h-1M323 403h1v1h-1M386 403h1v1h-1M459 403h1v1h-1M477 403h1v1h-1M73 404h1v1h-1M291 404h1v1h-1M569 404h1v1h-1M79 405h1v1h-1M232 405h1v1h-1M174 406h1v1h-1M238 406h1v1h-1M436 406h1v1h-1M137 407h1v1h-1M226 407h1v1h-1M294 408h1v1h-1M409 408h1v1h-1M471 408h1v1h-1M239 409h1v1h-1M254 409h1v1h-1M416 409h1v1h-1M171 411h1v1h-1M173 411h1v1h-1M320 411h1v1h-1M484 411h1v1h-1M94 412h1v1h-1M115 412h1v1h-1M129 412h1v1h-1M333 412h1v1h-1M351 412h1v1h-1M504 412h1v1h-1M91 413h1v1h-1M154 413h1v1h-1M290 413h1v1h-1M337 413h1v1h-1M434 413h1v1h-1M446 413h1v1h-1M548 413h1v1h-1M185 414h1v1h-1M258 414h1v1h-1M275 414h1v1h-1M461 414h1v1h-1M504 414h1v1h-1M184 415h1v1h-1M206 416h1v1h-1M210 416h1v1h-1M237 416h1v1h-1M329 416h1v1h-1M118 417h1v1h-1M132 417h1v1h-1M192 417h1v1h-1M348 417h1v1h-1M83 418h1v1h-1M115 418h1v1h-1M123 418h1v1h-1M434 418h1v1h-1M443 418h1v1h-1M102 419h1v1h-1M170 419h1v1h-1M246 419h1v1h-1M304 419h1v1h-1M318 419h1v1h-1M454 419h1v1h-1M112 420h1v1h-1M196 420h1v1h-1M212 420h1v1h-1M428 420h1v1h-1M473 421h1v1h-1M474 421h1v1h-1M258 423h1v1h-1M284 423h1v1h-1M485 423h1v1h-1M319 424h1v1h-1M346 424h1v1h-1M96 425h1v1h-1M103 425h1v1h-1M124 425h1v1h-1M140 425h1v1h-1M173 425h1v1h-1M213 425h1v1h-1M261 425h1v1h-1M288 425h1v1h-1M208 426h1v1h-1M273 426h1v1h-1M278 426h1v1h-1M132 427h1v1h-1M215 427h1v1h-1M294 427h1v1h-1M188 428h1v1h-1M311 428h1v1h-1M431 428h1v1h-1M227 429h1v1h-1M331 429h1v1h-1M344 429h1v1h-1M349 429h1v1h-1M178 430h1v1h-1M368 430h1v1h-1M494 430h1v1h-1M138 431h1v1h-1M150 431h1v1h-1M207 431h1v1h-1M220 431h1v1h-1M327 431h1v1h-1M405 431h1v1h-1M511 431h1v1h-1M528 431h1v1h-1M97 432h1v1h-1M179 432h1v1h-1M363 432h1v1h-1M602 432h1v1h-1M273 433h1v1h-1M96 434h1v1h-1M135 434h1v1h-1M385 434h1v1h-1M385 434h1v1h-1M408 434h1v1h-1M496 434h1v1h-1M557 434h1v1h-1M378 435h1v1h-1M532 435h1v1h-1M111 436h1v1h-1M205 436h1v1h-1M232 436h1v1h-1M101 437h1v1h-1M149 437h1v1h-1M197 437h1v1h-1M311 437h1v1h-1M387 437h1v1h-1M420 437h1v1h-1M105 438h1v1h-1M248 438h1v1h-1M574 438h1v1h-1M105 439h1v1h-1M147 439h1v1h-1M159 439h1v1h-1M351 439h1v1h-1M378 439h1v1h-1M435 439h1v1h-1M137 440h1v1h-1M158 440h1v1h-1M474 440h1v1h-1M532 440h1v1h-1M265 441h1v1h-1M301 441h1v1h-1M345 441h1v1h-1M560 441h1v1h-1M434 442h1v1h-1M259 443h1v1h-1M341 443h1v1h-1M159 444h1v1h-1M168 444h1v1h-1M191 444h1v1h-1M202 444h1v1h-1M318 444h1v1h-1M522 444h1v1h-1M586 444h1v1h-1M109 445h1v1h-1M111 445h1v1h-1M122 445h1v1h-1M232 445h1v1h-1M452 445h1v1h-1M462 445h1v1h-1M584 445h1v1h-1M315 446h1v1h-1M500 446h1v1h-1M84 447h1v1h-1M450 447h1v1h-1M497 447h1v1h-1M521 447h1v1h-1M148 448h1v1h-1M173 448h1v1h-1M175 448h1v1h-1M210 448h1v1h-1M250 448h1v1h-1M326 448h1v1h-1M353 448h1v1h-1M355 448h1v1h-1M185 449h1v1h-1M290 449h1v1h-1M330 449h1v1h-1M452 449h1v1h-1M506 449h1v1h-1M196 450h1v1h-1M261 450h1v1h-1M318 450h1v1h-1M510 450h1v1h-1M145 451h1v1h-1M488 451h1v1h-1M571 451h1v1h-1M269 452h1v1h-1M519 452h1v1h-1M575 452h1v1h-1M90 453h1v1h-1M287 453h1v1h-1M446 453h1v1h-1M69 454h1v1h-1M90 454h1v1h-1M359 454h1v1h-1M579 454h1v1h-1M175 455h1v1h-1M176 455h1v1h-1M190 455h1v1h-1M194 455h1v1h-1M308 455h1v1h-1M315 455h1v1h-1M344 455h1v1h-1M453 455h1v1h-1M514 455h1v1h-1M537 455h1v1h-1M230 456h1v1h-1M263 456h1v1h-1M325 456h1v1h-1M526 456h1v1h-1M115 457h1v1h-1M162 457h1v1h-1M124 458h1v1h-1M155 458h1v1h-1M163 458h1v1h-1M210 458h1v1h-1M228 458h1v1h-1M257 458h1v1h-1M453 458h1v1h-1M574 458h1v1h-1M76 459h1v1h-1M158 459h1v1h-1M222 459h1v1h-1M254 459h1v1h-1M394 459h1v1h-1M442 459h1v1h-1M565 459h1v1h-1M243 460h1v1h-1M552 460h1v1h-1M584 460h1v1h-1M73 461h1v1h-1M307 461h1v1h-1M341 461h1v1h-1M358 461h1v1h-1M491 461h1v1h-1M87 462h1v1h-1M222 462h1v1h-1M279 462h1v1h-1M303 462h1v1h-1M345 462h1v1h-1M449 462h1v1h-1M474 463h1v1h-1M506 463h1v1h-1M525 463h1v1h-1M551 463h1v1h-1M95 464h1v1h-1M113 464h1v1h-1M156 464h1v1h-1M190 464h1v1h-1M295 464h1v1h-1M316 464h1v1h-1M122 465h1v1h-1M169 465h1v1h-1M192 465h1v1h-1M289 465h1v1h-1M343 465h1v1h-1M459 465h1v1h-1M176 466h1v1h-1M231 466h1v1h-1M265 466h1v1h-1M421 466h1v1h-1M150 467h1v1h-1M341 467h1v1h-1M407 467h1v1h-1M426 467h1v1h-1M167 468h1v1h-1M299 468h1v1h-1M158 469h1v1h-1M287 469h1v1h-1M318 469h1v1h-1M75 470h1v1h-1M161 470h1v1h-1M182 470h1v1h-1M201 470h1v1h-1M325 470h1v1h-1M502 470h1v1h-1M96 471h1v1h-1M257 471h1v1h-1M324 471h1v1h-1M331 471h1v1h-1M456 471h1v1h-1M528 471h1v1h-1M609 471h1v1h-1M162 472h1v1h-1M447 472h1v1h-1M484 472h1v1h-1M547 472h1v1h-1M505 473h1v1h-1M495 474h1v1h-1M571 474h1v1h-1M201 475h1v1h-1M330 475h1v1h-1M386 475h1v1h-1M166 476h1v1h-1M245 476h1v1h-1M409 476h1v1h-1M518 476h1v1h-1M582 476h1v1h-1M267 477h1v1h-1M344 477h1v1h-1M371 477h1v1h-1M76 478h1v1h-1M82 478h1v1h-1M180 478h1v1h-1M184 478h1v1h-1M213 478h1v1h-1M461 478h1v1h-1M145 479h1v1h-1M205 479h1v1h-1M470 479h1v1h-1M567 479h1v1h-1M567 479h1v1h-1M97 480h1v1h-1M157 480h1v1h-1M296 480h1v1h-1M382 480h1v1h-1M567 480h1v1h-1M226 481h1v1h-1M85 482h1v1h-1M94 482h1v1h-1M140 482h1v1h-1M189 482h1v1h-1M266 482h1v1h-1M286 482h1v1h-1M421 482h1v1h-1M156 483h1v1h-1M180 483h1v1h-1M267 483h1v1h-1M208 484h1v1h-1M313 484h1v1h-1M377 484h1v1h-1M387 484h1v1h-1M605 484h1v1h-1M160 485h1v1h-1M351 485h1v1h-1M417 485h1v1h-1M261 486h1v1h-1M272 486h1v1h-1M354 486h1v1h-1M400 486h1v1h-1M475 486h1v1h-1M488 486h1v1h-1M110 487h1v1h-1M110 487h1v1h-1M213 487h1v1h-1M325 487h1v1h-1M358 487h1v1h-1M400 487h1v1h-1M573 487h1v1h-1M584 487h1v1h-1M112 488h1v1h-1M299 488h1v1h-1M438 488h1v1h-1M73 489h1v1h-1M100 489h1v1h-1M189 489h1v1h-1M465 489h1v1h-1M226 490h1v1h-1M252 490h1v1h-1M354 490h1v1h-1M510 490h1v1h-1M100 491h1v1h-1M211 491h1v1h-1M261 491h1v1h-1M330 491h1v1h-1M345 491h1v1h-1M346 491h1v1h-1M391 491h1v1h-1M428 491h1v1h-1M565 491h1v1h-1M295 492h1v1h-1M298 492h1v1h-1M403 492h1v1h-1M432 492h1v1h-1M500 492h1v1h-1M559 492h1v1h-1M94 493h1v1h-1M365 493h1v1h-1M278 494h1v1h-1M572 494h1v1h-1M210 495h1v1h-1M226 495h1v1h-1M231 495h1v1h-1M302 495h1v1h-1M328 495h1v1h-1M365 495h1v1h-1M410 495h1v1h-1M102 496h1v1h-1M148 496h1v1h-1M191 496h1v1h-1M300 496h1v1h-1M355 496h1v1h-1M515 496h1v1h-1M90 497h1v1h-1M98 497h1v1h-1M190 497h1v1h-1M242 497h1v1h-1M308 497h1v1h-1M514 497h1v1h-1M609 497h1v1h-1M113 498h1v1h-1M173 498h1v1h-1M218 498h1v1h-1M525 498h1v1h-1M107 499h1v1h-1M146 499h1v1h-1M163 499h1v1h-1M212 499h1v1h-1M289 499h1v1h-1M433 499h1v1h-1M464 499h1v1h-1M77 500h1v1h-1M106 500h1v1h-1M297 500h1v1h-1M539 500h1v1h-1M555 500h1v1h-1M570 500h1v1h-1M131 501h1v1h-1M250 501h1v1h-1M315 501h1v1h-1M359 501h1v1h-1M588 501h1v1h-1M96 502h1v1h-1M385 502h1v1h-1M459 502h1v1h-1M75 503h1v1h-1M100 503h1v1h-1M128 503h1v1h-1M295 503h1v1h-1M372 503h1v1h-1M118 504h1v1h-1M309 504h1v1h-1M411 504h1v1h-1M435 504h1v1h-1M167 505h1v1h-1M452 505h1v1h-1M486 505h1v1h-1M159 506h1v1h-1M223 506h1v1h-1M505 506h1v1h-1M315 507h1v1h-1M333 507h1v1h-1M348 507h1v1h-1M379 507h1v1h-1M407 507h1v1h-1M69 508h1v1h-1M125 508h1v1h-1M264 508h1v1h-1M306 508h1v1h-1M341 508h1v1h-1M372 508h1v1h-1M401 508h1v1h-1M595 508h1v1h-1M129 509h1v1h-1M268 509h1v1h-1M142 510h1v1h-1M205 510h1v1h-1M335 510h1v1h-1M338 510h1v1h-1M354 510h1v1h-1M461 510h1v1h-1M135 511h1v1h-1M137 511h1v1h-1M150 511h1v1h-1M192 511h1v1h-1M270 511h1v1h-1M310 511h1v1h-1M533 511h1v1h-1M380 512h1v1h-1M158 513h1v1h-1M281 513h1v1h-1M331 513h1v1h-1M403 513h1v1h-1M207 514h1v1h-1M208 514h1v1h-1M237 514h1v1h-1M254 514h1v1h-1M318 514h1v1h-1M518 514h1v1h-1M585 514h1v1h-1M125 515h1v1h-1M213 515h1v1h-1M244 515h1v1h-1M266 515h1v1h-1M362 515h1v1h-1M552 515h1v1h-1M595 515h1v1h-1M71 516h1v1h-1M217 516h1v1h-1M325 516h1v1h-1M331 516h1v1h-1M377 516h1v1h-1M388 516h1v1h-1M435 516h1v1h-1M477 516h1v1h-1M587 516h1v1h-1M193 517h1v1h-1M213 517h1v1h-1M554 517h1v1h-1M202 518h1v1h-1M254 518h1v1h-1M292 518h1v1h-1M382 518h1v1h-1M401 518h1v1h-1M461 518h1v1h-1M531 518h1v1h-1M103 519h1v1h-1M261 519h1v1h-1M273 519h1v1h-1M324 519h1v1h-1M365 519h1v1h-1M426 519h1v1h-1M486 519h1v1h-1M556 519h1v1h-1M161 520h1v1h-1M205 520h1v1h-1M533 520h1v1h-1M260 521h1v1h-1M470 521h1v1h-1M504 521h1v1h-1M505 521h1v1h-1M133 522h1v1h-1M200 522h1v1h-1M267 522h1v1h-1M355 522h1v1h-1M416 522h1v1h-1M86 523h1v1h-1M193 523h1v1h-1M225 523h1v1h-1M273 523h1v1h-1M283 523h1v1h-1M420 523h1v1h-1M78 524h1v1h-1M194 524h1v1h-1M231 524h1v1h-1M236 524h1v1h-1M261 524h1v1h-1M484 524h1v1h-1M500 524h1v1h-1M567 524h1v1h-1M598 524h1v1h-1M96 525h1v1h-1M159 525h1v1h-1M190 525h1v1h-1M265 525h1v1h-1M337 525h1v1h-1M563 525h1v1h-1M102 526h1v1h-1M197 526h1v1h-1M320 526h1v1h-1M102 527h1v1h-1M347 527h1v1h-1M485 527h1v1h-1M489 527h1v1h-1M515 527h1v1h-1M95 528h1v1h-1M315 528h1v1h-1M461 528h1v1h-1M532 528h1v1h-1M567 528h1v1h-1M95 529h1v1h-1M165 529h1v1h-1M183 529h1v1h-1M227 529h1v1h-1M230 529h1v1h-1M315 529h1v1h-1M329 529h1v1h-1M358 529h1v1h-1M409 529h1v1h-1M530 529h1v1h-1M98 530h1v1h-1M135 530h1v1h-1M166 530h1v1h-1M187 530h1v1h-1M195 530h1v1h-1M198 530h1v1h-1M219 530h1v1h-1M221 530h1v1h-1M228 530h1v1h-1M395 530h1v1h-1M572 530h1v1h-1M132 531h1v1h-1M269 531h1v1h-1M104 532h1v1h-1M165 532h1v1h-1M179 532h1v1h-1M278 532h1v1h-1M342 532h1v1h-1M366 532h1v1h-1M439 532h1v1h-1M93 533h1v1h-1M104 533h1v1h-1M111 533h1v1h-1M106 534h1v1h-1M121 534h1v1h-1M140 534h1v1h-1M283 534h1v1h-1M363 534h1v1h-1M387 534h1v1h-1M388 534h1v1h-1M506 534h1v1h-1M544 534h1v1h-1M111 535h1v1h-1M196 535h1v1h-1M208 535h1v1h-1M252 535h1v1h-1M357 535h1v1h-1M364 535h1v1h-1M379 535h1v1h-1M392 535h1v1h-1M588 535h1v1h-1M605 535h1v1h-1M152 536h1v1h-1M289 536h1v1h-1M299 536h1v1h-1M350 536h1v1h-1M372 536h1v1h-1M424 536h1v1h-1M588 536h1v1h-1M139 537h1v1h-1M156 537h1v1h-1M173 537h1v1h-1M178 537h1v1h-1M215 537h1v1h-1M241 537h1v1h-1M287 537h1v1h-1M288 537h1v1h-1M557 537h1v1h-1M88 538h1v1h-1M120 538h1v1h-1M193 538h1v1h-1M290 538h1v1h-1M301 538h1v1h-1M457 538h1v1h-1M529 538h1v1h-1M210 539h1v1h-1M214 539h1v1h-1M189 540h1v1h-1M225 540h1v1h-1M308 540h1v1h-1M391 540h1v1h-1M562 540h1v1h-1M133 541h1v1h-1M76 542h1v1h-1M121 542h1v1h-1M144 542h1v1h-1M170 542h1v1h-1M226 542h1v1h-1M253 542h1v1h-1M145 543h1v1h-1M221 543h1v1h-1M224 543h1v1h-1M306 543h1v1h-1M564 543h1v1h-1M79 544h1v1h-1M243 544h1v1h-1M285 544h1v1h-1M292 544h1v1h-1M315 544h1v1h-1M602 544h1v1h-1M257 545h1v1h-1M504 545h1v1h-1M516 545h1v1h-1M114 546h1v1h-1M183 546h1v1h-1M217 546h1v1h-1M225 546h1v1h-1M333 546h1v1h-1M445 546h1v1h-1M212 547h1v1h-1M293 547h1v1h-1M300 547h1v1h-1M309 547h1v1h-1M476 547h1v1h-1M497 547h1v1h-1M514 547h1v1h-1M606 547h1v1h-1M69 548h1v1h-1M83 548h1v1h-1M158 548h1v1h-1M525 548h1v1h-1M163 549h1v1h-1M167 549h1v1h-1M507 549h1v1h-1M555 549h1v1h-1M95 550h1v1h-1M116 550h1v1h-1M124 550h1v1h-1M144 550h1v1h-1M163 550h1v1h-1M198 550h1v1h-1M372 550h1v1h-1M491 550h1v1h-1M200 551h1v1h-1M127 552h1v1h-1M159 552h1v1h-1M201 552h1v1h-1M232 552h1v1h-1M365 552h1v1h-1M484 552h1v1h-1M542 552h1v1h-1M305 553h1v1h-1M103 554h1v1h-1M271 554h1v1h-1M285 554h1v1h-1M382 554h1v1h-1M428 554h1v1h-1M145 555h1v1h-1M161 555h1v1h-1M317 555h1v1h-1M358 555h1v1h-1M559 555h1v1h-1M117 556h1v1h-1M140 556h1v1h-1M177 556h1v1h-1M207 556h1v1h-1M257 556h1v1h-1M309 556h1v1h-1M589 556h1v1h-1M115 557h1v1h-1M142 557h1v1h-1M258 557h1v1h-1M314 557h1v1h-1M128 558h1v1h-1M142 558h1v1h-1M194 558h1v1h-1M218 558h1v1h-1M427 558h1v1h-1M554 558h1v1h-1M585 558h1v1h-1M460 559h1v1h-1M563 559h1v1h-1M156 560h1v1h-1M243 560h1v1h-1M397 560h1v1h-1M557 560h1v1h-1M98 561h1v1h-1M99 561h1v1h-1M408 561h1v1h-1M469 561h1v1h-1M494 561h1v1h-1M529 561h1v1h-1M425 562h1v1h-1M568 562h1v1h-1M84 563h1v1h-1M113 563h1v1h-1M235 563h1v1h-1M362 563h1v1h-1M362 563h1v1h-1M370 563h1v1h-1M126 564h1v1h-1M151 564h1v1h-1M171 564h1v1h-1M182 564h1v1h-1M313 564h1v1h-1M451 564h1v1h-1M588 564h1v1h-1M604 564h1v1h-1M360 565h1v1h-1M582 565h1v1h-1M80 566h1v1h-1M96 566h1v1h-1M178 566h1v1h-1M288 566h1v1h-1M362 566h1v1h-1M569 566h1v1h-1M149 567h1v1h-1M196 567h1v1h-1M199 567h1v1h-1M215 567h1v1h-1M94 568h1v1h-1M164 568h1v1h-1M216 568h1v1h-1M298 568h1v1h-1M447 568h1v1h-1M452 568h1v1h-1M539 568h1v1h-1M97 569h1v1h-1M345 569h1v1h-1M368 569h1v1h-1M513 569h1v1h-1M546 569h1v1h-1M76 570h1v1h-1M81 570h1v1h-1M234 570h1v1h-1M288 570h1v1h-1M341 570h1v1h-1M357 570h1v1h-1M421 570h1v1h-1M477 570h1v1h-1M151 571h1v1h-1M259 571h1v1h-1M267 571h1v1h-1M93 572h1v1h-1M134 572h1v1h-1M215 572h1v1h-1M260 572h1v1h-1M318 572h1v1h-1M356 572h1v1h-1M536 572h1v1h-1M536 572h1v1h-1M70 573h1v1h-1M112 573h1v1h-1M145 573h1v1h-1M153 573h1v1h-1M528 573h1v1h-1M118 574h1v1h-1M455 574h1v1h-1M256 575h1v1h-1M282 575h1v1h-1M290 575h1v1h-1M363 575h1v1h-1M503 575h1v1h-1M577 575h1v1h-1M584 575h1v1h-1M127 576h1v1h-1M240 576h1v1h-1M328 576h1v1h-1M351 576h1v1h-1M372 576h1v1h-1M484 576h1v1h-1M74 577h1v1h-1M141 577h1v1h-1M160 577h1v1h-1M167 577h1v1h-1M207 577h1v1h-1M235 577h1v1h-1M235 577h1v1h-1M295 577h1v1h-1M378 577h1v1h-1M494 577h1v1h-1M573 577h1v1h-1M74 578h1v1h-1M189 578h1v1h-1M239 578h1v1h-1M309 578h1v1h-1M533 578h1v1h-1M130 579h1v1h-1M148 579h1v1h-1M157 579h1v1h-1M237 579h1v1h-1M272 579h1v1h-1M306 579h1v1h-1M311 579h1v1h-1M323 579h1v1h-1M384 579h1v1h-1M493 579h1v1h-1M607 579h1v1h-1M253 580h1v1h-1M318 580h1v1h-1M495 580h1v1h-1M588 580h1v1h-1M73 581h1v1h-1M158 581h1v1h-1M293 581h1v1h-1M452 581h1v1h-1M534 581h1v1h-1M284 582h1v1h-1M293 582h1v1h-1M402 582h1v1h-1M404 582h1v1h-1M507 582h1v1h-1M70 583h1v1h-1M105 583h1v1h-1M128 583h1v1h-1M156 583h1v1h-1M169 583h1v1h-1M244 583h1v1h-1M325 583h1v1h-1M381 583h1v1h-1M488 583h1v1h-1M593 583h1v1h-1M206 584h1v1h-1M206 584h1v1h-1M386 584h1v1h-1M390 584h1v1h-1M308 585h1v1h-1M519 585h1v1h-1M581 585h1v1h-1M170 586h1v1h-1M281 586h1v1h-1M416 586h1v1h-1M461 586h1v1h-1M149 587h1v1h-1M260 587h1v1h-1M375 587h1v1h-1M89 588h1v1h-1M320 588h1v1h-1M339 588h1v1h-1M567 588h1v1h-1M80 589h1v1h-1M127 589h1v1h-1M208 589h1v1h-1M270 589h1v1h-1M326 589h1v1h-1M358 589h1v1h-1M368 589h1v1h-1M456 589h1v1h-1M495 589h1v1h-1M591 589h1v1h-1M71 590h1v1h-1M146 590h1v1h-1M309 590h1v1h-1M95 591h1v1h-1M346 591h1v1h-1M359 591h1v1h-1M391 591h1v1h-1M474 591h1v1h-1M519 591h1v1h-1M550 591h1v1h-1M597 591h1v1h-1M154 592h1v1h-1M183 592h1v1h-1M247 592h1v1h-1M390 592h1v1h-1M419 592h1v1h-1M423 592h1v1h-1M130 593h1v1h-1M213 593h1v1h-1M235 593h1v1h-1M251 593h1v1h-1M324 593h1v1h-1M329 593h1v1h-1M478 593h1v1h-1M507 593h1v1h-1M592 593h1v1h-1M113 594h1v1h-1M200 594h1v1h-1M204 594h1v1h-1M364 594h1v1h-1M440 594h1v1h-1M603 594h1v1h-1M77 595h1v1h-1M116 595h1v1h-1M262 595h1v1h-1M595 595h1v1h-1M78 596h1v1h-1M186 596h1v1h-1M207 596h1v1h-1M363 596h1v1h-1M392 596h1v1h-1M476 596h1v1h-1M94 597h1v1h-1M104 597h1v1h-1M128 597h1v1h-1M129 597h1v1h-1M129 597h1v1h-1M232 597h1v1h-1M234 597h1v1h-1M391 597h1v1h-1M425 597h1v1h-1M497 597h1v1h-1M540 597h1v1h-1M247 598h1v1h-1M386 598h1v1h-1M400 598h1v1h-1M554 598h1v1h-1M576 598h1v1h-1M314 599h1v1h-1M359 599h1v1h-1M360 599h1v1h-1M463 599h1v1h-1M524 599h1v1h-1M551 599h1v1h-1M70 600h1v1h-1M150 600h1v1h-1M173 600h1v1h-1M174 600h1v1h-1M407 600h1v1h-1M547 600h1v1h-1M583 600h1v1h-1M585 600h1v1h-1M100 601h1v1h-1M188 601h1v1h-1M293 601h1v1h-1M180 602h1v1h-1M203 602h1v1h-1M301 602h1v1h-1M383 602h1v1h-1M492 602h1v1h-1M534 602h1v1h-1M604 602h1v1h-1M223 603h1v1h-1M402 603h1v1h-1M425 603h1v1h-1M447 603h1v1h-1M81 604h1v1h-1M141 604h1v1h-1M239 604h1v1h-1M438 604h1v1h-1M112 605h1v1h-1M142 605h1v1h-1M151 605h1v1h-1M257 605h1v1h-1M262 605h1v1h-1M281 605h1v1h-1M303 605h1v1h-1M325 605h1v1h-1M471 605h1v1h-1M523 605h1v1h-1M92 606h1v1h-1M132 606h1v1h-1M149 606h1v1h-1M190 606h1v1h-1M195 606h1v1h-1M323 606h1v1h-1M163 607h1v1h-1M166 607h1v1h-1M431 607h1v1h-1M436 607h1v1h-1M471 607h1v1h-1M105 608h1v1h-1M135 608h1v1h-1M135 608h1v1h-1M163 608h1v1h-1M220 608h1v1h-1M246 608h1v1h-1M443 608h1v1h-1M522 608h1v1h-1M581 608h1v1h-1M81 609h1v1h-1M96 609h1v1h-1M180 609h1v1h-1M265 609h1v1h-1M281 609h1v1h-1M160 610h1v1h-1M197 610h1v1h-1M203 610h1v1h-1M296 610h1v1h-1M455 610h1v1h-1"/>
<path fill="#909090" d="M578 69h1v1h-1M96 71h1v1h-1M172 72h1v1h-1M179 76h1v1h-1M381 76h1v1h-1M601 76h1v1h-1M176 77h1v1h-1M230 78h1v1h-1M559 78h1v1h-1M208 79h1v1h-1M192 80h1v1h-1M587 80h1v1h-1M408 82h1v1h-1M530 82h1v1h-1M131 83h1v1h-1M510 83h1v1h-1M90 84h1v1h-1M351 84h1v1h-1M294 85h1v1h-1M118 86h1v1h-1M181 88h1v1h-1M184 89h1v1h-1M103 90h1v1h-1M230 90h1v1h-1M392 90h1v1h-1M92 91h1v1h-1M125 91h1v1h-1M157 91h1v1h-1M334 91h1v1h-1M188 92h1v1h-1M390 92h1v1h-1M426 92h1v1h-1M482 92h1v1h-1M110 95h1v1h-1M234 99h1v1h-1M429 99h1v1h-1M80 100h1v1h-1M125 100h1v1h-1M78 101h1v1h-1M390 101h1v1h-1M142 103h1v1h-1M276 103h1v1h-1M228 104h1v1h-1M272 104h1v1h-1M474 105h1v1h-1M326 106h1v1h-1M437 106h1v1h-1M197 108h1v1h-1M443 108h1v1h-1M456 108h1v1h-1M78 109h1v1h-1M79 109h1v1h-1M258 109h1v1h-1M107 110h1v1h-1M205 110h1v1h-1M446 111h1v1h-1M471 111h1v1h-1M180 112h1v1h-1M561 112h1v1h-1M81 113h1v1h-1M149 113h1v1h-1M407 113h1v1h-1M524 113h1v1h-1M296 114h1v1h-1M306 114h1v1h-1M377 115h1v1h-1M147 116h1v1h-1M254 116h1v1h-1M360 116h1v1h-1M469 116h1v1h-1M543 118h1v1h-1M184 119h1v1h-1M327 119h1v1h-1M72 120h1v1h-1M105 120h1v1h-1M596 120h1v1h-1M105 121h1v1h-1M441 121h1v1h-1M290 122h1v1h-1M345 122h1v1h-1M81 123h1v1h-1M222 123h1v1h-1M92 124h1v1h-1M484 124h1v1h-1M350 126h1v1h-1M103 127h1v1h-1M403 127h1v1h-1M494 127h1v1h-1M495 127h1v1h-1M276 128h1v1h-1M148 129h1v1h-1M197 130h1v1h-1M257 130h1v1h-1M596 130h1v1h-1M229 131h1v1h-1M447 131h1v1h-1M92 132h1v1h-1M242 132h1v1h-1M278 132h1v1h-1M94 133h1v1h-1M172 133h1v1h-1M230 135h1v1h-1M72 137h1v1h-1M359 137h1v1h-1M162 138h1v1h-1M332 138h1v1h-1M158 139h1v1h-1M272 140h1v1h-1M440 140h1v1h-1M380 141h1v1h-1M136 143h1v1h-1M268 145h1v1h-1M315 146h1v1h-1M265 148h1v1h-1M320 148h1v1h-1M157 151h1v1h-1M314 151h1v1h-1M376 152h1v1h-1M577 152h1v1h-1M152 153h1v1h-1M338 153h1v1h-1M526 153h1v1h-1M165 154h1v1h-1M189 154h1v1h-1M91 155h1v1h-1M274 155h1v1h-1M177 156h1v1h-1M240 160h1v1h-1M269 160h1v1h-1M94 161h1v1h-1M219 161h1v1h-1M293 161h1v1h-1M522 161h1v1h-1M167 162h1v1h-1M605 163h1v1h-1M110 164h1v1h-1M365 164h1v1h-1M497 164h1v1h-1M509 164h1v1h-1M124 165h1v1h-1M326 165h1v1h-1M151 167h1v1h-1M473 167h1v1h-1M90 168h1v1h-1M152 168h1v1h-1M109 169h1v1h-1M377 169h1v1h-1M453 169h1v1h-1M605 170h1v1h-1M206 171h1v1h-1M114 172h1v1h-1M311 172h1v1h-1M101 173h1v1h-1M123 174h1v1h-1M359 174h1v1h-1M432 174h1v1h-1M312 175h1v1h-1M538 175h1v1h-1M221 176h1v1h-1M567 176h1v1h-1M476 177h1v1h-1M225 178h1v1h-1M538 178h1v1h-1M328 179h1v1h-1M408 179h1v1h-1M160 180h1v1h-1M235 180h1v1h-1M119 181h1v1h-1M275 181h1v1h-1M590 181h1v1h-1M221 182h1v1h-1M490 182h1v1h-1M193 183h1v1h-1M109 184h1v1h-1M159 184h1v1h-1M513 184h1v1h-1M213 185h1v1h-1M316 185h1v1h-1M597 185h1v1h-1M602 185h1v1h-1M354 189h1v1h-1M495 189h1v1h-1M606 189h1v1h-1M110 190h1v1h-1M127 190h1v1h-1M147 190h1v1h-1M69 191h1v1h-1M315 191h1v1h-1M156 192h1v1h-1M463 193h1v1h-1M274 194h1v1h-1M421 194h1v1h-1M241 196h1v1h-1M522 196h1v1h-1M80 197h1v1h-1M111 199h1v1h-1M251 199h1v1h-1M100 200h1v1h-1M365 201h1v1h-1M414 201h1v1h-1M134 202h1v1h-1M232 202h1v1h-1M263 203h1v1h-1M416 203h1v1h-1M92 204h1v1h-1M186 204h1v1h-1M196 204h1v1h-1M310 204h1v1h-1M546 204h1v1h-1M370 206h1v1h-1M210 207h1v1h-1M474 207h1v1h-1M289 209h1v1h-1M532 210h1v1h-1M149 211h1v1h-1M238 211h1v1h-1M250 211h1v1h-1M398 211h1v1h-1M139 214h1v1h-1M390 214h1v1h-1M160 215h1v1h-1M187 215h1v1h-1M237 215h1v1h-1M314 218h1v1h-1M295 219h1v1h-1M441 219h1v1h-1M456 219h1v1h-1M156 220h1v1h-1M117 221h1v1h-1M307 221h1v1h-1M314 221h1v1h-1M205 222h1v1h-1M71 223h1v1h-1M147 223h1v1h-1M557 223h1v1h-1M256 225h1v1h-1M163 226h1v1h-1M177 226h1v1h-1M331 227h1v1h-1M97 228h1v1h-1M196 228h1v1h-1M466 228h1v1h-1M546 228h1v1h-1M431 229h1v1h-1M303 230h1v1h-1M378 230h1v1h-1M260 231h1v1h-1M89 232h1v1h-1M282 232h1v1h-1M294 232h1v1h-1M449 232h1v1h-1M280 233h1v1h-1M393 233h1v1h-1M144 234h1v1h-1M452 235h1v1h-1M82 236h1v1h-1M111 239h1v1h-1M345 240h1v1h-1M122 241h1v1h-1M408 241h1v1h-1M469 242h1v1h-1M222 243h1v1h-1M232 244h1v1h-1M569 244h1v1h-1M333 245h1v1h-1M197 246h1v1h-1M581 246h1v1h-1M124 248h1v1h-1M379 248h1v1h-1M451 248h1v1h-1M313 249h1v1h-1M239 250h1v1h-1M507 251h1v1h-1M146 252h1v1h-1M337 253h1v1h-1M107 254h1v1h-1M112 255h1v1h-1M448 255h1v1h-1M591 255h1v1h-1M207 256h1v1h-1M610 256h1v1h-1M129 257h1v1h-1M230 257h1v1h-1M610 257h1v1h-1M371 258h1v1h-1M403 258h1v1h-1M410 258h1v1h-1M420 258h1v1h-1M146 259h1v1h-1M446 259h1v1h-1M166 260h1v1h-1M465 261h1v1h-1M521 261h1v1h-1M352 262h1v1h-1M378 262h1v1h-1M183 263h1v1h-1M89 264h1v1h-1M224 264h1v1h-1M245 264h1v1h-1M154 265h1v1h-1M123 266h1v1h-1M116 267h1v1h-1M288 268h1v1h-1M424 268h1v1h-1M122 270h1v1h-1M310 271h1v1h-1M607 272h1v1h-1M246 274h1v1h-1M258 274h1v1h-1M532 274h1v1h-1M380 276h1v1h-1M87 277h1v1h-1M533 277h1v1h-1M528 278h1v1h-1M532 278h1v1h-1M215 279h1v1h-1M332 279h1v1h-1M138 281h1v1h-1M190 281h1v1h-1M94 282h1v1h-1M142 282h1v1h-1M155 282h1v1h-1M277 282h1v1h-1M343 282h1v1h-1M118 283h1v1h-1M132 283h1v1h-1M256 283h1v1h-1M369 284h1v1h-1M569 284h1v1h-1M157 285h1v1h-1M151 286h1v1h-1M263 287h1v1h-1M361 287h1v1h-1M593 287h1v1h-1M131 288h1v1h-1M569 288h1v1h-1M396 289h1v1h-1M180 291h1v1h-1M409 291h1v1h-1M163 292h1v1h-1M241 292h1v1h-1M579 292h1v1h-1M258 293h1v1h-1M123 294h1v1h-1M331 294h1v1h-1M393 294h1v1h-1M458 294h1v1h-1M262 295h1v1h-1M268 295h1v1h-1M74 297h1v1h-1M139 298h1v1h-1M277 299h1v1h-1M604 300h1v1h-1M179 301h1v1h-1M336 301h1v1h-1M226 302h1v1h-1M291 302h1v1h-1M232 303h1v1h-1M78 304h1v1h-1M370 307h1v1h-1M152 308h1v1h-1M322 308h1v1h-1M108 309h1v1h-1M359 309h1v1h-1M86 310h1v1h-1M281 311h1v1h-1M340 312h1v1h-1M593 312h1v1h-1M379 313h1v1h-1M279 314h1v1h-1M320 314h1v1h-1M438 315h1v1h-1M406 316h1v1h-1M109 318h1v1h-1M522 318h1v1h-1M332 319h1v1h-1M585 319h1v1h-1M120 320h1v1h-1M243 320h1v1h-1M315 321h1v1h-1M487 321h1v1h-1M568 322h1v1h-1M436 323h1v1h-1M264 324h1v1h-1M196 325h1v1h-1M370 325h1v1h-1M550 326h1v1h-1M585 326h1v1h-1M331 327h1v1h-1M235 328h1v1h-1M255 328h1v1h-1M332 328h1v1h-1M343 328h1v1h-1M84 329h1v1h-1M218 329h1v1h-1M588 329h1v1h-1M132 330h1v1h-1M154 330h1v1h-1M359 332h1v1h-1M187 333h1v1h-1M243 333h1v1h-1M147 334h1v1h-1M404 334h1v1h-1M524 335h1v1h-1M496 336h1v1h-1M521 336h1v1h-1M119 337h1v1h-1M177 337h1v1h-1M189 337h1v1h-1M199 337h1v1h-1M550 339h1v1h-1M369 340h1v1h-1M413 341h1v1h-1M121 342h1v1h-1M164 342h1v1h-1M368 342h1v1h-1M150 343h1v1h-1M539 343h1v1h-1M553 344h1v1h-1M559 344h1v1h-1M165 345h1v1h-1M275 345h1v1h-1M414 345h1v1h-1M219 346h1v1h-1M82 347h1v1h-1M257 347h1v1h-1M295 347h1v1h-1M284 348h1v1h-1M294 349h1v1h-1M295 349h1v1h-1M255 351h1v1h-1M225 352h1v1h-1M243 352h1v1h-1M266 352h1v1h-1M495 352h1v1h-1M347 355h1v1h-1M522 355h1v1h-1M565 356h1v1h-1M501 357h1v1h-1M125 358h1v1h-1M184 358h1v1h-1M208 358h1v1h-1M219 359h1v1h-1M258 359h1v1h-1M234 360h1v1h-1M139 361h1v1h-1M333 361h1v1h-1M552 361h1v1h-1M521 362h1v1h-1M355 365h1v1h-1M446 365h1v1h-1M158 366h1v1h-1M590 366h1v1h-1M124 367h1v1h-1M590 367h1v1h-1M86 369h1v1h-1M202 369h1v1h-1M259 369h1v1h-1M518 369h1v1h-1M303 371h1v1h-1M259 372h1v1h-1M340 373h1v1h-1M386 373h1v1h-1M500 373h1v1h-1M436 375h1v1h-1M490 375h1v1h-1M551 375h1v1h-1M551 375h1v1h-1M144 376h1v1h-1M247 377h1v1h-1M448 377h1v1h-1M105 378h1v1h-1M232 378h1v1h-1M263 378h1v1h-1M311 378h1v1h-1M401 379h1v1h-1M184 380h1v1h-1M193 380h1v1h-1M465 380h1v1h-1M210 381h1v1h-1M120 382h1v1h-1M213 382h1v1h-1M281 382h1v1h-1M361 382h1v1h-1M478 382h1v1h-1M610 382h1v1h-1M236 383h1v1h-1M432 383h1v1h-1M470 383h1v1h-1M148 384h1v1h-1M452 384h1v1h-1M259 385h1v1h-1M327 385h1v1h-1M171 387h1v1h-1M79 388h1v1h-1M531 389h1v1h-1M574 389h1v1h-1M259 391h1v1h-1M591 391h1v1h-1M451 392h1v1h-1M137 393h1v1h-1M274 393h1v1h-1M83 394h1v1h-1M362 394h1v1h-1M509 394h1v1h-1M463 397h1v1h-1M73 399h1v1h-1M514 399h1v1h-1M113 400h1v1h-1M119 400h1v1h-1M128 401h1v1h-1M258 402h1v1h-1M376 402h1v1h-1M268 403h1v1h-1M489 403h1v1h-1M96 404h1v1h-1M214 404h1v1h-1M403 404h1v1h-1M152 405h1v1h-1M177 406h1v1h-1M286 406h1v1h-1M479 406h1v1h-1M485 407h1v1h-1M566 407h1v1h-1M168 409h1v1h-1M264 409h1v1h-1M299 409h1v1h-1M262 412h1v1h-1M304 412h1v1h-1M175 413h1v1h-1M212 413h1v1h-1M248 413h1v1h-1M367 413h1v1h-1M81 415h1v1h-1M94 415h1v1h-1M127 415h1v1h-1M134 415h1v1h-1M134 415h1v1h-1M322 416h1v1h-1M133 417h1v1h-1M278 417h1v1h-1M347 417h1v1h-1M155 418h1v1h-1M158 418h1v1h-1M159 418h1v1h-1M167 418h1v1h-1M275 418h1v1h-1M547 418h1v1h-1M393 419h1v1h-1M161 420h1v1h-1M233 420h1v1h-1M81 421h1v1h-1M247 421h1v1h-1M501 421h1v1h-1M351 422h1v1h-1M130 423h1v1h-1M208 423h1v1h-1M247 423h1v1h-1M125 424h1v1h-1M198 424h1v1h-1M338 424h1v1h-1M168 425h1v1h-1M478 425h1v1h-1M140 426h1v1h-1M342 427h1v1h-1M105 428h1v1h-1M194 428h1v1h-1M320 429h1v1h-1M486 429h1v1h-1M73 430h1v1h-1M92 431h1v1h-1M383 431h1v1h-1M85 432h1v1h-1M198 432h1v1h-1M112 433h1v1h-1M176 433h1v1h-1M101 434h1v1h-1M183 434h1v1h-1M374 434h1v1h-1M423 435h1v1h-1M439 436h1v1h-1M350 437h1v1h-1M349 438h1v1h-1M353 438h1v1h-1M194 439h1v1h-1M237 439h1v1h-1M336 439h1v1h-1M392 439h1v1h-1M306 441h1v1h-1M463 442h1v1h-1M75 444h1v1h-1M92 445h1v1h-1M108 446h1v1h-1M565 447h1v1h-1M112 448h1v1h-1M113 448h1v1h-1M177 448h1v1h-1M202 448h1v1h-1M577 449h1v1h-1M174 450h1v1h-1M263 450h1v1h-1M296 450h1v1h-1M430 450h1v1h-1M362 451h1v1h-1M582 452h1v1h-1M166 453h1v1h-1M452 453h1v1h-1M345 454h1v1h-1M428 454h1v1h-1M536 454h1v1h-1M561 455h1v1h-1M208 456h1v1h-1M298 457h1v1h-1M135 459h1v1h-1M351 459h1v1h-1M378 460h1v1h-1M539 460h1v1h-1M398 461h1v1h-1M407 461h1v1h-1M424 462h1v1h-1M309 463h1v1h-1M338 463h1v1h-1M302 465h1v1h-1M309 465h1v1h-1M379 466h1v1h-1M233 468h1v1h-1M404 468h1v1h-1M532 468h1v1h-1M153 469h1v1h-1M434 469h1v1h-1M537 469h1v1h-1M72 470h1v1h-1M109 470h1v1h-1M227 470h1v1h-1M357 470h1v1h-1M403 470h1v1h-1M220 471h1v1h-1M251 471h1v1h-1M342 471h1v1h-1M533 471h1v1h-1M481 473h1v1h-1M75 474h1v1h-1M529 474h1v1h-1M69 475h1v1h-1M516 475h1v1h-1M560 475h1v1h-1M105 476h1v1h-1M309 476h1v1h-1M322 476h1v1h-1M73 477h1v1h-1M213 477h1v1h-1M338 478h1v1h-1M167 479h1v1h-1M486 479h1v1h-1M153 480h1v1h-1M243 480h1v1h-1M464 480h1v1h-1M517 480h1v1h-1M598 480h1v1h-1M149 481h1v1h-1M174 482h1v1h-1M203 482h1v1h-1M437 482h1v1h-1M558 482h1v1h-1M598 482h1v1h-1M197 483h1v1h-1M313 483h1v1h-1M505 483h1v1h-1M603 484h1v1h-1M300 485h1v1h-1M441 485h1v1h-1M169 487h1v1h-1M203 487h1v1h-1M500 487h1v1h-1M255 488h1v1h-1M94 490h1v1h-1M575 490h1v1h-1M69 491h1v1h-1M575 491h1v1h-1M489 492h1v1h-1M181 493h1v1h-1M182 493h1v1h-1M248 493h1v1h-1M80 494h1v1h-1M221 494h1v1h-1M351 494h1v1h-1M603 496h1v1h-1M195 497h1v1h-1M268 498h1v1h-1M310 498h1v1h-1M368 498h1v1h-1M226 500h1v1h-1M375 501h1v1h-1M312 502h1v1h-1M539 503h1v1h-1M118 505h1v1h-1M485 505h1v1h-1M512 505h1v1h-1M118 506h1v1h-1M199 506h1v1h-1M304 508h1v1h-1M344 508h1v1h-1M466 508h1v1h-1M214 509h1v1h-1M139 510h1v1h-1M278 510h1v1h-1M362 510h1v1h-1M610 510h1v1h-1M297 511h1v1h-1M559 511h1v1h-1M606 511h1v1h-1M208 513h1v1h-1M171 514h1v1h-1M260 514h1v1h-1M295 514h1v1h-1M363 515h1v1h-1M392 515h1v1h-1M525 515h1v1h-1M196 516h1v1h-1M202 516h1v1h-1M418 516h1v1h-1M487 516h1v1h-1M559 516h1v1h-1M230 518h1v1h-1M192 519h1v1h-1M417 519h1v1h-1M185 520h1v1h-1M565 520h1v1h-1M347 521h1v1h-1M110 522h1v1h-1M223 522h1v1h-1M115 523h1v1h-1M74 524h1v1h-1M285 524h1v1h-1M490 524h1v1h-1M330 525h1v1h-1M357 527h1v1h-1M192 528h1v1h-1M225 528h1v1h-1M234 528h1v1h-1M303 528h1v1h-1M244 529h1v1h-1M339 529h1v1h-1M480 529h1v1h-1M543 530h1v1h-1M130 532h1v1h-1M542 532h1v1h-1M158 533h1v1h-1M310 535h1v1h-1M396 535h1v1h-1M113 536h1v1h-1M268 536h1v1h-1M600 536h1v1h-1M242 537h1v1h-1M550 538h1v1h-1M246 539h1v1h-1M301 539h1v1h-1M303 539h1v1h-1M412 539h1v1h-1M101 540h1v1h-1M186 541h1v1h-1M389 541h1v1h-1M484 541h1v1h-1M363 542h1v1h-1M559 542h1v1h-1M343 543h1v1h-1M346 543h1v1h-1M395 543h1v1h-1M123 544h1v1h-1M487 544h1v1h-1M75 545h1v1h-1M102 548h1v1h-1M302 548h1v1h-1M104 549h1v1h-1M196 549h1v1h-1M292 550h1v1h-1M473 550h1v1h-1M503 550h1v1h-1M550 550h1v1h-1M179 551h1v1h-1M157 552h1v1h-1M160 552h1v1h-1M80 553h1v1h-1M429 553h1v1h-1M430 553h1v1h-1M134 554h1v1h-1M146 554h1v1h-1M150 554h1v1h-1M245 554h1v1h-1M85 555h1v1h-1M309 555h1v1h-1M263 557h1v1h-1M364 557h1v1h-1M393 559h1v1h-1M132 560h1v1h-1M216 560h1v1h-1M99 561h1v1h-1M166 562h1v1h-1M177 562h1v1h-1M185 562h1v1h-1M261 562h1v1h-1M78 563h1v1h-1M490 563h1v1h-1M585 563h1v1h-1M517 564h1v1h-1M299 565h1v1h-1M603 565h1v1h-1M244 566h1v1h-1M408 566h1v1h-1M444 566h1v1h-1M279 567h1v1h-1M354 567h1v1h-1M528 567h1v1h-1M323 568h1v1h-1M169 569h1v1h-1M368 571h1v1h-1M379 571h1v1h-1M378 572h1v1h-1M575 572h1v1h-1M342 573h1v1h-1M472 573h1v1h-1M578 575h1v1h-1M168 576h1v1h-1M463 576h1v1h-1M71 577h1v1h-1M163 577h1v1h-1M521 577h1v1h-1M179 578h1v1h-1M457 578h1v1h-1M495 578h1v1h-1M189 579h1v1h-1M188 580h1v1h-1M398 580h1v1h-1M204 581h1v1h-1M437 581h1v1h-1M582 581h1v1h-1M591 581h1v1h-1M370 582h1v1h-1M321 583h1v1h-1M344 584h1v1h-1M236 585h1v1h-1M313 586h1v1h-1M572 586h1v1h-1M159 587h1v1h-1M195 587h1v1h-1M302 588h1v1h-1M326 588h1v1h-1M91 589h1v1h-1M301 589h1v1h-1M315 590h1v1h-1M353 591h1v1h-1M396 591h1v1h-1M590 592h1v1h-1M396 594h1v1h-1M117 595h1v1h-1M223 595h1v1h-1M271 595h1v1h-1M473 595h1v1h-1M91 596h1v1h-1M103 596h1v1h-1M154 597h1v1h-1M522 597h1v1h-1M187 598h1v1h-1M398 598h1v1h-1M560 598h1v1h-1M311 599h1v1h-1M453 599h1v1h-1M556 599h1v1h-1M580 599h1v1h-1M158 601h1v1h-1M307 601h1v1h-1M326 601h1v1h-1M285 602h1v1h-1M76 603h1v1h-1M106 603h1v1h-1M292 603h1v1h-1M296 603h1v1h-1M73 604h1v1h-1M378 604h1v1h-1M564 604h1v1h-1M130 605h1v1h-1M111 606h1v1h-1M258 606h1v1h-1M288 606h1v1h-1M545 607h1v1h-1M72 608h1v1h-1M277 608h1v1h-1M465 608h1v1h-1M215 609h1v1h-1M428 609h1v1h-1M114 610h1v1h-1M242 610h1v1h-1M292 610h1v1h-1"/>
<path fill="#bcbcbc" d="M352 69h1v1h-1M336 70h1v1h-1M385 70h1v1h-1M417 70h1v1h-1M525 71h1v1h-1M192 72h1v1h-1M342 72h1v1h-1M441 72h1v1h-1M466 72h1v1h-1M202 73h1v1h-1M380 73h1v1h-1M403 73h1v1h-1M149 74h1v1h-1M285 74h1v1h-1M123 75h1v1h-1M127 75h1v1h-1M226 76h1v1h-1M305 76h1v1h-1M295 80h1v1h-1M337 80h1v1h-1M397 81h1v1h-1M409 81h1v1h-1M80 84h1v1h-1M181 86h1v1h-1M175 87h1v1h-1M569 87h1v1h-1M244 88h1v1h-1M255 88h1v1h-1M397 90h1v1h-1M110 91h1v1h-1M481 91h1v1h-1M515 91h1v1h-1M69 96h1v1h-1M361 99h1v1h-1M400 99h1v1h-1M243 100h1v1h-1M468 100h1v1h-1M589 101h1v1h-1M113 103h1v1h-1M216 103h1v1h-1M126 105h1v1h-1M456 105h1v1h-1M287 106h1v1h-1M449 106h1v1h-1M190 107h1v1h-1M199 107h1v1h-1M563 107h1v1h-1M421 109h1v1h-1M99 110h1v1h-1M499 110h1v1h-1M149 111h1v1h-1M173 111h1v1h-1M397 112h1v1h-1M469 114h1v1h-1M269 115h1v1h-1M548 115h1v1h-1M451 118h1v1h-1M305 119h1v1h-1M224 120h1v1h-1M355 122h1v1h-1M596 122h1v1h-1M343 123h1v1h-1M116 124h1v1h-1M282 124h1v1h-1M199 126h1v1h-1M418 126h1v1h-1M147 127h1v1h-1M512 127h1v1h-1M601 127h1v1h-1M461 128h1v1h-1M518 128h1v1h-1M582 128h1v1h-1M294 129h1v1h-1M489 132h1v1h-1M351 133h1v1h-1M279 134h1v1h-1M99 135h1v1h-1M319 135h1v1h-1M202 136h1v1h-1M284 137h1v1h-1M502 138h1v1h-1M510 138h1v1h-1M115 139h1v1h-1M174 139h1v1h-1M183 139h1v1h-1M241 139h1v1h-1M308 139h1v1h-1M340 141h1v1h-1M113 142h1v1h-1M96 143h1v1h-1M306 143h1v1h-1M523 143h1v1h-1M420 144h1v1h-1M522 145h1v1h-1M563 145h1v1h-1M218 146h1v1h-1M483 146h1v1h-1M329 147h1v1h-1M133 148h1v1h-1M138 148h1v1h-1M343 148h1v1h-1M255 150h1v1h-1M92 151h1v1h-1M110 151h1v1h-1M195 152h1v1h-1M293 152h1v1h-1M107 153h1v1h-1M123 153h1v1h-1M271 153h1v1h-1M93 154h1v1h-1M108 154h1v1h-1M452 156h1v1h-1M442 157h1v1h-1M343 158h1v1h-1M346 158h1v1h-1M435 158h1v1h-1M430 159h1v1h-1M81 161h1v1h-1M232 161h1v1h-1M108 162h1v1h-1M210 162h1v1h-1M279 162h1v1h-1M336 162h1v1h-1M529 164h1v1h-1M252 165h1v1h-1M231 166h1v1h-1M231 167h1v1h-1M452 167h1v1h-1M212 168h1v1h-1M410 168h1v1h-1M526 168h1v1h-1M562 168h1v1h-1M77 169h1v1h-1M110 169h1v1h-1M378 169h1v1h-1M440 170h1v1h-1M472 170h1v1h-1M226 172h1v1h-1M299 172h1v1h-1M533 172h1v1h-1M187 175h1v1h-1M390 175h1v1h-1M535 175h1v1h-1M563 175h1v1h-1M74 176h1v1h-1M156 176h1v1h-1M486 176h1v1h-1M514 176h1v1h-1M545 176h1v1h-1M146 177h1v1h-1M236 177h1v1h-1M365 178h1v1h-1M322 179h1v1h-1M201 180h1v1h-1M91 181h1v1h-1M272 181h1v1h-1M136 182h1v1h-1M420 182h1v1h-1M456 182h1v1h-1M321 183h1v1h-1M191 184h1v1h-1M344 184h1v1h-1M191 185h1v1h-1M103 187h1v1h-1M203 188h1v1h-1M215 188h1v1h-1M467 188h1v1h-1M503 190h1v1h-1M77 191h1v1h-1M435 191h1v1h-1M228 193h1v1h-1M164 196h1v1h-1M430 197h1v1h-1M562 197h1v1h-1M122 198h1v1h-1M574 198h1v1h-1M198 199h1v1h-1M262 200h1v1h-1M405 200h1v1h-1M557 200h1v1h-1M182 202h1v1h-1M603 202h1v1h-1M78 204h1v1h-1M228 205h1v1h-1M115 206h1v1h-1M178 208h1v1h-1M576 208h1v1h-1M316 209h1v1h-1M401 209h1v1h-1M422 209h1v1h-1M540 209h1v1h-1M382 210h1v1h-1M420 211h1v1h-1M474 211h1v1h-1M557 211h1v1h-1M309 212h1v1h-1M550 212h1v1h-1M131 213h1v1h-1M384 213h1v1h-1M414 213h1v1h-1M188 214h1v1h-1M245 214h1v1h-1M530 214h1v1h-1M595 215h1v1h-1M268 218h1v1h-1M287 218h1v1h-1M474 218h1v1h-1M155 219h1v1h-1M190 219h1v1h-1M192 219h1v1h-1M321 219h1v1h-1M378 219h1v1h-1M529 219h1v1h-1M247 220h1v1h-1M292 221h1v1h-1M86 222h1v1h-1M102 222h1v1h-1M417 222h1v1h-1M384 223h1v1h-1M463 223h1v1h-1M225 224h1v1h-1M286 224h1v1h-1M231 225h1v1h-1M183 226h1v1h-1M202 226h1v1h-1M213 227h1v1h-1M539 227h1v1h-1M181 228h1v1h-1M76 229h1v1h-1M521 229h1v1h-1M442 230h1v1h-1M452 230h1v1h-1M204 232h1v1h-1M245 233h1v1h-1M85 234h1v1h-1M110 235h1v1h-1M192 236h1v1h-1M434 237h1v1h-1M125 238h1v1h-1M225 238h1v1h-1M564 238h1v1h-1M365 239h1v1h-1M382 240h1v1h-1M423 240h1v1h-1M596 240h1v1h-1M606 240h1v1h-1M251 241h1v1h-1M270 242h1v1h-1M328 242h1v1h-1M609 244h1v1h-1M82 245h1v1h-1M394 246h1v1h-1M491 247h1v1h-1M161 248h1v1h-1M352 250h1v1h-1M549 250h1v1h-1M322 251h1v1h-1M118 252h1v1h-1M223 252h1v1h-1M494 252h1v1h-1M381 254h1v1h-1M163 255h1v1h-1M243 255h1v1h-1M316 255h1v1h-1M327 255h1v1h-1M431 255h1v1h-1M463 255h1v1h-1M606 255h1v1h-1M76 257h1v1h-1M89 259h1v1h-1M308 259h1v1h-1M118 260h1v1h-1M291 260h1v1h-1M256 261h1v1h-1M278 261h1v1h-1M325 262h1v1h-1M344 262h1v1h-1M552 262h1v1h-1M351 263h1v1h-1M562 263h1v1h-1M142 264h1v1h-1M126 265h1v1h-1M230 266h1v1h-1M306 266h1v1h-1M397 266h1v1h-1M293 267h1v1h-1M576 267h1v1h-1M515 269h1v1h-1M172 270h1v1h-1M354 270h1v1h-1M452 270h1v1h-1M139 271h1v1h-1M69 272h1v1h-1M136 272h1v1h-1M144 272h1v1h-1M462 273h1v1h-1M72 274h1v1h-1M302 275h1v1h-1M80 276h1v1h-1M125 276h1v1h-1M447 277h1v1h-1M144 278h1v1h-1M540 278h1v1h-1M481 279h1v1h-1M172 280h1v1h-1M399 280h1v1h-1M141 281h1v1h-1M272 281h1v1h-1M594 281h1v1h-1M176 282h1v1h-1M206 283h1v1h-1M254 284h1v1h-1M460 284h1v1h-1M92 286h1v1h-1M323 286h1v1h-1M577 286h1v1h-1M271 287h1v1h-1M275 287h1v1h-1M231 288h1v1h-1M445 288h1v1h-1M242 289h1v1h-1M238 290h1v1h-1M270 290h1v1h-1M388 290h1v1h-1M95 291h1v1h-1M547 292h1v1h-1M297 293h1v1h-1M465 293h1v1h-1M552 294h1v1h-1M285 296h1v1h-1M301 296h1v1h-1M124 297h1v1h-1M289 300h1v1h-1M384 300h1v1h-1M131 301h1v1h-1M248 301h1v1h-1M284 301h1v1h-1M536 302h1v1h-1M190 303h1v1h-1M195 303h1v1h-1M178 304h1v1h-1M288 304h1v1h-1M204 306h1v1h-1M411 306h1v1h-1M208 308h1v1h-1M343 308h1v1h-1M152 309h1v1h-1M202 309h1v1h-1M330 309h1v1h-1M473 309h1v1h-1M585 309h1v1h-1M135 310h1v1h-1M184 310h1v1h-1M234 310h1v1h-1M412 310h1v1h-1M105 312h1v1h-1M182 312h1v1h-1M400 312h1v1h-1M72 313h1v1h-1M525 313h1v1h-1M103 314h1v1h-1M297 314h1v1h-1M251 317h1v1h-1M443 317h1v1h-1M481 318h1v1h-1M609 318h1v1h-1M130 319h1v1h-1M431 319h1v1h-1M592 320h1v1h-1M121 321h1v1h-1M198 322h1v1h-1M595 323h1v1h-1M340 324h1v1h-1M547 326h1v1h-1M221 327h1v1h-1M319 327h1v1h-1M501 327h1v1h-1M185 329h1v1h-1M230 329h1v1h-1M388 329h1v1h-1M86 330h1v1h-1M101 330h1v1h-1M264 330h1v1h-1M284 330h1v1h-1M351 330h1v1h-1M268 331h1v1h-1M302 331h1v1h-1M491 331h1v1h-1M519 331h1v1h-1M562 331h1v1h-1M240 332h1v1h-1M549 332h1v1h-1M77 333h1v1h-1M205 333h1v1h-1M218 333h1v1h-1M608 333h1v1h-1M406 334h1v1h-1M497 334h1v1h-1M150 335h1v1h-1M214 336h1v1h-1M276 336h1v1h-1M278 336h1v1h-1M316 336h1v1h-1M542 336h1v1h-1M543 336h1v1h-1M126 338h1v1h-1M362 338h1v1h-1M516 338h1v1h-1M183 339h1v1h-1M275 339h1v1h-1M330 339h1v1h-1M480 339h1v1h-1M516 341h1v1h-1M71 342h1v1h-1M354 342h1v1h-1M331 344h1v1h-1M430 345h1v1h-1M206 346h1v1h-1M227 346h1v1h-1M479 347h1v1h-1M550 349h1v1h-1M382 350h1v1h-1M213 351h1v1h-1M464 351h1v1h-1M425 352h1v1h-1M546 352h1v1h-1M308 353h1v1h-1M549 353h1v1h-1M106 354h1v1h-1M298 354h1v1h-1M417 356h1v1h-1M446 356h1v1h-1M174 357h1v1h-1M443 359h1v1h-1M497 359h1v1h-1M105 360h1v1h-1M295 360h1v1h-1M164 363h1v1h-1M204 365h1v1h-1M461 365h1v1h-1M493 365h1v1h-1M108 366h1v1h-1M330 366h1v1h-1M133 367h1v1h-1M552 367h1v1h-1M356 368h1v1h-1M232 369h1v1h-1M213 370h1v1h-1M547 370h1v1h-1M113 372h1v1h-1M506 372h1v1h-1M107 373h1v1h-1M282 373h1v1h-1M116 374h1v1h-1M268 374h1v1h-1M93 375h1v1h-1M135 376h1v1h-1M384 376h1v1h-1M402 376h1v1h-1M228 377h1v1h-1M554 377h1v1h-1M118 379h1v1h-1M184 379h1v1h-1M130 380h1v1h-1M286 380h1v1h-1M188 381h1v1h-1M337 381h1v1h-1M438 381h1v1h-1M77 382h1v1h-1M225 383h1v1h-1M572 383h1v1h-1M580 383h1v1h-1M205 384h1v1h-1M359 385h1v1h-1M109 386h1v1h-1M606 389h1v1h-1M75 390h1v1h-1M79 390h1v1h-1M87 390h1v1h-1M321 390h1v1h-1M465 390h1v1h-1M122 391h1v1h-1M383 391h1v1h-1M465 391h1v1h-1M255 392h1v1h-1M417 392h1v1h-1M196 393h1v1h-1M142 394h1v1h-1M145 394h1v1h-1M255 394h1v1h-1M356 395h1v1h-1M593 395h1v1h-1M280 396h1v1h-1M524 396h1v1h-1M84 397h1v1h-1M381 398h1v1h-1M87 399h1v1h-1M320 399h1v1h-1M333 399h1v1h-1M113 400h1v1h-1M279 401h1v1h-1M294 401h1v1h-1M323 401h1v1h-1M455 401h1v1h-1M491 401h1v1h-1M542 401h1v1h-1M84 403h1v1h-1M164 403h1v1h-1M177 403h1v1h-1M205 403h1v1h-1M299 404h1v1h-1M561 404h1v1h-1M109 405h1v1h-1M321 405h1v1h-1M459 405h1v1h-1M534 405h1v1h-1M350 406h1v1h-1M129 407h1v1h-1M328 407h1v1h-1M332 407h1v1h-1M526 407h1v1h-1M288 408h1v1h-1M508 408h1v1h-1M203 409h1v1h-1M295 410h1v1h-1M391 410h1v1h-1M508 411h1v1h-1M81 412h1v1h-1M428 412h1v1h-1M373 414h1v1h-1M529 414h1v1h-1M283 415h1v1h-1M368 415h1v1h-1M500 415h1v1h-1M194 417h1v1h-1M226 417h1v1h-1M473 417h1v1h-1M380 418h1v1h-1M396 418h1v1h-1M541 418h1v1h-1M130 420h1v1h-1M342 420h1v1h-1M104 421h1v1h-1M379 421h1v1h-1M493 421h1v1h-1M95 422h1v1h-1M340 422h1v1h-1M355 423h1v1h-1M563 423h1v1h-1M285 424h1v1h-1M339 424h1v1h-1M280 425h1v1h-1M288 425h1v1h-1M297 425h1v1h-1M383 425h1v1h-1M133 426h1v1h-1M498 426h1v1h-1M300 428h1v1h-1M473 428h1v1h-1M139 431h1v1h-1M116 432h1v1h-1M173 434h1v1h-1M278 434h1v1h-1M344 434h1v1h-1M398 435h1v1h-1M539 435h1v1h-1M236 436h1v1h-1M103 437h1v1h-1M132 437h1v1h-1M226 437h1v1h-1M97 438h1v1h-1M285 438h1v1h-1M338 438h1v1h-1M609 438h1v1h-1M78 439h1v1h-1M517 439h1v1h-1M158 440h1v1h-1M237 440h1v1h-1M423 440h1v1h-1M269 441h1v1h-1M490 443h1v1h-1M580 443h1v1h-1M94 444h1v1h-1M88 446h1v1h-1M234 446h1v1h-1M348 446h1v1h-1M436 446h1v1h-1M120 447h1v1h-1M207 448h1v1h-1M468 448h1v1h-1M523 448h1v1h-1M121 449h1v1h-1M78 450h1v1h-1M95 450h1v1h-1M199 450h1v1h-1M221 451h1v1h-1M191 452h1v1h-1M329 452h1v1h-1M348 452h1v1h-1M69 453h1v1h-1M109 455h1v1h-1M71 456h1v1h-1M303 456h1v1h-1M597 456h1v1h-1M90 457h1v1h-1M565 458h1v1h-1M573 458h1v1h-1M262 460h1v1h-1M535 460h1v1h-1M129 461h1v1h-1M181 461h1v1h-1M247 461h1v1h-1M495 463h1v1h-1M81 464h1v1h-1M379 464h1v1h-1M535 464h1v1h-1M579 464h1v1h-1M593 464h1v1h-1M116 466h1v1h-1M276 466h1v1h-1M453 466h1v1h-1M287 468h1v1h-1M84 470h1v1h-1M150 471h1v1h-1M325 471h1v1h-1M410 471h1v1h-1M565 471h1v1h-1M134 472h1v1h-1M397 472h1v1h-1M454 474h1v1h-1M94 476h1v1h-1M138 476h1v1h-1M229 476h1v1h-1M194 478h1v1h-1M233 479h1v1h-1M336 479h1v1h-1M525 479h1v1h-1M193 480h1v1h-1M136 481h1v1h-1M489 481h1v1h-1M213 482h1v1h-1M595 482h1v1h-1M478 483h1v1h-1M173 484h1v1h-1M349 484h1v1h-1M146 485h1v1h-1M87 487h1v1h-1M350 487h1v1h-1M577 488h1v1h-1M606 489h1v1h-1M281 490h1v1h-1M359 490h1v1h-1M87 492h1v1h-1M174 492h1v1h-1M178 492h1v1h-1M233 492h1v1h-1M442 492h1v1h-1M72 493h1v1h-1M181 493h1v1h-1M209 494h1v1h-1M88 495h1v1h-1M109 495h1v1h-1M113 495h1v1h-1M200 495h1v1h-1M83 496h1v1h-1M291 496h1v1h-1M564 496h1v1h-1M139 497h1v1h-1M401 497h1v1h-1M409 497h1v1h-1M417 497h1v1h-1M77 498h1v1h-1M290 498h1v1h-1M345 498h1v1h-1M529 499h1v1h-1M168 501h1v1h-1M246 501h1v1h-1M280 504h1v1h-1M359 504h1v1h-1M320 505h1v1h-1M71 506h1v1h-1M187 506h1v1h-1M245 506h1v1h-1M562 506h1v1h-1M275 507h1v1h-1M371 507h1v1h-1M290 509h1v1h-1M305 512h1v1h-1M86 513h1v1h-1M321 513h1v1h-1M517 513h1v1h-1M537 513h1v1h-1M554 513h1v1h-1M398 514h1v1h-1M553 515h1v1h-1M101 516h1v1h-1M221 516h1v1h-1M313 516h1v1h-1M340 516h1v1h-1M281 517h1v1h-1M386 517h1v1h-1M398 517h1v1h-1M170 518h1v1h-1M427 518h1v1h-1M159 519h1v1h-1M380 520h1v1h-1M91 521h1v1h-1M152 522h1v1h-1M407 522h1v1h-1M175 523h1v1h-1M304 523h1v1h-1M537 523h1v1h-1M255 524h1v1h-1M471 525h1v1h-1M91 526h1v1h-1M93 526h1v1h-1M409 526h1v1h-1M200 527h1v1h-1M589 527h1v1h-1M237 528h1v1h-1M207 529h1v1h-1M494 530h1v1h-1M281 531h1v1h-1M332 531h1v1h-1M188 533h1v1h-1M260 533h1v1h-1M284 533h1v1h-1M520 533h1v1h-1M316 534h1v1h-1M325 535h1v1h-1M110 536h1v1h-1M159 537h1v1h-1M411 537h1v1h-1M508 537h1v1h-1M278 538h1v1h-1M94 539h1v1h-1M242 539h1v1h-1M366 540h1v1h-1M89 541h1v1h-1M328 541h1v1h-1M73 542h1v1h-1M137 542h1v1h-1M342 542h1v1h-1M155 543h1v1h-1M409 543h1v1h-1M482 543h1v1h-1M219 544h1v1h-1M338 544h1v1h-1M242 545h1v1h-1M158 546h1v1h-1M364 546h1v1h-1M462 546h1v1h-1M527 546h1v1h-1M109 548h1v1h-1M172 548h1v1h-1M589 548h1v1h-1M199 549h1v1h-1M275 550h1v1h-1M437 550h1v1h-1M496 550h1v1h-1M610 550h1v1h-1M525 551h1v1h-1M188 552h1v1h-1M579 552h1v1h-1M95 553h1v1h-1M358 554h1v1h-1M149 557h1v1h-1M71 558h1v1h-1M99 558h1v1h-1M135 558h1v1h-1M109 559h1v1h-1M486 559h1v1h-1M366 560h1v1h-1M176 561h1v1h-1M131 562h1v1h-1M443 563h1v1h-1M126 564h1v1h-1M307 564h1v1h-1M114 565h1v1h-1M175 565h1v1h-1M317 565h1v1h-1M597 565h1v1h-1M95 566h1v1h-1M518 566h1v1h-1M354 567h1v1h-1M358 567h1v1h-1M367 567h1v1h-1M238 568h1v1h-1M302 568h1v1h-1M362 569h1v1h-1M516 570h1v1h-1M541 570h1v1h-1M148 571h1v1h-1M129 572h1v1h-1M347 572h1v1h-1M387 572h1v1h-1M472 573h1v1h-1M425 574h1v1h-1M557 574h1v1h-1M108 575h1v1h-1M163 575h1v1h-1M383 575h1v1h-1M410 575h1v1h-1M322 576h1v1h-1M429 578h1v1h-1M497 580h1v1h-1M104 581h1v1h-1M507 581h1v1h-1M436 582h1v1h-1M120 583h1v1h-1M142 585h1v1h-1M189 585h1v1h-1M594 585h1v1h-1M150 586h1v1h-1M445 586h1v1h-1M158 587h1v1h-1M163 588h1v1h-1M427 589h1v1h-1M122 590h1v1h-1M247 590h1v1h-1M104 592h1v1h-1M248 592h1v1h-1M272 592h1v1h-1M462 593h1v1h-1M479 593h1v1h-1M175 594h1v1h-1M387 594h1v1h-1M104 595h1v1h-1M375 595h1v1h-1M478 595h1v1h-1M119 598h1v1h-1M424 599h1v1h-1M362 600h1v1h-1M84 601h1v1h-1M220 602h1v1h-1M462 602h1v1h-1M572 602h1v1h-1M120 604h1v1h-1M294 604h1v1h-1M116 605h1v1h-1M162 605h1v1h-1M420 605h1v1h-1M69 607h1v1h-1M283 607h1v1h-1M520 607h1v1h-1M608 607h1v1h-1M154 608h1v1h-1M233 608h1v1h-1M69 609h1v1h-1M382 609h1v1h-1M180 610h1v1h-1M260 610h1v1h-1"/>
<path fill="#a8a8a8" d="M113 69h1v1h-1M222 70h1v1h-1M107 71h1v1h-1M472 71h1v1h-1M198 72h1v1h-1M308 72h1v1h-1M294 74h1v1h-1M353 74h1v1h-1M509 74h1v1h-1M194 75h1v1h-1M234 75h1v1h-1M85 76h1v1h-1M121 76h1v1h-1M134 77h1v1h-1M173 77h1v1h-1M432 77h1v1h-1M162 78h1v1h-1M497 78h1v1h-1M161 79h1v1h-1M136 80h1v1h-1M76 81h1v1h-1M182 83h1v1h-1M72 84h1v1h-1M201 85h1v1h-1M95 86h1v1h-1M144 86h1v1h-1M108 87h1v1h-1M152 87h1v1h-1M77 88h1v1h-1M267 88h1v1h-1M447 88h1v1h-1M230 90h1v1h-1M125 91h1v1h-1M248 91h1v1h-1M76 92h1v1h-1M144 92h1v1h-1M382 92h1v1h-1M365 93h1v1h-1M229 94h1v1h-1M98 97h1v1h-1M152 97h1v1h-1M281 97h1v1h-1M512 97h1v1h-1M504 98h1v1h-1M348 99h1v1h-1M559 99h1v1h-1M330 100h1v1h-1M440 100h1v1h-1M306 104h1v1h-1M201 105h1v1h-1M208 106h1v1h-1M364 106h1v1h-1M186 108h1v1h-1M314 108h1v1h-1M354 108h1v1h-1M122 110h1v1h-1M158 110h1v1h-1M249 111h1v1h-1M463 112h1v1h-1M265 113h1v1h-1M308 113h1v1h-1M179 117h1v1h-1M591 117h1v1h-1M295 118h1v1h-1M141 119h1v1h-1M210 119h1v1h-1M411 120h1v1h-1M453 120h1v1h-1M525 120h1v1h-1M604 121h1v1h-1M71 122h1v1h-1M117 122h1v1h-1M155 122h1v1h-1M122 123h1v1h-1M257 123h1v1h-1M490 123h1v1h-1M131 124h1v1h-1M273 124h1v1h-1M294 124h1v1h-1M113 125h1v1h-1M242 127h1v1h-1M318 127h1v1h-1M546 128h1v1h-1M255 129h1v1h-1M163 130h1v1h-1M200 131h1v1h-1M507 133h1v1h-1M162 134h1v1h-1M522 134h1v1h-1M253 136h1v1h-1M514 137h1v1h-1M102 139h1v1h-1M108 139h1v1h-1M177 140h1v1h-1M180 141h1v1h-1M216 141h1v1h-1M231 143h1v1h-1M191 145h1v1h-1M371 147h1v1h-1M405 147h1v1h-1M429 147h1v1h-1M191 148h1v1h-1M439 148h1v1h-1M196 149h1v1h-1M283 149h1v1h-1M514 149h1v1h-1M309 150h1v1h-1M78 151h1v1h-1M235 151h1v1h-1M522 153h1v1h-1M237 154h1v1h-1M240 155h1v1h-1M515 155h1v1h-1M72 157h1v1h-1M406 157h1v1h-1M171 158h1v1h-1M193 158h1v1h-1M254 158h1v1h-1M307 158h1v1h-1M408 158h1v1h-1M507 158h1v1h-1M606 159h1v1h-1M362 160h1v1h-1M504 160h1v1h-1M142 161h1v1h-1M243 161h1v1h-1M373 161h1v1h-1M494 161h1v1h-1M127 162h1v1h-1M345 162h1v1h-1M155 163h1v1h-1M143 164h1v1h-1M177 164h1v1h-1M376 164h1v1h-1M209 165h1v1h-1M410 165h1v1h-1M333 166h1v1h-1M490 166h1v1h-1M204 167h1v1h-1M472 167h1v1h-1M318 168h1v1h-1M413 168h1v1h-1M443 168h1v1h-1M471 168h1v1h-1M314 169h1v1h-1M418 169h1v1h-1M498 169h1v1h-1M610 170h1v1h-1M322 171h1v1h-1M129 172h1v1h-1M489 172h1v1h-1M178 173h1v1h-1M287 173h1v1h-1M375 175h1v1h-1M90 176h1v1h-1M176 177h1v1h-1M491 177h1v1h-1M208 178h1v1h-1M602 179h1v1h-1M391 180h1v1h-1M537 180h1v1h-1M158 181h1v1h-1M141 182h1v1h-1M124 183h1v1h-1M147 183h1v1h-1M183 185h1v1h-1M493 185h1v1h-1M131 186h1v1h-1M446 187h1v1h-1M467 187h1v1h-1M490 187h1v1h-1M118 188h1v1h-1M298 190h1v1h-1M98 191h1v1h-1M139 191h1v1h-1M96 192h1v1h-1M210 192h1v1h-1M219 192h1v1h-1M119 193h1v1h-1M456 193h1v1h-1M493 193h1v1h-1M74 194h1v1h-1M279 194h1v1h-1M206 195h1v1h-1M243 195h1v1h-1M450 195h1v1h-1M75 196h1v1h-1M191 196h1v1h-1M114 197h1v1h-1M77 199h1v1h-1M532 201h1v1h-1M262 206h1v1h-1M114 207h1v1h-1M326 207h1v1h-1M564 207h1v1h-1M168 208h1v1h-1M563 208h1v1h-1M581 208h1v1h-1M405 209h1v1h-1M520 209h1v1h-1M583 210h1v1h-1M229 211h1v1h-1M161 212h1v1h-1M198 213h1v1h-1M269 213h1v1h-1M277 213h1v1h-1M308 213h1v1h-1M402 214h1v1h-1M184 215h1v1h-1M262 215h1v1h-1M234 216h1v1h-1M308 216h1v1h-1M94 217h1v1h-1M102 217h1v1h-1M205 217h1v1h-1M261 218h1v1h-1M369 218h1v1h-1M118 219h1v1h-1M370 220h1v1h-1M464 220h1v1h-1M420 223h1v1h-1M430 223h1v1h-1M146 224h1v1h-1M238 224h1v1h-1M599 225h1v1h-1M316 226h1v1h-1M334 226h1v1h-1M78 227h1v1h-1M138 229h1v1h-1M180 229h1v1h-1M290 229h1v1h-1M557 229h1v1h-1M398 230h1v1h-1M226 231h1v1h-1M359 231h1v1h-1M577 231h1v1h-1M207 232h1v1h-1M236 232h1v1h-1M393 232h1v1h-1M471 232h1v1h-1M260 236h1v1h-1M551 236h1v1h-1M292 237h1v1h-1M190 238h1v1h-1M306 238h1v1h-1M522 238h1v1h-1M82 239h1v1h-1M173 242h1v1h-1M188 243h1v1h-1M125 245h1v1h-1M504 245h1v1h-1M114 246h1v1h-1M157 246h1v1h-1M500 246h1v1h-1M528 246h1v1h-1M90 247h1v1h-1M265 248h1v1h-1M593 249h1v1h-1M164 251h1v1h-1M410 251h1v1h-1M95 252h1v1h-1M124 252h1v1h-1M300 253h1v1h-1M588 253h1v1h-1M97 254h1v1h-1M132 254h1v1h-1M318 254h1v1h-1M327 254h1v1h-1M194 255h1v1h-1M208 257h1v1h-1M347 257h1v1h-1M406 257h1v1h-1M137 258h1v1h-1M207 258h1v1h-1M347 258h1v1h-1M282 259h1v1h-1M320 259h1v1h-1M408 259h1v1h-1M267 260h1v1h-1M77 261h1v1h-1M110 261h1v1h-1M335 262h1v1h-1M163 263h1v1h-1M162 264h1v1h-1M240 264h1v1h-1M259 264h1v1h-1M405 264h1v1h-1M445 264h1v1h-1M142 265h1v1h-1M239 265h1v1h-1M78 267h1v1h-1M179 267h1v1h-1M203 267h1v1h-1M233 267h1v1h-1M331 267h1v1h-1M191 268h1v1h-1M196 268h1v1h-1M539 268h1v1h-1M107 270h1v1h-1M318 271h1v1h-1M361 271h1v1h-1M428 271h1v1h-1M309 273h1v1h-1M245 276h1v1h-1M71 277h1v1h-1M164 277h1v1h-1M460 277h1v1h-1M516 277h1v1h-1M580 277h1v1h-1M599 277h1v1h-1M294 278h1v1h-1M417 278h1v1h-1M78 279h1v1h-1M108 279h1v1h-1M98 280h1v1h-1M199 280h1v1h-1M557 280h1v1h-1M102 283h1v1h-1M304 283h1v1h-1M291 284h1v1h-1M511 284h1v1h-1M533 284h1v1h-1M190 285h1v1h-1M364 285h1v1h-1M141 286h1v1h-1M143 286h1v1h-1M130 287h1v1h-1M138 287h1v1h-1M294 287h1v1h-1M192 288h1v1h-1M266 288h1v1h-1M348 288h1v1h-1M375 288h1v1h-1M394 289h1v1h-1M90 290h1v1h-1M318 290h1v1h-1M205 291h1v1h-1M319 291h1v1h-1M356 291h1v1h-1M92 292h1v1h-1M541 293h1v1h-1M542 293h1v1h-1M590 293h1v1h-1M222 294h1v1h-1M595 294h1v1h-1M198 295h1v1h-1M367 295h1v1h-1M489 295h1v1h-1M239 296h1v1h-1M436 296h1v1h-1M113 297h1v1h-1M155 297h1v1h-1M239 297h1v1h-1M476 297h1v1h-1M138 299h1v1h-1M343 299h1v1h-1M371 299h1v1h-1M495 299h1v1h-1M564 299h1v1h-1M272 300h1v1h-1M196 301h1v1h-1M220 301h1v1h-1M515 301h1v1h-1M248 302h1v1h-1M444 302h1v1h-1M527 302h1v1h-1M74 303h1v1h-1M126 303h1v1h-1M308 303h1v1h-1M607 303h1v1h-1M610 303h1v1h-1M311 305h1v1h-1M408 305h1v1h-1M582 305h1v1h-1M84 307h1v1h-1M211 307h1v1h-1M216 307h1v1h-1M271 307h1v1h-1M283 307h1v1h-1M212 308h1v1h-1M502 308h1v1h-1M420 309h1v1h-1M511 309h1v1h-1M557 309h1v1h-1M391 310h1v1h-1M109 311h1v1h-1M150 311h1v1h-1M289 315h1v1h-1M413 315h1v1h-1M169 316h1v1h-1M557 316h1v1h-1M249 317h1v1h-1M69 318h1v1h-1M320 318h1v1h-1M81 319h1v1h-1M586 320h1v1h-1M474 321h1v1h-1M346 322h1v1h-1M94 323h1v1h-1M338 323h1v1h-1M369 323h1v1h-1M499 323h1v1h-1M76 324h1v1h-1M103 324h1v1h-1M229 325h1v1h-1M167 326h1v1h-1M263 326h1v1h-1M420 327h1v1h-1M491 328h1v1h-1M76 331h1v1h-1M108 331h1v1h-1M281 331h1v1h-1M473 332h1v1h-1M586 332h1v1h-1M143 334h1v1h-1M179 335h1v1h-1M353 335h1v1h-1M488 335h1v1h-1M262 336h1v1h-1M271 336h1v1h-1M300 336h1v1h-1M276 338h1v1h-1M477 338h1v1h-1M232 341h1v1h-1M540 341h1v1h-1M148 342h1v1h-1M78 343h1v1h-1M316 343h1v1h-1M546 343h1v1h-1M171 344h1v1h-1M195 345h1v1h-1M102 346h1v1h-1M323 346h1v1h-1M223 347h1v1h-1M500 347h1v1h-1M515 348h1v1h-1M360 352h1v1h-1M412 352h1v1h-1M297 353h1v1h-1M470 353h1v1h-1M535 353h1v1h-1M261 354h1v1h-1M533 354h1v1h-1M94 355h1v1h-1M173 355h1v1h-1M379 355h1v1h-1M403 355h1v1h-1M428 355h1v1h-1M365 357h1v1h-1M108 358h1v1h-1M131 358h1v1h-1M213 360h1v1h-1M223 360h1v1h-1M250 362h1v1h-1M550 362h1v1h-1M338 363h1v1h-1M459 364h1v1h-1M154 365h1v1h-1M246 365h1v1h-1M341 365h1v1h-1M508 365h1v1h-1M150 366h1v1h-1M152 366h1v1h-1M438 366h1v1h-1M450 366h1v1h-1M505 367h1v1h-1M594 367h1v1h-1M73 368h1v1h-1M111 368h1v1h-1M399 368h1v1h-1M218 369h1v1h-1M245 369h1v1h-1M267 369h1v1h-1M147 372h1v1h-1M177 372h1v1h-1M423 372h1v1h-1M519 373h1v1h-1M192 374h1v1h-1M521 374h1v1h-1M72 375h1v1h-1M229 377h1v1h-1M415 378h1v1h-1M84 379h1v1h-1M117 379h1v1h-1M420 379h1v1h-1M422 379h1v1h-1M70 380h1v1h-1M294 380h1v1h-1M397 380h1v1h-1M73 381h1v1h-1M81 381h1v1h-1M608 384h1v1h-1M85 385h1v1h-1M284 386h1v1h-1M97 387h1v1h-1M507 387h1v1h-1M279 388h1v1h-1M545 389h1v1h-1M69 390h1v1h-1M157 390h1v1h-1M177 390h1v1h-1M247 391h1v1h-1M152 392h1v1h-1M157 392h1v1h-1M170 392h1v1h-1M292 392h1v1h-1M496 392h1v1h-1M179 393h1v1h-1M321 393h1v1h-1M330 394h1v1h-1M486 394h1v1h-1M546 395h1v1h-1M561 395h1v1h-1M407 396h1v1h-1M570 397h1v1h-1M333 399h1v1h-1M172 400h1v1h-1M558 400h1v1h-1M280 401h1v1h-1M476 402h1v1h-1M107 403h1v1h-1M161 403h1v1h-1M388 403h1v1h-1M93 406h1v1h-1M219 406h1v1h-1M412 406h1v1h-1M208 407h1v1h-1M271 408h1v1h-1M105 409h1v1h-1M490 409h1v1h-1M150 411h1v1h-1M157 411h1v1h-1M250 411h1v1h-1M409 412h1v1h-1M428 413h1v1h-1M464 413h1v1h-1M502 413h1v1h-1M456 414h1v1h-1M248 415h1v1h-1M403 415h1v1h-1M125 416h1v1h-1M345 417h1v1h-1M574 417h1v1h-1M74 418h1v1h-1M192 418h1v1h-1M224 418h1v1h-1M435 419h1v1h-1M135 420h1v1h-1M324 421h1v1h-1M351 421h1v1h-1M175 422h1v1h-1M294 422h1v1h-1M93 423h1v1h-1M161 423h1v1h-1M405 423h1v1h-1M512 424h1v1h-1M78 425h1v1h-1M117 425h1v1h-1M187 425h1v1h-1M216 425h1v1h-1M299 425h1v1h-1M392 425h1v1h-1M150 426h1v1h-1M163 426h1v1h-1M394 426h1v1h-1M531 428h1v1h-1M532 428h1v1h-1M285 434h1v1h-1M214 435h1v1h-1M311 435h1v1h-1M272 436h1v1h-1M410 436h1v1h-1M202 437h1v1h-1M360 437h1v1h-1M449 437h1v1h-1M230 440h1v1h-1M146 441h1v1h-1M400 442h1v1h-1M188 443h1v1h-1M339 443h1v1h-1M127 444h1v1h-1M141 444h1v1h-1M508 444h1v1h-1M142 445h1v1h-1M457 447h1v1h-1M397 449h1v1h-1M69 450h1v1h-1M214 450h1v1h-1M231 450h1v1h-1M277 451h1v1h-1M119 452h1v1h-1M474 453h1v1h-1M82 454h1v1h-1M367 454h1v1h-1M368 454h1v1h-1M351 456h1v1h-1M84 457h1v1h-1M179 457h1v1h-1M519 457h1v1h-1M124 458h1v1h-1M250 458h1v1h-1M479 458h1v1h-1M201 459h1v1h-1M84 461h1v1h-1M306 461h1v1h-1M378 462h1v1h-1M409 463h1v1h-1M497 463h1v1h-1M95 464h1v1h-1M144 464h1v1h-1M588 466h1v1h-1M185 468h1v1h-1M280 469h1v1h-1M309 469h1v1h-1M454 470h1v1h-1M141 471h1v1h-1M316 471h1v1h-1M497 471h1v1h-1M335 473h1v1h-1M186 474h1v1h-1M436 474h1v1h-1M503 474h1v1h-1M144 475h1v1h-1M345 475h1v1h-1M223 476h1v1h-1M599 476h1v1h-1M100 477h1v1h-1M223 477h1v1h-1M226 477h1v1h-1M231 477h1v1h-1M375 478h1v1h-1M386 478h1v1h-1M104 479h1v1h-1M184 480h1v1h-1M279 480h1v1h-1M190 481h1v1h-1M276 482h1v1h-1M290 482h1v1h-1M107 483h1v1h-1M77 484h1v1h-1M262 484h1v1h-1M135 485h1v1h-1M384 485h1v1h-1M493 486h1v1h-1M511 487h1v1h-1M456 489h1v1h-1M107 490h1v1h-1M290 490h1v1h-1M255 492h1v1h-1M242 493h1v1h-1M214 494h1v1h-1M197 495h1v1h-1M74 496h1v1h-1M221 497h1v1h-1M244 497h1v1h-1M331 497h1v1h-1M123 499h1v1h-1M419 499h1v1h-1M464 499h1v1h-1M514 500h1v1h-1M70 501h1v1h-1M103 502h1v1h-1M226 503h1v1h-1M93 505h1v1h-1M149 505h1v1h-1M496 505h1v1h-1M504 505h1v1h-1M305 506h1v1h-1M143 507h1v1h-1M239 508h1v1h-1M533 508h1v1h-1M577 508h1v1h-1M312 510h1v1h-1M185 511h1v1h-1M184 512h1v1h-1M520 512h1v1h-1M547 512h1v1h-1M337 513h1v1h-1M401 513h1v1h-1M608 513h1v1h-1M122 514h1v1h-1M506 514h1v1h-1M565 514h1v1h-1M135 515h1v1h-1M276 515h1v1h-1M120 518h1v1h-1M533 520h1v1h-1M124 521h1v1h-1M384 522h1v1h-1M73 523h1v1h-1M114 523h1v1h-1M210 523h1v1h-1M317 523h1v1h-1M226 524h1v1h-1M359 524h1v1h-1M85 525h1v1h-1M90 525h1v1h-1M165 525h1v1h-1M339 525h1v1h-1M436 525h1v1h-1M332 526h1v1h-1M186 527h1v1h-1M121 528h1v1h-1M127 529h1v1h-1M170 529h1v1h-1M214 529h1v1h-1M314 530h1v1h-1M427 530h1v1h-1M607 530h1v1h-1M80 533h1v1h-1M308 534h1v1h-1M504 534h1v1h-1M380 535h1v1h-1M541 536h1v1h-1M286 537h1v1h-1M320 538h1v1h-1M331 539h1v1h-1M514 539h1v1h-1M87 540h1v1h-1M167 540h1v1h-1M262 540h1v1h-1M416 540h1v1h-1M79 542h1v1h-1M122 542h1v1h-1M146 542h1v1h-1M208 542h1v1h-1M378 542h1v1h-1M136 543h1v1h-1M496 543h1v1h-1M399 544h1v1h-1M78 545h1v1h-1M102 545h1v1h-1M338 545h1v1h-1M437 545h1v1h-1M220 546h1v1h-1M131 547h1v1h-1M217 547h1v1h-1M281 548h1v1h-1M153 549h1v1h-1M550 549h1v1h-1M339 550h1v1h-1M78 551h1v1h-1M88 551h1v1h-1M182 551h1v1h-1M430 552h1v1h-1M93 553h1v1h-1M115 553h1v1h-1M283 553h1v1h-1M456 553h1v1h-1M460 553h1v1h-1M178 555h1v1h-1M227 555h1v1h-1M442 555h1v1h-1M386 557h1v1h-1M543 557h1v1h-1M152 558h1v1h-1M171 558h1v1h-1M314 559h1v1h-1M477 560h1v1h-1M549 560h1v1h-1M404 563h1v1h-1M426 564h1v1h-1M113 565h1v1h-1M337 565h1v1h-1M512 565h1v1h-1M160 567h1v1h-1M248 567h1v1h-1M477 567h1v1h-1M138 568h1v1h-1M102 569h1v1h-1M428 569h1v1h-1M90 570h1v1h-1M176 570h1v1h-1M213 570h1v1h-1M344 571h1v1h-1M419 571h1v1h-1M106 572h1v1h-1M530 572h1v1h-1M244 573h1v1h-1M405 574h1v1h-1M139 575h1v1h-1M191 575h1v1h-1M270 576h1v1h-1M376 576h1v1h-1M405 576h1v1h-1M433 576h1v1h-1M148 577h1v1h-1M151 577h1v1h-1M330 577h1v1h-1M207 578h1v1h-1M513 578h1v1h-1M599 580h1v1h-1M453 582h1v1h-1M70 583h1v1h-1M288 584h1v1h-1M559 584h1v1h-1M576 584h1v1h-1M268 585h1v1h-1M598 585h1v1h-1M532 586h1v1h-1M241 587h1v1h-1M537 588h1v1h-1M309 589h1v1h-1M405 589h1v1h-1M140 590h1v1h-1M341 590h1v1h-1M566 592h1v1h-1M586 592h1v1h-1M94 593h1v1h-1M314 593h1v1h-1M507 593h1v1h-1M115 594h1v1h-1M178 594h1v1h-1M504 594h1v1h-1M92 595h1v1h-1M285 595h1v1h-1M387 595h1v1h-1M80 596h1v1h-1M81 596h1v1h-1M333 596h1v1h-1M77 597h1v1h-1M110 597h1v1h-1M453 597h1v1h-1M465 597h1v1h-1M463 598h1v1h-1M498 598h1v1h-1M107 599h1v1h-1M419 599h1v1h-1M88 600h1v1h-1M240 600h1v1h-1M152 601h1v1h-1M173 601h1v1h-1M474 601h1v1h-1M129 602h1v1h-1M309 602h1v1h-1M328 602h1v1h-1M522 602h1v1h-1M123 603h1v1h-1M228 603h1v1h-1M356 603h1v1h-1M476 603h1v1h-1M73 604h1v1h-1M149 605h1v1h-1M328 605h1v1h-1M363 605h1v1h-1M72 606h1v1h-1M583 606h1v1h-1M74 607h1v1h-1M127 607h1v1h-1M256 608h1v1h-1M267 608h1v1h-1M349 608h1v1h-1M243 609h1v1h-1M176 610h1v1h-1M227 610h1v1h-1"/>
<path fill="#808080" d="M189 73h1v1h-1M249 74h1v1h-1M271 79h1v1h-1M463 81h1v1h-1M578 81h1v1h-1M118 85h1v1h-1M76 92h1v1h-1M245 92h1v1h-1M83 93h1v1h-1M91 93h1v1h-1M114 96h1v1h-1M252 98h1v1h-1M576 98h1v1h-1M528 99h1v1h-1M70 100h1v1h-1M152 103h1v1h-1M585 105h1v1h-1M459 111h1v1h-1M259 112h1v1h-1M314 113h1v1h-1M362 116h1v1h-1M149 118h1v1h-1M113 119h1v1h-1M480 121h1v1h-1M178 122h1v1h-1M224 122h1v1h-1M448 123h1v1h-1M236 124h1v1h-1M492 125h1v1h-1M69 129h1v1h-1M134 132h1v1h-1M203 134h1v1h-1M216 135h1v1h-1M293 137h1v1h-1M507 137h1v1h-1M546 138h1v1h-1M139 139h1v1h-1M222 140h1v1h-1M400 144h1v1h-1M109 145h1v1h-1M372 146h1v1h-1M141 149h1v1h-1M280 151h1v1h-1M168 154h1v1h-1M369 154h1v1h-1M124 155h1v1h-1M194 155h1v1h-1M147 157h1v1h-1M180 157h1v1h-1M115 159h1v1h-1M90 161h1v1h-1M471 161h1v1h-1M339 167h1v1h-1M235 168h1v1h-1M362 169h1v1h-1M364 169h1v1h-1M442 171h1v1h-1M339 172h1v1h-1M529 172h1v1h-1M299 173h1v1h-1M428 178h1v1h-1M100 182h1v1h-1M202 182h1v1h-1M129 183h1v1h-1M125 185h1v1h-1M278 185h1v1h-1M284 186h1v1h-1M601 189h1v1h-1M180 191h1v1h-1M499 195h1v1h-1M223 200h1v1h-1M307 200h1v1h-1M166 203h1v1h-1M498 204h1v1h-1M172 205h1v1h-1M214 208h1v1h-1M300 208h1v1h-1M162 209h1v1h-1M543 210h1v1h-1M255 213h1v1h-1M464 220h1v1h-1M210 221h1v1h-1M228 221h1v1h-1M301 223h1v1h-1M568 223h1v1h-1M521 225h1v1h-1M431 228h1v1h-1M238 229h1v1h-1M580 229h1v1h-1M410 232h1v1h-1M142 233h1v1h-1M303 241h1v1h-1M321 241h1v1h-1M362 242h1v1h-1M185 247h1v1h-1M206 256h1v1h-1M431 261h1v1h-1M513 261h1v1h-1M212 262h1v1h-1M172 265h1v1h-1M117 268h1v1h-1M136 268h1v1h-1M98 270h1v1h-1M217 270h1v1h-1M307 272h1v1h-1M465 274h1v1h-1M258 275h1v1h-1M118 276h1v1h-1M279 277h1v1h-1M288 279h1v1h-1M165 280h1v1h-1M571 280h1v1h-1M394 282h1v1h-1M91 283h1v1h-1M468 283h1v1h-1M196 285h1v1h-1M599 285h1v1h-1M340 287h1v1h-1M190 292h1v1h-1M357 293h1v1h-1M464 296h1v1h-1M152 301h1v1h-1M151 303h1v1h-1M326 304h1v1h-1M185 306h1v1h-1M551 306h1v1h-1M116 307h1v1h-1M128 309h1v1h-1M135 309h1v1h-1M105 310h1v1h-1M212 310h1v1h-1M201 315h1v1h-1M386 317h1v1h-1M544 317h1v1h-1M122 320h1v1h-1M393 326h1v1h-1M340 329h1v1h-1M130 330h1v1h-1M260 331h1v1h-1M392 335h1v1h-1M458 335h1v1h-1M547 336h1v1h-1M376 338h1v1h-1M209 341h1v1h-1M299 343h1v1h-1M367 344h1v1h-1M256 346h1v1h-1M402 348h1v1h-1M472 348h1v1h-1M77 350h1v1h-1M98 352h1v1h-1M335 354h1v1h-1M291 356h1v1h-1M171 358h1v1h-1M123 359h1v1h-1M267 360h1v1h-1M185 364h1v1h-1M254 364h1v1h-1M319 365h1v1h-1M602 365h1v1h-1M375 367h1v1h-1M151 369h1v1h-1M423 369h1v1h-1M238 372h1v1h-1M393 372h1v1h-1M458 373h1v1h-1M298 374h1v1h-1M416 375h1v1h-1M194 376h1v1h-1M164 378h1v1h-1M602 378h1v1h-1M146 379h1v1h-1M196 379h1v1h-1M514 381h1v1h-1M483 389h1v1h-1M531 393h1v1h-1M406 394h1v1h-1M439 394h1v1h-1M229 400h1v1h-1M501 400h1v1h-1M211 401h1v1h-1M120 403h1v1h-1M252 407h1v1h-1M128 408h1v1h-1M81 409h1v1h-1M244 410h1v1h-1M591 410h1v1h-1M467 412h1v1h-1M438 414h1v1h-1M334 415h1v1h-1M237 416h1v1h-1M363 419h1v1h-1M177 420h1v1h-1M330 423h1v1h-1M373 424h1v1h-1M321 428h1v1h-1M515 429h1v1h-1M101 432h1v1h-1M129 435h1v1h-1M378 435h1v1h-1M182 436h1v1h-1M131 437h1v1h-1M249 442h1v1h-1M576 442h1v1h-1M266 445h1v1h-1M84 447h1v1h-1M267 451h1v1h-1M310 452h1v1h-1M359 452h1v1h-1M602 453h1v1h-1M172 457h1v1h-1M445 457h1v1h-1M176 458h1v1h-1M186 461h1v1h-1M273 461h1v1h-1M523 461h1v1h-1M209 462h1v1h-1M189 463h1v1h-1M435 463h1v1h-1M472 464h1v1h-1M69 465h1v1h-1M96 470h1v1h-1M506 470h1v1h-1M535 471h1v1h-1M521 472h1v1h-1M98 473h1v1h-1M386 473h1v1h-1M185 474h1v1h-1M610 475h1v1h-1M424 476h1v1h-1M79 478h1v1h-1M364 478h1v1h-1M304 481h1v1h-1M210 483h1v1h-1M170 485h1v1h-1M508 485h1v1h-1M245 487h1v1h-1M363 487h1v1h-1M491 489h1v1h-1M273 490h1v1h-1M183 491h1v1h-1M194 491h1v1h-1M368 491h1v1h-1M70 492h1v1h-1M193 492h1v1h-1M196 492h1v1h-1M529 492h1v1h-1M356 493h1v1h-1M411 494h1v1h-1M473 494h1v1h-1M371 500h1v1h-1M478 500h1v1h-1M289 504h1v1h-1M94 507h1v1h-1M226 508h1v1h-1M373 508h1v1h-1M386 509h1v1h-1M488 509h1v1h-1M411 511h1v1h-1M145 519h1v1h-1M241 521h1v1h-1M251 521h1v1h-1M511 521h1v1h-1M415 526h1v1h-1M367 527h1v1h-1M393 527h1v1h-1M577 528h1v1h-1M171 529h1v1h-1M473 531h1v1h-1M259 532h1v1h-1M104 534h1v1h-1M517 534h1v1h-1M454 535h1v1h-1M235 536h1v1h-1M447 536h1v1h-1M161 540h1v1h-1M132 541h1v1h-1M606 542h1v1h-1M197 543h1v1h-1M450 543h1v1h-1M95 545h1v1h-1M140 550h1v1h-1M297 553h1v1h-1M357 561h1v1h-1M87 563h1v1h-1M391 564h1v1h-1M310 571h1v1h-1M479 572h1v1h-1M82 574h1v1h-1M69 575h1v1h-1M259 575h1v1h-1M398 575h1v1h-1M82 576h1v1h-1M263 576h1v1h-1M79 579h1v1h-1M323 579h1v1h-1M578 582h1v1h-1M380 583h1v1h-1M465 583h1v1h-1M119 584h1v1h-1M486 584h1v1h-1M511 584h1v1h-1M503 587h1v1h-1M77 590h1v1h-1M88 590h1v1h-1M446 592h1v1h-1M103 593h1v1h-1M340 594h1v1h-1M248 595h1v1h-1M250 596h1v1h-1M330 596h1v1h-1M336 596h1v1h-1M357 596h1v1h-1M375 597h1v1h-1M257 598h1v1h-1M356 598h1v1h-1M479 598h1v1h-1M255 602h1v1h-1M520 602h1v1h-1M115 604h1v1h-1M488 604h1v1h-1M342 605h1v1h-1M180 608h1v1h-1M201 608h1v1h-1M282 608h1v1h-1M142 609h1v1h-1M180 609h1v1h-1M295 609h1v1h-1M98 610h1v1h-1M159 610h1v1h-1"/>
<path fill="#686868" d="M306 71h1v1h-1M141 73h1v1h-1M563 74h1v1h-1M346 78h1v1h-1M118 79h1v1h-1M347 85h1v1h-1M313 86h1v1h-1M356 86h1v1h-1M220 87h1v1h-1M202 88h1v1h-1M373 88h1v1h-1M220 91h1v1h-1M403 93h1v1h-1M134 97h1v1h-1M393 98h1v1h-1M329 102h1v1h-1M295 107h1v1h-1M70 108h1v1h-1M609 111h1v1h-1M99 112h1v1h-1M136 114h1v1h-1M313 115h1v1h-1M594 116h1v1h-1M420 117h1v1h-1M338 119h1v1h-1M87 120h1v1h-1M223 121h1v1h-1M174 122h1v1h-1M101 125h1v1h-1M142 127h1v1h-1M416 127h1v1h-1M407 129h1v1h-1M537 130h1v1h-1M74 132h1v1h-1M408 132h1v1h-1M121 133h1v1h-1M298 140h1v1h-1M193 143h1v1h-1M88 144h1v1h-1M352 145h1v1h-1M282 146h1v1h-1M122 150h1v1h-1M340 150h1v1h-1M82 154h1v1h-1M94 157h1v1h-1M382 159h1v1h-1M375 161h1v1h-1M181 162h1v1h-1M539 163h1v1h-1M142 167h1v1h-1M497 167h1v1h-1M571 167h1v1h-1M545 168h1v1h-1M385 170h1v1h-1M248 171h1v1h-1M195 172h1v1h-1M158 174h1v1h-1M521 174h1v1h-1M472 178h1v1h-1M579 178h1v1h-1M80 179h1v1h-1M154 181h1v1h-1M197 186h1v1h-1M276 190h1v1h-1M316 194h1v1h-1M109 198h1v1h-1M572 198h1v1h-1M347 199h1v1h-1M81 203h1v1h-1M355 211h1v1h-1M189 219h1v1h-1M397 220h1v1h-1M391 222h1v1h-1M90 224h1v1h-1M100 225h1v1h-1M243 226h1v1h-1M353 226h1v1h-1M72 227h1v1h-1M102 228h1v1h-1M523 230h1v1h-1M292 233h1v1h-1M149 234h1v1h-1M305 236h1v1h-1M140 238h1v1h-1M88 239h1v1h-1M379 240h1v1h-1M234 241h1v1h-1M568 242h1v1h-1M462 244h1v1h-1M207 246h1v1h-1M125 248h1v1h-1M542 249h1v1h-1M560 249h1v1h-1M147 250h1v1h-1M180 251h1v1h-1M223 253h1v1h-1M409 253h1v1h-1M503 256h1v1h-1M408 260h1v1h-1M375 261h1v1h-1M210 264h1v1h-1M335 267h1v1h-1M472 267h1v1h-1M250 275h1v1h-1M141 276h1v1h-1M531 277h1v1h-1M79 279h1v1h-1M92 282h1v1h-1M562 287h1v1h-1M556 288h1v1h-1M547 295h1v1h-1M75 296h1v1h-1M161 296h1v1h-1M199 298h1v1h-1M115 304h1v1h-1M81 306h1v1h-1M436 308h1v1h-1M585 308h1v1h-1M106 310h1v1h-1M304 310h1v1h-1M233 312h1v1h-1M352 312h1v1h-1M463 312h1v1h-1M498 312h1v1h-1M606 315h1v1h-1M305 319h1v1h-1M421 320h1v1h-1M70 321h1v1h-1M353 321h1v1h-1M103 325h1v1h-1M115 326h1v1h-1M304 326h1v1h-1M489 326h1v1h-1M577 326h1v1h-1M89 330h1v1h-1M147 332h1v1h-1M76 334h1v1h-1M85 335h1v1h-1M418 338h1v1h-1M417 341h1v1h-1M385 343h1v1h-1M276 345h1v1h-1M360 346h1v1h-1M500 346h1v1h-1M151 347h1v1h-1M209 347h1v1h-1M339 348h1v1h-1M124 349h1v1h-1M222 349h1v1h-1M156 350h1v1h-1M223 350h1v1h-1M604 351h1v1h-1M135 357h1v1h-1M153 357h1v1h-1M523 363h1v1h-1M522 364h1v1h-1M199 365h1v1h-1M572 370h1v1h-1M85 371h1v1h-1M96 371h1v1h-1M553 372h1v1h-1M576 372h1v1h-1M309 373h1v1h-1M382 373h1v1h-1M277 374h1v1h-1M221 375h1v1h-1M355 375h1v1h-1M601 379h1v1h-1M181 380h1v1h-1M271 386h1v1h-1M241 387h1v1h-1M107 397h1v1h-1M310 398h1v1h-1M503 399h1v1h-1M231 400h1v1h-1M254 405h1v1h-1M227 406h1v1h-1M136 407h1v1h-1M411 407h1v1h-1M475 407h1v1h-1M581 410h1v1h-1M135 413h1v1h-1M100 414h1v1h-1M382 415h1v1h-1M314 416h1v1h-1M465 418h1v1h-1M558 423h1v1h-1M401 426h1v1h-1M201 428h1v1h-1M178 430h1v1h-1M309 430h1v1h-1M316 430h1v1h-1M382 430h1v1h-1M191 433h1v1h-1M318 433h1v1h-1M602 433h1v1h-1M249 434h1v1h-1M149 436h1v1h-1M204 436h1v1h-1M297 437h1v1h-1M100 440h1v1h-1M574 440h1v1h-1M274 441h1v1h-1M298 441h1v1h-1M234 442h1v1h-1M563 442h1v1h-1M447 443h1v1h-1M358 444h1v1h-1M180 446h1v1h-1M323 451h1v1h-1M458 456h1v1h-1M448 457h1v1h-1M314 458h1v1h-1M232 460h1v1h-1M375 462h1v1h-1M124 463h1v1h-1M361 465h1v1h-1M413 468h1v1h-1M408 469h1v1h-1M243 471h1v1h-1M437 475h1v1h-1M235 479h1v1h-1M579 480h1v1h-1M167 485h1v1h-1M565 485h1v1h-1M103 488h1v1h-1M534 488h1v1h-1M108 490h1v1h-1M225 490h1v1h-1M228 491h1v1h-1M252 492h1v1h-1M221 493h1v1h-1M468 494h1v1h-1M528 494h1v1h-1M159 495h1v1h-1M173 495h1v1h-1M365 496h1v1h-1M453 497h1v1h-1M359 501h1v1h-1M538 506h1v1h-1M395 507h1v1h-1M302 508h1v1h-1M475 508h1v1h-1M227 516h1v1h-1M227 521h1v1h-1M459 521h1v1h-1M473 522h1v1h-1M184 523h1v1h-1M233 525h1v1h-1M99 530h1v1h-1M486 530h1v1h-1M149 531h1v1h-1M159 531h1v1h-1M368 531h1v1h-1M293 533h1v1h-1M141 534h1v1h-1M135 535h1v1h-1M552 536h1v1h-1M107 537h1v1h-1M602 537h1v1h-1M465 539h1v1h-1M296 541h1v1h-1M609 542h1v1h-1M537 544h1v1h-1M206 545h1v1h-1M321 545h1v1h-1M302 547h1v1h-1M106 548h1v1h-1M362 548h1v1h-1M73 550h1v1h-1M101 551h1v1h-1M610 551h1v1h-1M239 553h1v1h-1M536 553h1v1h-1M221 554h1v1h-1M415 555h1v1h-1M465 555h1v1h-1M102 557h1v1h-1M225 557h1v1h-1M140 559h1v1h-1M221 560h1v1h-1M369 561h1v1h-1M123 565h1v1h-1M150 566h1v1h-1M159 566h1v1h-1M192 566h1v1h-1M174 567h1v1h-1M267 567h1v1h-1M422 568h1v1h-1M566 568h1v1h-1M288 573h1v1h-1M340 573h1v1h-1M160 574h1v1h-1M443 577h1v1h-1M411 578h1v1h-1M201 580h1v1h-1M360 581h1v1h-1M464 581h1v1h-1M412 582h1v1h-1M236 583h1v1h-1M342 583h1v1h-1M418 583h1v1h-1M230 585h1v1h-1M432 585h1v1h-1M489 585h1v1h-1M311 586h1v1h-1M114 590h1v1h-1M304 592h1v1h-1M91 593h1v1h-1M305 594h1v1h-1M82 595h1v1h-1M464 599h1v1h-1M510 601h1v1h-1M123 603h1v1h-1M267 603h1v1h-1M450 603h1v1h-1M92 606h1v1h-1M423 607h1v1h-1M320 608h1v1h-1M519 608h1v1h-1"/>
<path fill="#505050" d="M290 69h1v1h-1M396 71h1v1h-1M88 74h1v1h-1M160 78h1v1h-1M174 82h1v1h-1M168 83h1v1h-1M219 83h1v1h-1M191 89h1v1h-1M142 90h1v1h-1M514 90h1v1h-1M411 93h1v1h-1M97 94h1v1h-1M374 98h1v1h-1M560 98h1v1h-1M149 99h1v1h-1M280 99h1v1h-1M141 100h1v1h-1M158 102h1v1h-1M280 102h1v1h-1M282 102h1v1h-1M332 103h1v1h-1M440 103h1v1h-1M176 104h1v1h-1M444 105h1v1h-1M604 106h1v1h-1M258 107h1v1h-1M388 108h1v1h-1M390 108h1v1h-1M128 112h1v1h-1M130 114h1v1h-1M248 115h1v1h-1M587 117h1v1h-1M83 119h1v1h-1M361 121h1v1h-1M508 122h1v1h-1M133 123h1v1h-1M199 123h1v1h-1M326 130h1v1h-1M478 131h1v1h-1M596 134h1v1h-1M103 135h1v1h-1M361 135h1v1h-1M413 139h1v1h-1M426 140h1v1h-1M228 142h1v1h-1M103 143h1v1h-1M91 144h1v1h-1M470 149h1v1h-1M69 150h1v1h-1M77 150h1v1h-1M241 150h1v1h-1M527 150h1v1h-1M502 151h1v1h-1M163 154h1v1h-1M514 154h1v1h-1M593 155h1v1h-1M304 157h1v1h-1M460 158h1v1h-1M567 158h1v1h-1M90 160h1v1h-1M115 160h1v1h-1M522 162h1v1h-1M491 170h1v1h-1M246 171h1v1h-1M497 171h1v1h-1M194 173h1v1h-1M569 173h1v1h-1M184 174h1v1h-1M125 176h1v1h-1M78 178h1v1h-1M178 178h1v1h-1M233 179h1v1h-1M171 182h1v1h-1M358 183h1v1h-1M289 186h1v1h-1M81 187h1v1h-1M477 191h1v1h-1M506 191h1v1h-1M339 192h1v1h-1M277 193h1v1h-1M99 194h1v1h-1M274 194h1v1h-1M489 196h1v1h-1M193 197h1v1h-1M602 198h1v1h-1M570 204h1v1h-1M156 205h1v1h-1M280 206h1v1h-1M571 212h1v1h-1M184 214h1v1h-1M108 215h1v1h-1M531 216h1v1h-1M120 217h1v1h-1M567 217h1v1h-1M295 218h1v1h-1M247 219h1v1h-1M126 220h1v1h-1M126 220h1v1h-1M282 221h1v1h-1M370 221h1v1h-1M392 221h1v1h-1M330 222h1v1h-1M251 229h1v1h-1M83 232h1v1h-1M132 232h1v1h-1M244 234h1v1h-1M235 235h1v1h-1M262 237h1v1h-1M282 237h1v1h-1M116 240h1v1h-1M103 244h1v1h-1M180 244h1v1h-1M168 249h1v1h-1M314 249h1v1h-1M88 251h1v1h-1M382 253h1v1h-1M282 254h1v1h-1M603 254h1v1h-1M599 257h1v1h-1M206 259h1v1h-1M436 261h1v1h-1M378 264h1v1h-1M588 265h1v1h-1M211 266h1v1h-1M445 269h1v1h-1M172 271h1v1h-1M243 273h1v1h-1M567 273h1v1h-1M186 274h1v1h-1M314 274h1v1h-1M478 276h1v1h-1M206 277h1v1h-1M286 277h1v1h-1M373 277h1v1h-1M576 277h1v1h-1M444 279h1v1h-1M295 280h1v1h-1M171 285h1v1h-1M382 287h1v1h-1M166 288h1v1h-1M144 289h1v1h-1M171 289h1v1h-1M199 289h1v1h-1M94 291h1v1h-1M268 291h1v1h-1M545 291h1v1h-1M590 291h1v1h-1M369 292h1v1h-1M78 293h1v1h-1M170 293h1v1h-1M348 300h1v1h-1M134 301h1v1h-1M76 302h1v1h-1M225 302h1v1h-1M287 303h1v1h-1M117 310h1v1h-1M234 312h1v1h-1M315 315h1v1h-1M324 315h1v1h-1M100 316h1v1h-1M381 316h1v1h-1M260 317h1v1h-1M131 321h1v1h-1M502 321h1v1h-1M171 322h1v1h-1M546 322h1v1h-1M351 324h1v1h-1M356 324h1v1h-1M199 328h1v1h-1M280 328h1v1h-1M70 330h1v1h-1M348 334h1v1h-1M572 334h1v1h-1M169 335h1v1h-1M81 338h1v1h-1M535 338h1v1h-1M206 340h1v1h-1M459 340h1v1h-1M111 341h1v1h-1M491 342h1v1h-1M563 344h1v1h-1M511 348h1v1h-1M403 349h1v1h-1M548 352h1v1h-1M289 353h1v1h-1M165 354h1v1h-1M391 358h1v1h-1M253 359h1v1h-1M310 361h1v1h-1M600 361h1v1h-1M523 367h1v1h-1M555 367h1v1h-1M570 368h1v1h-1M161 369h1v1h-1M352 369h1v1h-1M193 373h1v1h-1M93 374h1v1h-1M86 377h1v1h-1M272 377h1v1h-1M93 379h1v1h-1M129 380h1v1h-1M145 384h1v1h-1M398 384h1v1h-1M126 386h1v1h-1M500 388h1v1h-1M277 389h1v1h-1M471 391h1v1h-1M370 392h1v1h-1M208 394h1v1h-1M477 394h1v1h-1M232 395h1v1h-1M381 395h1v1h-1M340 397h1v1h-1M115 398h1v1h-1M132 399h1v1h-1M237 403h1v1h-1M400 403h1v1h-1M329 405h1v1h-1M107 407h1v1h-1M256 408h1v1h-1M394 408h1v1h-1M341 409h1v1h-1M353 409h1v1h-1M516 409h1v1h-1M578 410h1v1h-1M383 411h1v1h-1M565 412h1v1h-1M105 413h1v1h-1M404 414h1v1h-1M223 417h1v1h-1M185 418h1v1h-1M599 420h1v1h-1M198 426h1v1h-1M204 427h1v1h-1M114 428h1v1h-1M420 430h1v1h-1M112 431h1v1h-1M234 432h1v1h-1M368 433h1v1h-1M397 434h1v1h-1M72 435h1v1h-1M190 438h1v1h-1M315 439h1v1h-1M458 441h1v1h-1M140 442h1v1h-1M198 443h1v1h-1M146 445h1v1h-1M441 445h1v1h-1M120 446h1v1h-1M129 446h1v1h-1M182 446h1v1h-1M437 446h1v1h-1M172 449h1v1h-1M534 449h1v1h-1M308 452h1v1h-1M389 453h1v1h-1M170 454h1v1h-1M175 458h1v1h-1M491 460h1v1h-1M145 461h1v1h-1M577 461h1v1h-1M179 463h1v1h-1M225 465h1v1h-1M195 466h1v1h-1M418 467h1v1h-1M267 469h1v1h-1M462 470h1v1h-1M136 472h1v1h-1M393 476h1v1h-1M186 478h1v1h-1M217 480h1v1h-1M525 482h1v1h-1M323 485h1v1h-1M517 486h1v1h-1M190 488h1v1h-1M320 490h1v1h-1M162 494h1v1h-1M377 494h1v1h-1M175 496h1v1h-1M289 496h1v1h-1M446 497h1v1h-1M277 501h1v1h-1M426 502h1v1h-1M473 505h1v1h-1M196 506h1v1h-1M150 510h1v1h-1M464 511h1v1h-1M246 512h1v1h-1M244 514h1v1h-1M487 517h1v1h-1M70 519h1v1h-1M427 519h1v1h-1M219 520h1v1h-1M436 520h1v1h-1M478 520h1v1h-1M487 523h1v1h-1M493 524h1v1h-1M178 525h1v1h-1M131 529h1v1h-1M284 529h1v1h-1M211 535h1v1h-1M308 535h1v1h-1M457 535h1v1h-1M249 536h1v1h-1M408 539h1v1h-1M464 539h1v1h-1M439 544h1v1h-1M472 550h1v1h-1M93 551h1v1h-1M546 551h1v1h-1M219 552h1v1h-1M238 552h1v1h-1M551 554h1v1h-1M168 555h1v1h-1M276 558h1v1h-1M138 560h1v1h-1M353 562h1v1h-1M407 572h1v1h-1M77 575h1v1h-1M86 575h1v1h-1M437 578h1v1h-1M593 579h1v1h-1M280 581h1v1h-1M76 586h1v1h-1M113 586h1v1h-1M490 588h1v1h-1M268 589h1v1h-1M415 590h1v1h-1M378 592h1v1h-1M420 593h1v1h-1M154 596h1v1h-1M116 598h1v1h-1M122 598h1v1h-1M142 598h1v1h-1M281 598h1v1h-1M239 599h1v1h-1M201 600h1v1h-1M388 600h1v1h-1M379 603h1v1h-1M605 603h1v1h-1M118 606h1v1h-1M81 607h1v1h-1M202 607h1v1h-1M241 607h1v1h-1M143 608h1v1h-1M270 608h1v1h-1M434 608h1v1h-1M608 608h1v1h-1M184 610h1v1h-1M224 610h1v1h-1"/>
<path fill="#606060" d="M166 399h2v2h-2M260 290h2v2h-2M453 181h2v2h-2M499 391h2v2h-2M556 478h2v2h-2M583 377h2v2h-2M248 566h2v2h-2M593 169h2v2h-2M95 389h2v2h-2M90 454h2v2h-2M317 274h2v2h-2M361 200h2v2h-2M549 108h2v2h-2M532 352h2v2h-2M449 400h2v2h-2M336 198h2v2h-2M193 132h2v2h-2M304 582h2v2h-2M202 528h2v2h-2M348 412h2v2h-2"/>
<rect x="68.5" y="68.5" width="543" height="543" fill="none" stroke="#1888ff" stroke-width="1"/>
<path d="M89.5 69V73 M141.5 69V73 M193.5 69V73 M245.5 69V80 M297.5 69V73 M349.5 69V73 M401.5 69V73 M453.5 69V73 M505.5 69V80 M557.5 69V73 M609.5 69V73 M115.5 611V600 M180.5 611V607 M245.5 611V600 M310.5 611V607 M375.5 611V600 M440.5 611V607 M505.5 611V600 M570.5 611V607 M69 71.5H80 M69 116.5H73 M69 161.5H80 M69 207.5H73 M69 252.5H80 M69 297.5H73 M69 343.5H80 M69 388.5H73 M69 433.5H80 M69 479.5H73 M69 524.5H80 M69 569.5H73 M69 608.5H72" stroke="#1888ff" stroke-width="1" fill="none"/>
<text x="95.6" y="96" font-family="&quot;Liberation Serif&quot;" font-size="17.9" fill="#0000ff" text-anchor="start" textLength="21.05" lengthAdjust="spacingAndGlyphs" stroke="#0000ff" stroke-width="0.1">RA</text><text x="126.6" y="96" font-family="&quot;Liberation Serif&quot;" font-size="17.9" fill="#0000ff" text-anchor="start" textLength="11.3" lengthAdjust="spacingAndGlyphs" stroke="#0000ff" stroke-width="0.1">=</text><text x="148.35" y="96" font-family="&quot;Liberation Serif&quot;" font-size="17.9" fill="#0000ff" text-anchor="start" textLength="98.3" lengthAdjust="spacingAndGlyphs" stroke="#0000ff" stroke-width="0.1">273.631458</text><text x="276.6" y="96" font-family="&quot;Liberation Serif&quot;" font-size="17.9" fill="#0000ff" text-anchor="start" textLength="33.3" lengthAdjust="spacingAndGlyphs" stroke="#0000ff" stroke-width="0.1">DEC</text><text x="319.1" y="96" font-family="&quot;Liberation Serif&quot;" font-size="17.9" fill="#0000ff" text-anchor="start" textLength="11.8" lengthAdjust="spacingAndGlyphs" stroke="#0000ff" stroke-width="0.1">=</text><text x="340.85" y="96" font-family="&quot;Liberation Serif&quot;" font-size="17.9" fill="#0000ff" text-anchor="start" textLength="100.55" lengthAdjust="spacingAndGlyphs" stroke="#0000ff" stroke-width="0.1">&#8722;17.157411</text><text x="458.20000000000005" y="96" font-family="&quot;Liberation Serif&quot;" font-size="17.9" fill="#0000ff" text-anchor="start" textLength="41.8" lengthAdjust="spacingAndGlyphs" stroke="#0000ff" stroke-width="0.1">ROLL</text><text x="509.6" y="96" font-family="&quot;Liberation Serif&quot;" font-size="17.9" fill="#0000ff" text-anchor="start" textLength="10.0" lengthAdjust="spacingAndGlyphs" stroke="#0000ff" stroke-width="0.1">=</text><text x="530.0" y="96" font-family="&quot;Liberation Serif&quot;" font-size="17.9" fill="#0000ff" text-anchor="start" textLength="67.0" lengthAdjust="spacingAndGlyphs" stroke="#0000ff" stroke-width="0.1">87.7657</text>
<text x="95.6" y="123" font-family="&quot;Liberation Serif&quot;" font-size="17.9" fill="#0000ff" text-anchor="start" textLength="41.8" lengthAdjust="spacingAndGlyphs" stroke="#0000ff" stroke-width="0.1">YOFF</text><text x="148.35" y="123" font-family="&quot;Liberation Serif&quot;" font-size="17.9" fill="#0000ff" text-anchor="start" textLength="11.55" lengthAdjust="spacingAndGlyphs" stroke="#0000ff" stroke-width="0.1">=</text><text x="185.85" y="123" font-family="&quot;Liberation Serif&quot;" font-size="17.9" fill="#0000ff" text-anchor="start" textLength="48.3" lengthAdjust="spacingAndGlyphs" stroke="#0000ff" stroke-width="0.1">0.000&#8242;</text><text x="277.6" y="123" font-family="&quot;Liberation Serif&quot;" font-size="17.9" fill="#0000ff" text-anchor="start" textLength="41.55" lengthAdjust="spacingAndGlyphs" stroke="#0000ff" stroke-width="0.1">ZOFF</text><text x="328.35" y="123" font-family="&quot;Liberation Serif&quot;" font-size="17.9" fill="#0000ff" text-anchor="start" textLength="12.55" lengthAdjust="spacingAndGlyphs" stroke="#0000ff" stroke-width="0.1">=</text><text x="358.35" y="123" font-family="&quot;Liberation Serif&quot;" font-size="17.9" fill="#0000ff" text-anchor="start" textLength="61.55" lengthAdjust="spacingAndGlyphs" stroke="#0000ff" stroke-width="0.1">0.0000&#8242;</text><text x="458.20000000000005" y="123" font-family="&quot;Liberation Serif&quot;" font-size="17.9" fill="#0000ff" text-anchor="start" textLength="39.0" lengthAdjust="spacingAndGlyphs" stroke="#0000ff" stroke-width="0.1">ZSIM</text><text x="506.8" y="123" font-family="&quot;Liberation Serif&quot;" font-size="17.9" fill="#0000ff" text-anchor="start" textLength="11.4" lengthAdjust="spacingAndGlyphs" stroke="#0000ff" stroke-width="0.1">=</text><text x="530.0" y="123" font-family="&quot;Liberation Serif&quot;" font-size="17.9" fill="#0000ff" text-anchor="start" textLength="78.2" lengthAdjust="spacingAndGlyphs" stroke="#0000ff" stroke-width="0.1">&#8722;8.00055</text><text x="611.1" y="123" font-family="&quot;Liberation Serif&quot;" font-size="17.9" fill="#0000ff" text-anchor="start" textLength="4.8" lengthAdjust="spacingAndGlyphs" stroke="#0000ff" stroke-width="0.1">1</text><text x="620.6" y="123" font-family="&quot;Liberation Serif&quot;" font-size="17.9" fill="#0000ff" text-anchor="start" textLength="59.3" lengthAdjust="spacingAndGlyphs" stroke="#0000ff" stroke-width="0.1">839563</text>
<text x="95.6" y="150" font-family="&quot;Liberation Serif&quot;" font-size="17.9" fill="#0000ff" text-anchor="start" textLength="36.05" lengthAdjust="spacingAndGlyphs" stroke="#0000ff" stroke-width="0.1">ACIS</text><text x="140.85" y="150" font-family="&quot;Liberation Serif&quot;" font-size="17.9" fill="#0000ff" text-anchor="start" textLength="22.55" lengthAdjust="spacingAndGlyphs" stroke="#0000ff" stroke-width="0.1">PB</text><text x="173.35" y="150" font-family="&quot;Liberation Serif&quot;" font-size="17.9" fill="#0000ff" text-anchor="start" textLength="11.55" lengthAdjust="spacingAndGlyphs" stroke="#0000ff" stroke-width="0.1">=</text><text x="194.6" y="150" font-family="&quot;Liberation Serif&quot;" font-size="17.9" fill="#0000ff" text-anchor="start" textLength="104.55" lengthAdjust="spacingAndGlyphs" stroke="#0000ff" stroke-width="0.1">WT00974024</text>
<path d="M140.5 162.5L521.5 148.5L535.5 528.5L155.5 543.5Z" fill="none" stroke="#0000ff" stroke-width="1"/>
<path d="M306.50 216.00 L344.97 214.58 L346.39 253.06 L307.92 254.47Z M307.92 254.47 L346.39 253.06 L347.81 291.53 L309.33 292.95Z M309.33 292.95 L347.81 291.53 L349.22 330.01 L310.75 331.42Z M310.75 331.42 L349.22 330.01 L350.64 368.48 L312.16 369.90Z M312.16 369.90 L350.64 368.48 L352.05 406.95 L313.58 408.37Z M313.58 408.37 L352.05 406.95 L353.47 445.43 L315.00 446.84Z M220.50 304.50 L259.17 303.08 L260.60 341.75 L221.92 343.17Z M221.92 343.17 L260.60 341.75 L262.02 380.42 L223.35 381.85Z M259.17 303.08 L297.85 301.65 L299.27 340.33 L260.60 341.75Z M260.60 341.75 L299.27 340.33 L300.69 379.00 L262.02 380.42Z" fill="none" stroke="#0000ff" stroke-width="1"/>
<path d="M332.80 254.00 L345.79 253.52 L347.20 291.90 L334.21 292.37Z M334.21 292.37 L347.20 291.90 L348.62 330.27 L335.62 330.75Z M335.62 330.75 L348.62 330.27 L350.03 368.64 L337.04 369.12Z M337.04 369.12 L350.03 368.64 L351.44 407.02 L338.45 407.50Z" fill="none" stroke="#ff8800" stroke-width="1"/>
<text x="326" y="238" font-family="&quot;Liberation Serif&quot;" font-size="12" fill="#0000ff" text-anchor="middle" stroke="#0000ff" stroke-width="0.1">0</text>
<text x="333.5" y="430.5" font-family="&quot;Liberation Serif&quot;" font-size="12" fill="#0000ff" text-anchor="middle" stroke="#0000ff" stroke-width="0.1">5</text>
<text x="327.5" y="277" font-family="&quot;Liberation Serif&quot;" font-size="17" fill="#ff1493" text-anchor="middle" >1</text>
<text x="329" y="314" font-family="&quot;Liberation Serif&quot;" font-size="17" fill="#ff1493" text-anchor="middle" >2</text>
<text x="330" y="354.5" font-family="&quot;Liberation Serif&quot;" font-size="17" fill="#ff1493" text-anchor="middle" >3</text>
<text x="332" y="392" font-family="&quot;Liberation Serif&quot;" font-size="17" fill="#ff1493" text-anchor="middle" >4</text>
<text x="244.8" y="327" font-family="&quot;Liberation Serif&quot;" font-size="12" fill="#0000ff" text-anchor="middle" stroke="#0000ff" stroke-width="0.1">0</text>
<text x="279.8" y="325.5" font-family="&quot;Liberation Serif&quot;" font-size="12" fill="#0000ff" text-anchor="middle" stroke="#0000ff" stroke-width="0.1">2</text>
<text x="246.2" y="363" font-family="&quot;Liberation Serif&quot;" font-size="12" fill="#0000ff" text-anchor="middle" stroke="#0000ff" stroke-width="0.1">1</text>
<text x="281.5" y="361" font-family="&quot;Liberation Serif&quot;" font-size="12" fill="#0000ff" text-anchor="middle" stroke="#0000ff" stroke-width="0.1">3</text>
<defs><pattern id="chk" width="2" height="2" patternUnits="userSpaceOnUse"><rect x="0" y="0" width="1" height="1" fill="#ff0000"/><rect x="1" y="1" width="1" height="1" fill="#ff0000"/></pattern></defs>
<path d="M342.5 335.5L345 340L342.5 345.5L339.5 340Z" stroke="#0000ff" stroke-width="1.2" fill="none"/>
<path d="M333.5 332.5L348 347M348 331.5L333.5 346" stroke="url(#chk)" stroke-width="3" fill="none"/>
<circle cx="452.9" cy="180.9" r="10.4" fill="none" stroke="#8c14ff" stroke-width="1"/>
<circle cx="162.1" cy="278.1" r="10.4" fill="none" stroke="#8c14ff" stroke-width="1"/>
<circle cx="260.7" cy="288.8" r="10.4" fill="none" stroke="#8c14ff" stroke-width="1"/>
<circle cx="461.7" cy="362.9" r="10.4" fill="none" stroke="#8c14ff" stroke-width="1"/>
<circle cx="456.5" cy="409.2" r="10.4" fill="none" stroke="#8c14ff" stroke-width="1"/>
<circle cx="247.4" cy="461.9" r="10.4" fill="none" stroke="#8c14ff" stroke-width="1"/>
<circle cx="491.2" cy="495.9" r="10.4" fill="none" stroke="#8c14ff" stroke-width="1"/>
<circle cx="347.3" cy="518" r="10.4" fill="none" stroke="#8c14ff" stroke-width="1"/>
<circle cx="452.5" cy="181.4" r="5.3" fill="none" stroke="#ff8800" stroke-width="1"/>
<circle cx="288.2" cy="250.8" r="5.3" fill="none" stroke="#ff8800" stroke-width="1"/>
<circle cx="456.3" cy="409.4" r="5.3" fill="none" stroke="#ff8800" stroke-width="1"/>
<circle cx="247.4" cy="461.9" r="5.3" fill="none" stroke="#ff8800" stroke-width="1"/>
<circle cx="491.2" cy="496.2" r="5.3" fill="none" stroke="#ff8800" stroke-width="1"/>
<rect x="181.5" y="345.5" width="6" height="6" fill="none" stroke="#ff0000" stroke-width="1"/>
<rect x="382.5" y="311.5" width="6" height="6" fill="none" stroke="#ff0000" stroke-width="1"/>
<rect x="340.5" y="480.5" width="6" height="6" fill="none" stroke="#ff0000" stroke-width="1"/>
<circle cx="95.6" cy="582" r="5.4" fill="none" stroke="#ff8800" stroke-width="1"/>
<text x="111.3" y="585" font-family="&quot;Liberation Serif&quot;" font-size="17.9" fill="#ff8800" text-anchor="start" textLength="49.4" lengthAdjust="spacingAndGlyphs" stroke="#ff8800" stroke-width="0.1">Guide</text><text x="170.2" y="585" font-family="&quot;Liberation Serif&quot;" font-size="17.9" fill="#ff8800" text-anchor="start" textLength="36.8" lengthAdjust="spacingAndGlyphs" stroke="#ff8800" stroke-width="0.1">Star</text>
<circle cx="231.8" cy="578.9" r="10.4" fill="none" stroke="#8c14ff" stroke-width="1"/>
<text x="247.7" y="585" font-family="&quot;Liberation Serif&quot;" font-size="17.9" fill="#8c14ff" text-anchor="start" textLength="30.6" lengthAdjust="spacingAndGlyphs" stroke="#8c14ff" stroke-width="0.1">Acq</text><text x="287.40000000000003" y="585" font-family="&quot;Liberation Serif&quot;" font-size="17.9" fill="#8c14ff" text-anchor="start" textLength="37.3" lengthAdjust="spacingAndGlyphs" stroke="#8c14ff" stroke-width="0.1">Star</text>
<circle cx="367.8" cy="576.1" r="15.6" fill="none" stroke="#ff00ff" stroke-width="1"/>
<text x="383.70000000000005" y="585" font-family="&quot;Liberation Serif&quot;" font-size="17.9" fill="#ff00ff" text-anchor="start" textLength="34.2" lengthAdjust="spacingAndGlyphs" stroke="#ff00ff" stroke-width="0.1">Mon</text><text x="428.0" y="585" font-family="&quot;Liberation Serif&quot;" font-size="17.9" fill="#ff00ff" text-anchor="start" textLength="36.4" lengthAdjust="spacingAndGlyphs" stroke="#ff00ff" stroke-width="0.1">Star</text>
<rect x="500.5" y="581.5" width="6" height="6" fill="none" stroke="#ff0000" stroke-width="1"/>
<text x="519.7" y="585" font-family="&quot;Liberation Serif&quot;" font-size="17.9" fill="#ff0000" text-anchor="start" textLength="25.6" lengthAdjust="spacingAndGlyphs" stroke="#ff0000" stroke-width="0.1">Fid</text><text x="554.7" y="585" font-family="&quot;Liberation Serif&quot;" font-size="17.9" fill="#ff0000" text-anchor="start" textLength="44.7" lengthAdjust="spacingAndGlyphs" stroke="#ff0000" stroke-width="0.1">Light</text>
<text x="78.6" y="35" font-family="&quot;Liberation Serif&quot;" font-size="17.9" fill="#1888ff" text-anchor="start" textLength="48.8" lengthAdjust="spacingAndGlyphs" stroke="#1888ff" stroke-width="0.1">Name</text><text x="136.6" y="35" font-family="&quot;Liberation Serif&quot;" font-size="17.9" fill="#1888ff" text-anchor="start" textLength="22.8" lengthAdjust="spacingAndGlyphs" stroke="#1888ff" stroke-width="0.1">GX</text><text x="168.1" y="35" font-family="&quot;Liberation Serif&quot;" font-size="17.9" fill="#1888ff" text-anchor="start" textLength="47.55" lengthAdjust="spacingAndGlyphs" stroke="#1888ff" stroke-width="0.1">13+1,</text><text x="225.1" y="35" font-family="&quot;Liberation Serif&quot;" font-size="17.9" fill="#1888ff" text-anchor="start" textLength="31.55" lengthAdjust="spacingAndGlyphs" stroke="#1888ff" stroke-width="0.1">Seq</text><text x="264.6" y="35" font-family="&quot;Liberation Serif&quot;" font-size="17.9" fill="#1888ff" text-anchor="start" textLength="10.8" lengthAdjust="spacingAndGlyphs" stroke="#1888ff" stroke-width="0.1">#</text><text x="284.1" y="35" font-family="&quot;Liberation Serif&quot;" font-size="17.9" fill="#1888ff" text-anchor="start" textLength="67.55" lengthAdjust="spacingAndGlyphs" stroke="#1888ff" stroke-width="0.1">901851,</text><text x="360.1" y="35" font-family="&quot;Liberation Serif&quot;" font-size="17.9" fill="#1888ff" text-anchor="start" textLength="47.8" lengthAdjust="spacingAndGlyphs" stroke="#1888ff" stroke-width="0.1">Obsid</text><text x="417.1" y="35" font-family="&quot;Liberation Serif&quot;" font-size="17.9" fill="#1888ff" text-anchor="start" textLength="55.8" lengthAdjust="spacingAndGlyphs" stroke="#1888ff" stroke-width="0.1">26698,</text><text x="482.1" y="35" font-family="&quot;Liberation Serif&quot;" font-size="17.9" fill="#1888ff" text-anchor="start" textLength="19.55" lengthAdjust="spacingAndGlyphs" stroke="#1888ff" stroke-width="0.1">ST</text><text x="511.6" y="35" font-family="&quot;Liberation Serif&quot;" font-size="17.9" fill="#1888ff" text-anchor="start" textLength="89.8" lengthAdjust="spacingAndGlyphs" stroke="#1888ff" stroke-width="0.1">Scheduled</text>
<text x="232.7" y="62" font-family="&quot;Liberation Serif&quot;" font-size="16.5" fill="#1888ff" text-anchor="start" textLength="26.2" lengthAdjust="spacingAndGlyphs" stroke="#1888ff" stroke-width="0.1">274</text>
<text x="492.7" y="62" font-family="&quot;Liberation Serif&quot;" font-size="16.5" fill="#1888ff" text-anchor="start" textLength="25.8" lengthAdjust="spacingAndGlyphs" stroke="#1888ff" stroke-width="0.1">273</text>
<g transform="translate(61.7 71.3) rotate(-90)"><text x="-27.9" y="0" font-family="&quot;Liberation Serif&quot;" font-size="16.5" fill="#1888ff" text-anchor="start" textLength="27.6" lengthAdjust="spacingAndGlyphs" stroke="#1888ff" stroke-width="0.1">&#8722;16</text><text x="9.5" y="0" font-family="&quot;Liberation Serif&quot;" font-size="16.5" fill="#1888ff" text-anchor="start" textLength="19.6" lengthAdjust="spacingAndGlyphs" stroke="#1888ff" stroke-width="0.1">10&#8242;</text></g>
<g transform="translate(61.7 161.3) rotate(-90)"><text x="-27.9" y="0" font-family="&quot;Liberation Serif&quot;" font-size="16.5" fill="#1888ff" text-anchor="start" textLength="27.6" lengthAdjust="spacingAndGlyphs" stroke="#1888ff" stroke-width="0.1">&#8722;16</text><text x="9.5" y="0" font-family="&quot;Liberation Serif&quot;" font-size="16.5" fill="#1888ff" text-anchor="start" textLength="19.6" lengthAdjust="spacingAndGlyphs" stroke="#1888ff" stroke-width="0.1">30&#8242;</text></g>
<g transform="translate(61.7 252.2) rotate(-90)"><text x="-27.9" y="0" font-family="&quot;Liberation Serif&quot;" font-size="16.5" fill="#1888ff" text-anchor="start" textLength="27.6" lengthAdjust="spacingAndGlyphs" stroke="#1888ff" stroke-width="0.1">&#8722;16</text><text x="9.5" y="0" font-family="&quot;Liberation Serif&quot;" font-size="16.5" fill="#1888ff" text-anchor="start" textLength="19.6" lengthAdjust="spacingAndGlyphs" stroke="#1888ff" stroke-width="0.1">50&#8242;</text></g>
<g transform="translate(61.7 343.4) rotate(-90)"><text x="-27.9" y="0" font-family="&quot;Liberation Serif&quot;" font-size="16.5" fill="#1888ff" text-anchor="start" textLength="27.6" lengthAdjust="spacingAndGlyphs" stroke="#1888ff" stroke-width="0.1">&#8722;17</text><text x="9.5" y="0" font-family="&quot;Liberation Serif&quot;" font-size="16.5" fill="#1888ff" text-anchor="start" textLength="19.6" lengthAdjust="spacingAndGlyphs" stroke="#1888ff" stroke-width="0.1">10&#8242;</text></g>
<g transform="translate(61.7 433.4) rotate(-90)"><text x="-27.9" y="0" font-family="&quot;Liberation Serif&quot;" font-size="16.5" fill="#1888ff" text-anchor="start" textLength="27.6" lengthAdjust="spacingAndGlyphs" stroke="#1888ff" stroke-width="0.1">&#8722;17</text><text x="9.5" y="0" font-family="&quot;Liberation Serif&quot;" font-size="16.5" fill="#1888ff" text-anchor="start" textLength="19.6" lengthAdjust="spacingAndGlyphs" stroke="#1888ff" stroke-width="0.1">30&#8242;</text></g>
<g transform="translate(61.7 524.1) rotate(-90)"><text x="-27.9" y="0" font-family="&quot;Liberation Serif&quot;" font-size="16.5" fill="#1888ff" text-anchor="start" textLength="27.6" lengthAdjust="spacingAndGlyphs" stroke="#1888ff" stroke-width="0.1">&#8722;17</text><text x="9.5" y="0" font-family="&quot;Liberation Serif&quot;" font-size="16.5" fill="#1888ff" text-anchor="start" textLength="19.6" lengthAdjust="spacingAndGlyphs" stroke="#1888ff" stroke-width="0.1">50&#8242;</text></g>
<g transform="translate(32.6 340.4) rotate(-90)"><text x="-51.1" y="0" font-family="&quot;Liberation Serif&quot;" font-size="19" fill="#1888ff" text-anchor="start" textLength="29.9" lengthAdjust="spacingAndGlyphs" stroke="#1888ff" stroke-width="0.1">Dec</text><text x="-9.700000000000001" y="0" font-family="&quot;Liberation Serif&quot;" font-size="19" fill="#1888ff" text-anchor="start" textLength="60.8" lengthAdjust="spacingAndGlyphs" stroke="#1888ff" stroke-width="0.1">(J2000)</text></g>
<text x="87.6" y="634" font-family="&quot;Liberation Serif&quot;" font-size="16" fill="#1888ff" text-anchor="start" textLength="57.2" lengthAdjust="spacingAndGlyphs" stroke="#1888ff" stroke-width="0.35">18h18m</text>
<text x="217.6" y="634" font-family="&quot;Liberation Serif&quot;" font-size="16" fill="#1888ff" text-anchor="start" textLength="57.2" lengthAdjust="spacingAndGlyphs" stroke="#1888ff" stroke-width="0.35">18h16m</text>
<text x="347.7" y="634" font-family="&quot;Liberation Serif&quot;" font-size="16" fill="#1888ff" text-anchor="start" textLength="57.2" lengthAdjust="spacingAndGlyphs" stroke="#1888ff" stroke-width="0.35">18h14m</text>
<text x="477.7" y="634" font-family="&quot;Liberation Serif&quot;" font-size="16" fill="#1888ff" text-anchor="start" textLength="57.2" lengthAdjust="spacingAndGlyphs" stroke="#1888ff" stroke-width="0.35">18h12m</text>
<text x="292.8" y="666" font-family="&quot;Liberation Serif&quot;" font-size="18" fill="#1888ff" text-anchor="start" textLength="22.0" lengthAdjust="spacingAndGlyphs" stroke="#1888ff" stroke-width="0.1">RA</text><text x="323.70000000000005" y="666" font-family="&quot;Liberation Serif&quot;" font-size="18" fill="#1888ff" text-anchor="start" textLength="63.4" lengthAdjust="spacingAndGlyphs" stroke="#1888ff" stroke-width="0.1">(J2000)</text>
<g transform="translate(539.5 673) scale(1 1.22)"><text x="0" y="0" font-family="&quot;Liberation Mono&quot;" font-size="10" fill="#ffffff" text-anchor="start" textLength="137.5" lengthAdjust="spacingAndGlyphs" >tdowd 15&#8212;Feb&#8212;2024 12:47</text></g>
<defs><linearGradient id="cb" x1="0" y1="0" x2="0" y2="1"><stop offset="0" stop-color="#080808"/><stop offset="1" stop-color="#fafafa"/></linearGradient></defs>
<rect x="616" y="69" width="20" height="542" fill="url(#cb)"/>
<rect x="615.5" y="68.5" width="21" height="543" fill="none" stroke="#1888ff" stroke-width="1"/>
<path d="M616 92.5H619M633 92.5H636 M616 116.5H619M633 116.5H636 M616 140.5H619M633 140.5H636 M616 164.5H619M633 164.5H636 M616 188.5H619M633 188.5H636 M616 212.5H619M633 212.5H636 M616 236.5H619M633 236.5H636 M616 260.5H619M633 260.5H636 M616 284.5H619M633 284.5H636 M616 308.5H619M633 308.5H636 M616 332.5H619M633 332.5H636 M616 356.5H619M633 356.5H636 M616 380.5H619M633 380.5H636 M616 404.5H619M633 404.5H636 M616 428.5H619M633 428.5H636 M616 452.5H619M633 452.5H636 M616 476.5H619M633 476.5H636 M616 500.5H619M633 500.5H636 M616 524.5H619M633 524.5H636 M616 548.5H619M633 548.5H636 M616 572.5H619M633 572.5H636 M616 596.5H619M633 596.5H636" stroke="#1888ff" stroke-width="1"/>
<g transform="translate(649 164) rotate(-90)"><text x="0" y="0" font-family="&quot;Liberation Serif&quot;" font-size="11.5" fill="#1888ff" text-anchor="middle" stroke="#1888ff" stroke-width="0.3">2x10<tspan dy="-5" font-size="8">4</tspan></text></g>
<g transform="translate(649 284) rotate(-90)"><text x="0" y="0" font-family="&quot;Liberation Serif&quot;" font-size="11.5" fill="#1888ff" text-anchor="middle" stroke="#1888ff" stroke-width="0.3">1.5x10<tspan dy="-5" font-size="8">4</tspan></text></g>
<g transform="translate(649 404) rotate(-90)"><text x="0" y="0" font-family="&quot;Liberation Serif&quot;" font-size="11.5" fill="#1888ff" text-anchor="middle" stroke="#1888ff" stroke-width="0.3">10<tspan dy="-5" font-size="8">4</tspan></text></g>
<g transform="translate(649 524) rotate(-90)"><text x="0" y="0" font-family="&quot;Liberation Serif&quot;" font-size="11.5" fill="#1888ff" text-anchor="middle" stroke="#1888ff" stroke-width="0.3">5000</text></g>
<g transform="translate(659 119.5) rotate(-90)"><text x="-50" y="0" font-family="&quot;Liberation Serif&quot;" font-size="11.5" fill="#1888ff" text-anchor="start" textLength="100.5" lengthAdjust="spacingAndGlyphs" stroke="#1888ff" stroke-width="0.25">POSS scaled density</text></g>
</svg></body></html>
